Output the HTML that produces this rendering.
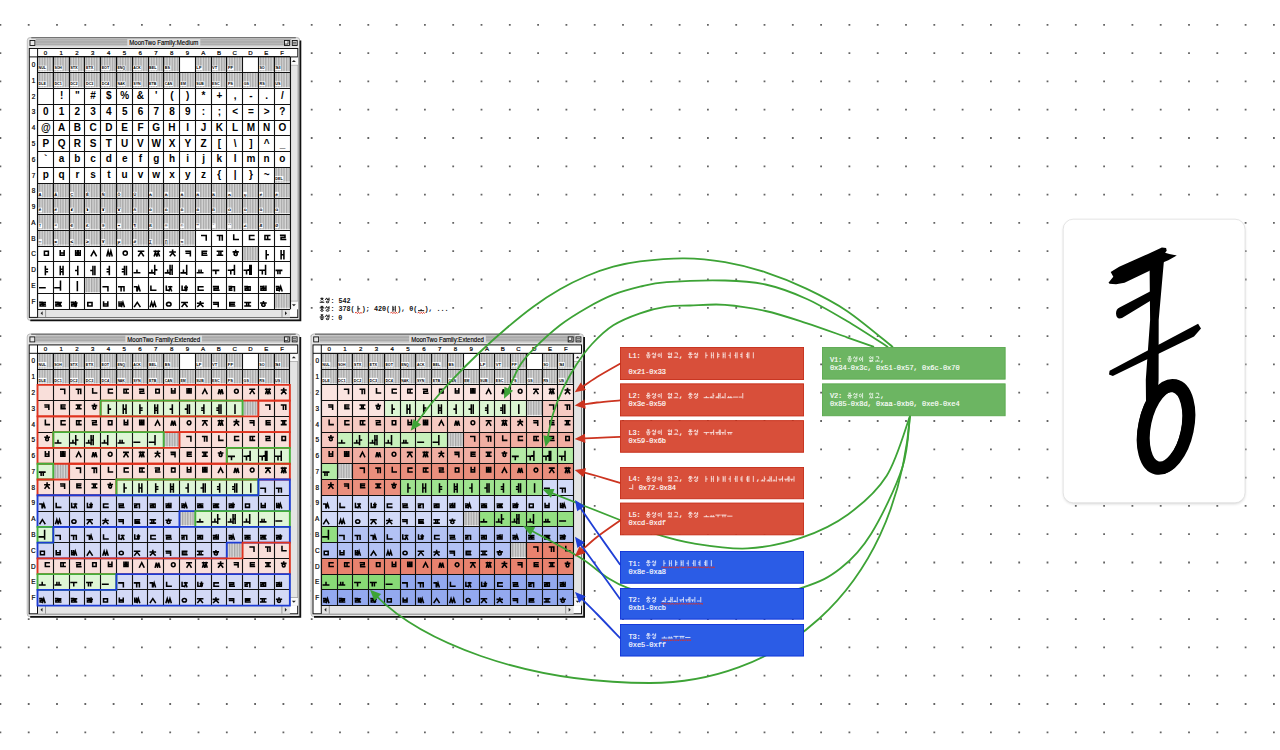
<!DOCTYPE html><html><head><meta charset="utf-8"><style>html,body{margin:0;padding:0;background:#fff;width:1280px;height:750px;overflow:hidden}svg{display:block}</style></head><body><svg width="1280" height="750" viewBox="0 0 1280 750"><defs><pattern id="hatch" patternUnits="userSpaceOnUse" width="2.6" height="4"><rect width="2.6" height="4" fill="#d8d8d8"/><rect width="1.3" height="4" fill="#a6a6a6"/></pattern><filter id="sh" x="-10%" y="-10%" width="120%" height="120%"><feGaussianBlur stdDeviation="1.6"/></filter></defs><path fill="#646464" d="M-0.5 23.9h1.8v1.8h-1.8zM27.8 23.9h1.8v1.8h-1.8zM56.1 23.9h1.8v1.8h-1.8zM84.4 23.9h1.8v1.8h-1.8zM112.7 23.9h1.8v1.8h-1.8zM141 23.9h1.8v1.8h-1.8zM169.3 23.9h1.8v1.8h-1.8zM197.6 23.9h1.8v1.8h-1.8zM225.9 23.9h1.8v1.8h-1.8zM254.2 23.9h1.8v1.8h-1.8zM282.5 23.9h1.8v1.8h-1.8zM310.8 23.9h1.8v1.8h-1.8zM339.1 23.9h1.8v1.8h-1.8zM367.4 23.9h1.8v1.8h-1.8zM395.7 23.9h1.8v1.8h-1.8zM424 23.9h1.8v1.8h-1.8zM452.3 23.9h1.8v1.8h-1.8zM480.6 23.9h1.8v1.8h-1.8zM508.9 23.9h1.8v1.8h-1.8zM537.2 23.9h1.8v1.8h-1.8zM565.5 23.9h1.8v1.8h-1.8zM593.8 23.9h1.8v1.8h-1.8zM622.1 23.9h1.8v1.8h-1.8zM650.4 23.9h1.8v1.8h-1.8zM678.7 23.9h1.8v1.8h-1.8zM707 23.9h1.8v1.8h-1.8zM735.3 23.9h1.8v1.8h-1.8zM763.6 23.9h1.8v1.8h-1.8zM791.9 23.9h1.8v1.8h-1.8zM820.2 23.9h1.8v1.8h-1.8zM848.5 23.9h1.8v1.8h-1.8zM876.8 23.9h1.8v1.8h-1.8zM905.1 23.9h1.8v1.8h-1.8zM933.4 23.9h1.8v1.8h-1.8zM961.7 23.9h1.8v1.8h-1.8zM990 23.9h1.8v1.8h-1.8zM1018.3 23.9h1.8v1.8h-1.8zM1046.6 23.9h1.8v1.8h-1.8zM1074.9 23.9h1.8v1.8h-1.8zM1103.2 23.9h1.8v1.8h-1.8zM1131.5 23.9h1.8v1.8h-1.8zM1159.8 23.9h1.8v1.8h-1.8zM1188.1 23.9h1.8v1.8h-1.8zM1216.4 23.9h1.8v1.8h-1.8zM1244.7 23.9h1.8v1.8h-1.8zM1273 23.9h1.8v1.8h-1.8zM-0.5 52.2h1.8v1.8h-1.8zM27.8 52.2h1.8v1.8h-1.8zM56.1 52.2h1.8v1.8h-1.8zM84.4 52.2h1.8v1.8h-1.8zM112.7 52.2h1.8v1.8h-1.8zM141 52.2h1.8v1.8h-1.8zM169.3 52.2h1.8v1.8h-1.8zM197.6 52.2h1.8v1.8h-1.8zM225.9 52.2h1.8v1.8h-1.8zM254.2 52.2h1.8v1.8h-1.8zM282.5 52.2h1.8v1.8h-1.8zM310.8 52.2h1.8v1.8h-1.8zM339.1 52.2h1.8v1.8h-1.8zM367.4 52.2h1.8v1.8h-1.8zM395.7 52.2h1.8v1.8h-1.8zM424 52.2h1.8v1.8h-1.8zM452.3 52.2h1.8v1.8h-1.8zM480.6 52.2h1.8v1.8h-1.8zM508.9 52.2h1.8v1.8h-1.8zM537.2 52.2h1.8v1.8h-1.8zM565.5 52.2h1.8v1.8h-1.8zM593.8 52.2h1.8v1.8h-1.8zM622.1 52.2h1.8v1.8h-1.8zM650.4 52.2h1.8v1.8h-1.8zM678.7 52.2h1.8v1.8h-1.8zM707 52.2h1.8v1.8h-1.8zM735.3 52.2h1.8v1.8h-1.8zM763.6 52.2h1.8v1.8h-1.8zM791.9 52.2h1.8v1.8h-1.8zM820.2 52.2h1.8v1.8h-1.8zM848.5 52.2h1.8v1.8h-1.8zM876.8 52.2h1.8v1.8h-1.8zM905.1 52.2h1.8v1.8h-1.8zM933.4 52.2h1.8v1.8h-1.8zM961.7 52.2h1.8v1.8h-1.8zM990 52.2h1.8v1.8h-1.8zM1018.3 52.2h1.8v1.8h-1.8zM1046.6 52.2h1.8v1.8h-1.8zM1074.9 52.2h1.8v1.8h-1.8zM1103.2 52.2h1.8v1.8h-1.8zM1131.5 52.2h1.8v1.8h-1.8zM1159.8 52.2h1.8v1.8h-1.8zM1188.1 52.2h1.8v1.8h-1.8zM1216.4 52.2h1.8v1.8h-1.8zM1244.7 52.2h1.8v1.8h-1.8zM1273 52.2h1.8v1.8h-1.8zM-0.5 80.5h1.8v1.8h-1.8zM27.8 80.5h1.8v1.8h-1.8zM56.1 80.5h1.8v1.8h-1.8zM84.4 80.5h1.8v1.8h-1.8zM112.7 80.5h1.8v1.8h-1.8zM141 80.5h1.8v1.8h-1.8zM169.3 80.5h1.8v1.8h-1.8zM197.6 80.5h1.8v1.8h-1.8zM225.9 80.5h1.8v1.8h-1.8zM254.2 80.5h1.8v1.8h-1.8zM282.5 80.5h1.8v1.8h-1.8zM310.8 80.5h1.8v1.8h-1.8zM339.1 80.5h1.8v1.8h-1.8zM367.4 80.5h1.8v1.8h-1.8zM395.7 80.5h1.8v1.8h-1.8zM424 80.5h1.8v1.8h-1.8zM452.3 80.5h1.8v1.8h-1.8zM480.6 80.5h1.8v1.8h-1.8zM508.9 80.5h1.8v1.8h-1.8zM537.2 80.5h1.8v1.8h-1.8zM565.5 80.5h1.8v1.8h-1.8zM593.8 80.5h1.8v1.8h-1.8zM622.1 80.5h1.8v1.8h-1.8zM650.4 80.5h1.8v1.8h-1.8zM678.7 80.5h1.8v1.8h-1.8zM707 80.5h1.8v1.8h-1.8zM735.3 80.5h1.8v1.8h-1.8zM763.6 80.5h1.8v1.8h-1.8zM791.9 80.5h1.8v1.8h-1.8zM820.2 80.5h1.8v1.8h-1.8zM848.5 80.5h1.8v1.8h-1.8zM876.8 80.5h1.8v1.8h-1.8zM905.1 80.5h1.8v1.8h-1.8zM933.4 80.5h1.8v1.8h-1.8zM961.7 80.5h1.8v1.8h-1.8zM990 80.5h1.8v1.8h-1.8zM1018.3 80.5h1.8v1.8h-1.8zM1046.6 80.5h1.8v1.8h-1.8zM1074.9 80.5h1.8v1.8h-1.8zM1103.2 80.5h1.8v1.8h-1.8zM1131.5 80.5h1.8v1.8h-1.8zM1159.8 80.5h1.8v1.8h-1.8zM1188.1 80.5h1.8v1.8h-1.8zM1216.4 80.5h1.8v1.8h-1.8zM1244.7 80.5h1.8v1.8h-1.8zM1273 80.5h1.8v1.8h-1.8zM-0.5 108.8h1.8v1.8h-1.8zM27.8 108.8h1.8v1.8h-1.8zM56.1 108.8h1.8v1.8h-1.8zM84.4 108.8h1.8v1.8h-1.8zM112.7 108.8h1.8v1.8h-1.8zM141 108.8h1.8v1.8h-1.8zM169.3 108.8h1.8v1.8h-1.8zM197.6 108.8h1.8v1.8h-1.8zM225.9 108.8h1.8v1.8h-1.8zM254.2 108.8h1.8v1.8h-1.8zM282.5 108.8h1.8v1.8h-1.8zM310.8 108.8h1.8v1.8h-1.8zM339.1 108.8h1.8v1.8h-1.8zM367.4 108.8h1.8v1.8h-1.8zM395.7 108.8h1.8v1.8h-1.8zM424 108.8h1.8v1.8h-1.8zM452.3 108.8h1.8v1.8h-1.8zM480.6 108.8h1.8v1.8h-1.8zM508.9 108.8h1.8v1.8h-1.8zM537.2 108.8h1.8v1.8h-1.8zM565.5 108.8h1.8v1.8h-1.8zM593.8 108.8h1.8v1.8h-1.8zM622.1 108.8h1.8v1.8h-1.8zM650.4 108.8h1.8v1.8h-1.8zM678.7 108.8h1.8v1.8h-1.8zM707 108.8h1.8v1.8h-1.8zM735.3 108.8h1.8v1.8h-1.8zM763.6 108.8h1.8v1.8h-1.8zM791.9 108.8h1.8v1.8h-1.8zM820.2 108.8h1.8v1.8h-1.8zM848.5 108.8h1.8v1.8h-1.8zM876.8 108.8h1.8v1.8h-1.8zM905.1 108.8h1.8v1.8h-1.8zM933.4 108.8h1.8v1.8h-1.8zM961.7 108.8h1.8v1.8h-1.8zM990 108.8h1.8v1.8h-1.8zM1018.3 108.8h1.8v1.8h-1.8zM1046.6 108.8h1.8v1.8h-1.8zM1074.9 108.8h1.8v1.8h-1.8zM1103.2 108.8h1.8v1.8h-1.8zM1131.5 108.8h1.8v1.8h-1.8zM1159.8 108.8h1.8v1.8h-1.8zM1188.1 108.8h1.8v1.8h-1.8zM1216.4 108.8h1.8v1.8h-1.8zM1244.7 108.8h1.8v1.8h-1.8zM1273 108.8h1.8v1.8h-1.8zM-0.5 137.1h1.8v1.8h-1.8zM27.8 137.1h1.8v1.8h-1.8zM56.1 137.1h1.8v1.8h-1.8zM84.4 137.1h1.8v1.8h-1.8zM112.7 137.1h1.8v1.8h-1.8zM141 137.1h1.8v1.8h-1.8zM169.3 137.1h1.8v1.8h-1.8zM197.6 137.1h1.8v1.8h-1.8zM225.9 137.1h1.8v1.8h-1.8zM254.2 137.1h1.8v1.8h-1.8zM282.5 137.1h1.8v1.8h-1.8zM310.8 137.1h1.8v1.8h-1.8zM339.1 137.1h1.8v1.8h-1.8zM367.4 137.1h1.8v1.8h-1.8zM395.7 137.1h1.8v1.8h-1.8zM424 137.1h1.8v1.8h-1.8zM452.3 137.1h1.8v1.8h-1.8zM480.6 137.1h1.8v1.8h-1.8zM508.9 137.1h1.8v1.8h-1.8zM537.2 137.1h1.8v1.8h-1.8zM565.5 137.1h1.8v1.8h-1.8zM593.8 137.1h1.8v1.8h-1.8zM622.1 137.1h1.8v1.8h-1.8zM650.4 137.1h1.8v1.8h-1.8zM678.7 137.1h1.8v1.8h-1.8zM707 137.1h1.8v1.8h-1.8zM735.3 137.1h1.8v1.8h-1.8zM763.6 137.1h1.8v1.8h-1.8zM791.9 137.1h1.8v1.8h-1.8zM820.2 137.1h1.8v1.8h-1.8zM848.5 137.1h1.8v1.8h-1.8zM876.8 137.1h1.8v1.8h-1.8zM905.1 137.1h1.8v1.8h-1.8zM933.4 137.1h1.8v1.8h-1.8zM961.7 137.1h1.8v1.8h-1.8zM990 137.1h1.8v1.8h-1.8zM1018.3 137.1h1.8v1.8h-1.8zM1046.6 137.1h1.8v1.8h-1.8zM1074.9 137.1h1.8v1.8h-1.8zM1103.2 137.1h1.8v1.8h-1.8zM1131.5 137.1h1.8v1.8h-1.8zM1159.8 137.1h1.8v1.8h-1.8zM1188.1 137.1h1.8v1.8h-1.8zM1216.4 137.1h1.8v1.8h-1.8zM1244.7 137.1h1.8v1.8h-1.8zM1273 137.1h1.8v1.8h-1.8zM-0.5 165.4h1.8v1.8h-1.8zM27.8 165.4h1.8v1.8h-1.8zM56.1 165.4h1.8v1.8h-1.8zM84.4 165.4h1.8v1.8h-1.8zM112.7 165.4h1.8v1.8h-1.8zM141 165.4h1.8v1.8h-1.8zM169.3 165.4h1.8v1.8h-1.8zM197.6 165.4h1.8v1.8h-1.8zM225.9 165.4h1.8v1.8h-1.8zM254.2 165.4h1.8v1.8h-1.8zM282.5 165.4h1.8v1.8h-1.8zM310.8 165.4h1.8v1.8h-1.8zM339.1 165.4h1.8v1.8h-1.8zM367.4 165.4h1.8v1.8h-1.8zM395.7 165.4h1.8v1.8h-1.8zM424 165.4h1.8v1.8h-1.8zM452.3 165.4h1.8v1.8h-1.8zM480.6 165.4h1.8v1.8h-1.8zM508.9 165.4h1.8v1.8h-1.8zM537.2 165.4h1.8v1.8h-1.8zM565.5 165.4h1.8v1.8h-1.8zM593.8 165.4h1.8v1.8h-1.8zM622.1 165.4h1.8v1.8h-1.8zM650.4 165.4h1.8v1.8h-1.8zM678.7 165.4h1.8v1.8h-1.8zM707 165.4h1.8v1.8h-1.8zM735.3 165.4h1.8v1.8h-1.8zM763.6 165.4h1.8v1.8h-1.8zM791.9 165.4h1.8v1.8h-1.8zM820.2 165.4h1.8v1.8h-1.8zM848.5 165.4h1.8v1.8h-1.8zM876.8 165.4h1.8v1.8h-1.8zM905.1 165.4h1.8v1.8h-1.8zM933.4 165.4h1.8v1.8h-1.8zM961.7 165.4h1.8v1.8h-1.8zM990 165.4h1.8v1.8h-1.8zM1018.3 165.4h1.8v1.8h-1.8zM1046.6 165.4h1.8v1.8h-1.8zM1074.9 165.4h1.8v1.8h-1.8zM1103.2 165.4h1.8v1.8h-1.8zM1131.5 165.4h1.8v1.8h-1.8zM1159.8 165.4h1.8v1.8h-1.8zM1188.1 165.4h1.8v1.8h-1.8zM1216.4 165.4h1.8v1.8h-1.8zM1244.7 165.4h1.8v1.8h-1.8zM1273 165.4h1.8v1.8h-1.8zM-0.5 193.7h1.8v1.8h-1.8zM27.8 193.7h1.8v1.8h-1.8zM56.1 193.7h1.8v1.8h-1.8zM84.4 193.7h1.8v1.8h-1.8zM112.7 193.7h1.8v1.8h-1.8zM141 193.7h1.8v1.8h-1.8zM169.3 193.7h1.8v1.8h-1.8zM197.6 193.7h1.8v1.8h-1.8zM225.9 193.7h1.8v1.8h-1.8zM254.2 193.7h1.8v1.8h-1.8zM282.5 193.7h1.8v1.8h-1.8zM310.8 193.7h1.8v1.8h-1.8zM339.1 193.7h1.8v1.8h-1.8zM367.4 193.7h1.8v1.8h-1.8zM395.7 193.7h1.8v1.8h-1.8zM424 193.7h1.8v1.8h-1.8zM452.3 193.7h1.8v1.8h-1.8zM480.6 193.7h1.8v1.8h-1.8zM508.9 193.7h1.8v1.8h-1.8zM537.2 193.7h1.8v1.8h-1.8zM565.5 193.7h1.8v1.8h-1.8zM593.8 193.7h1.8v1.8h-1.8zM622.1 193.7h1.8v1.8h-1.8zM650.4 193.7h1.8v1.8h-1.8zM678.7 193.7h1.8v1.8h-1.8zM707 193.7h1.8v1.8h-1.8zM735.3 193.7h1.8v1.8h-1.8zM763.6 193.7h1.8v1.8h-1.8zM791.9 193.7h1.8v1.8h-1.8zM820.2 193.7h1.8v1.8h-1.8zM848.5 193.7h1.8v1.8h-1.8zM876.8 193.7h1.8v1.8h-1.8zM905.1 193.7h1.8v1.8h-1.8zM933.4 193.7h1.8v1.8h-1.8zM961.7 193.7h1.8v1.8h-1.8zM990 193.7h1.8v1.8h-1.8zM1018.3 193.7h1.8v1.8h-1.8zM1046.6 193.7h1.8v1.8h-1.8zM1074.9 193.7h1.8v1.8h-1.8zM1103.2 193.7h1.8v1.8h-1.8zM1131.5 193.7h1.8v1.8h-1.8zM1159.8 193.7h1.8v1.8h-1.8zM1188.1 193.7h1.8v1.8h-1.8zM1216.4 193.7h1.8v1.8h-1.8zM1244.7 193.7h1.8v1.8h-1.8zM1273 193.7h1.8v1.8h-1.8zM-0.5 222h1.8v1.8h-1.8zM27.8 222h1.8v1.8h-1.8zM56.1 222h1.8v1.8h-1.8zM84.4 222h1.8v1.8h-1.8zM112.7 222h1.8v1.8h-1.8zM141 222h1.8v1.8h-1.8zM169.3 222h1.8v1.8h-1.8zM197.6 222h1.8v1.8h-1.8zM225.9 222h1.8v1.8h-1.8zM254.2 222h1.8v1.8h-1.8zM282.5 222h1.8v1.8h-1.8zM310.8 222h1.8v1.8h-1.8zM339.1 222h1.8v1.8h-1.8zM367.4 222h1.8v1.8h-1.8zM395.7 222h1.8v1.8h-1.8zM424 222h1.8v1.8h-1.8zM452.3 222h1.8v1.8h-1.8zM480.6 222h1.8v1.8h-1.8zM508.9 222h1.8v1.8h-1.8zM537.2 222h1.8v1.8h-1.8zM565.5 222h1.8v1.8h-1.8zM593.8 222h1.8v1.8h-1.8zM622.1 222h1.8v1.8h-1.8zM650.4 222h1.8v1.8h-1.8zM678.7 222h1.8v1.8h-1.8zM707 222h1.8v1.8h-1.8zM735.3 222h1.8v1.8h-1.8zM763.6 222h1.8v1.8h-1.8zM791.9 222h1.8v1.8h-1.8zM820.2 222h1.8v1.8h-1.8zM848.5 222h1.8v1.8h-1.8zM876.8 222h1.8v1.8h-1.8zM905.1 222h1.8v1.8h-1.8zM933.4 222h1.8v1.8h-1.8zM961.7 222h1.8v1.8h-1.8zM990 222h1.8v1.8h-1.8zM1018.3 222h1.8v1.8h-1.8zM1046.6 222h1.8v1.8h-1.8zM1074.9 222h1.8v1.8h-1.8zM1103.2 222h1.8v1.8h-1.8zM1131.5 222h1.8v1.8h-1.8zM1159.8 222h1.8v1.8h-1.8zM1188.1 222h1.8v1.8h-1.8zM1216.4 222h1.8v1.8h-1.8zM1244.7 222h1.8v1.8h-1.8zM1273 222h1.8v1.8h-1.8zM-0.5 250.3h1.8v1.8h-1.8zM27.8 250.3h1.8v1.8h-1.8zM56.1 250.3h1.8v1.8h-1.8zM84.4 250.3h1.8v1.8h-1.8zM112.7 250.3h1.8v1.8h-1.8zM141 250.3h1.8v1.8h-1.8zM169.3 250.3h1.8v1.8h-1.8zM197.6 250.3h1.8v1.8h-1.8zM225.9 250.3h1.8v1.8h-1.8zM254.2 250.3h1.8v1.8h-1.8zM282.5 250.3h1.8v1.8h-1.8zM310.8 250.3h1.8v1.8h-1.8zM339.1 250.3h1.8v1.8h-1.8zM367.4 250.3h1.8v1.8h-1.8zM395.7 250.3h1.8v1.8h-1.8zM424 250.3h1.8v1.8h-1.8zM452.3 250.3h1.8v1.8h-1.8zM480.6 250.3h1.8v1.8h-1.8zM508.9 250.3h1.8v1.8h-1.8zM537.2 250.3h1.8v1.8h-1.8zM565.5 250.3h1.8v1.8h-1.8zM593.8 250.3h1.8v1.8h-1.8zM622.1 250.3h1.8v1.8h-1.8zM650.4 250.3h1.8v1.8h-1.8zM678.7 250.3h1.8v1.8h-1.8zM707 250.3h1.8v1.8h-1.8zM735.3 250.3h1.8v1.8h-1.8zM763.6 250.3h1.8v1.8h-1.8zM791.9 250.3h1.8v1.8h-1.8zM820.2 250.3h1.8v1.8h-1.8zM848.5 250.3h1.8v1.8h-1.8zM876.8 250.3h1.8v1.8h-1.8zM905.1 250.3h1.8v1.8h-1.8zM933.4 250.3h1.8v1.8h-1.8zM961.7 250.3h1.8v1.8h-1.8zM990 250.3h1.8v1.8h-1.8zM1018.3 250.3h1.8v1.8h-1.8zM1046.6 250.3h1.8v1.8h-1.8zM1074.9 250.3h1.8v1.8h-1.8zM1103.2 250.3h1.8v1.8h-1.8zM1131.5 250.3h1.8v1.8h-1.8zM1159.8 250.3h1.8v1.8h-1.8zM1188.1 250.3h1.8v1.8h-1.8zM1216.4 250.3h1.8v1.8h-1.8zM1244.7 250.3h1.8v1.8h-1.8zM1273 250.3h1.8v1.8h-1.8zM-0.5 278.6h1.8v1.8h-1.8zM27.8 278.6h1.8v1.8h-1.8zM56.1 278.6h1.8v1.8h-1.8zM84.4 278.6h1.8v1.8h-1.8zM112.7 278.6h1.8v1.8h-1.8zM141 278.6h1.8v1.8h-1.8zM169.3 278.6h1.8v1.8h-1.8zM197.6 278.6h1.8v1.8h-1.8zM225.9 278.6h1.8v1.8h-1.8zM254.2 278.6h1.8v1.8h-1.8zM282.5 278.6h1.8v1.8h-1.8zM310.8 278.6h1.8v1.8h-1.8zM339.1 278.6h1.8v1.8h-1.8zM367.4 278.6h1.8v1.8h-1.8zM395.7 278.6h1.8v1.8h-1.8zM424 278.6h1.8v1.8h-1.8zM452.3 278.6h1.8v1.8h-1.8zM480.6 278.6h1.8v1.8h-1.8zM508.9 278.6h1.8v1.8h-1.8zM537.2 278.6h1.8v1.8h-1.8zM565.5 278.6h1.8v1.8h-1.8zM593.8 278.6h1.8v1.8h-1.8zM622.1 278.6h1.8v1.8h-1.8zM650.4 278.6h1.8v1.8h-1.8zM678.7 278.6h1.8v1.8h-1.8zM707 278.6h1.8v1.8h-1.8zM735.3 278.6h1.8v1.8h-1.8zM763.6 278.6h1.8v1.8h-1.8zM791.9 278.6h1.8v1.8h-1.8zM820.2 278.6h1.8v1.8h-1.8zM848.5 278.6h1.8v1.8h-1.8zM876.8 278.6h1.8v1.8h-1.8zM905.1 278.6h1.8v1.8h-1.8zM933.4 278.6h1.8v1.8h-1.8zM961.7 278.6h1.8v1.8h-1.8zM990 278.6h1.8v1.8h-1.8zM1018.3 278.6h1.8v1.8h-1.8zM1046.6 278.6h1.8v1.8h-1.8zM1074.9 278.6h1.8v1.8h-1.8zM1103.2 278.6h1.8v1.8h-1.8zM1131.5 278.6h1.8v1.8h-1.8zM1159.8 278.6h1.8v1.8h-1.8zM1188.1 278.6h1.8v1.8h-1.8zM1216.4 278.6h1.8v1.8h-1.8zM1244.7 278.6h1.8v1.8h-1.8zM1273 278.6h1.8v1.8h-1.8zM-0.5 306.9h1.8v1.8h-1.8zM27.8 306.9h1.8v1.8h-1.8zM56.1 306.9h1.8v1.8h-1.8zM84.4 306.9h1.8v1.8h-1.8zM112.7 306.9h1.8v1.8h-1.8zM141 306.9h1.8v1.8h-1.8zM169.3 306.9h1.8v1.8h-1.8zM197.6 306.9h1.8v1.8h-1.8zM225.9 306.9h1.8v1.8h-1.8zM254.2 306.9h1.8v1.8h-1.8zM282.5 306.9h1.8v1.8h-1.8zM310.8 306.9h1.8v1.8h-1.8zM339.1 306.9h1.8v1.8h-1.8zM367.4 306.9h1.8v1.8h-1.8zM395.7 306.9h1.8v1.8h-1.8zM424 306.9h1.8v1.8h-1.8zM452.3 306.9h1.8v1.8h-1.8zM480.6 306.9h1.8v1.8h-1.8zM508.9 306.9h1.8v1.8h-1.8zM537.2 306.9h1.8v1.8h-1.8zM565.5 306.9h1.8v1.8h-1.8zM593.8 306.9h1.8v1.8h-1.8zM622.1 306.9h1.8v1.8h-1.8zM650.4 306.9h1.8v1.8h-1.8zM678.7 306.9h1.8v1.8h-1.8zM707 306.9h1.8v1.8h-1.8zM735.3 306.9h1.8v1.8h-1.8zM763.6 306.9h1.8v1.8h-1.8zM791.9 306.9h1.8v1.8h-1.8zM820.2 306.9h1.8v1.8h-1.8zM848.5 306.9h1.8v1.8h-1.8zM876.8 306.9h1.8v1.8h-1.8zM905.1 306.9h1.8v1.8h-1.8zM933.4 306.9h1.8v1.8h-1.8zM961.7 306.9h1.8v1.8h-1.8zM990 306.9h1.8v1.8h-1.8zM1018.3 306.9h1.8v1.8h-1.8zM1046.6 306.9h1.8v1.8h-1.8zM1074.9 306.9h1.8v1.8h-1.8zM1103.2 306.9h1.8v1.8h-1.8zM1131.5 306.9h1.8v1.8h-1.8zM1159.8 306.9h1.8v1.8h-1.8zM1188.1 306.9h1.8v1.8h-1.8zM1216.4 306.9h1.8v1.8h-1.8zM1244.7 306.9h1.8v1.8h-1.8zM1273 306.9h1.8v1.8h-1.8zM-0.5 335.2h1.8v1.8h-1.8zM27.8 335.2h1.8v1.8h-1.8zM56.1 335.2h1.8v1.8h-1.8zM84.4 335.2h1.8v1.8h-1.8zM112.7 335.2h1.8v1.8h-1.8zM141 335.2h1.8v1.8h-1.8zM169.3 335.2h1.8v1.8h-1.8zM197.6 335.2h1.8v1.8h-1.8zM225.9 335.2h1.8v1.8h-1.8zM254.2 335.2h1.8v1.8h-1.8zM282.5 335.2h1.8v1.8h-1.8zM310.8 335.2h1.8v1.8h-1.8zM339.1 335.2h1.8v1.8h-1.8zM367.4 335.2h1.8v1.8h-1.8zM395.7 335.2h1.8v1.8h-1.8zM424 335.2h1.8v1.8h-1.8zM452.3 335.2h1.8v1.8h-1.8zM480.6 335.2h1.8v1.8h-1.8zM508.9 335.2h1.8v1.8h-1.8zM537.2 335.2h1.8v1.8h-1.8zM565.5 335.2h1.8v1.8h-1.8zM593.8 335.2h1.8v1.8h-1.8zM622.1 335.2h1.8v1.8h-1.8zM650.4 335.2h1.8v1.8h-1.8zM678.7 335.2h1.8v1.8h-1.8zM707 335.2h1.8v1.8h-1.8zM735.3 335.2h1.8v1.8h-1.8zM763.6 335.2h1.8v1.8h-1.8zM791.9 335.2h1.8v1.8h-1.8zM820.2 335.2h1.8v1.8h-1.8zM848.5 335.2h1.8v1.8h-1.8zM876.8 335.2h1.8v1.8h-1.8zM905.1 335.2h1.8v1.8h-1.8zM933.4 335.2h1.8v1.8h-1.8zM961.7 335.2h1.8v1.8h-1.8zM990 335.2h1.8v1.8h-1.8zM1018.3 335.2h1.8v1.8h-1.8zM1046.6 335.2h1.8v1.8h-1.8zM1074.9 335.2h1.8v1.8h-1.8zM1103.2 335.2h1.8v1.8h-1.8zM1131.5 335.2h1.8v1.8h-1.8zM1159.8 335.2h1.8v1.8h-1.8zM1188.1 335.2h1.8v1.8h-1.8zM1216.4 335.2h1.8v1.8h-1.8zM1244.7 335.2h1.8v1.8h-1.8zM1273 335.2h1.8v1.8h-1.8zM-0.5 363.5h1.8v1.8h-1.8zM27.8 363.5h1.8v1.8h-1.8zM56.1 363.5h1.8v1.8h-1.8zM84.4 363.5h1.8v1.8h-1.8zM112.7 363.5h1.8v1.8h-1.8zM141 363.5h1.8v1.8h-1.8zM169.3 363.5h1.8v1.8h-1.8zM197.6 363.5h1.8v1.8h-1.8zM225.9 363.5h1.8v1.8h-1.8zM254.2 363.5h1.8v1.8h-1.8zM282.5 363.5h1.8v1.8h-1.8zM310.8 363.5h1.8v1.8h-1.8zM339.1 363.5h1.8v1.8h-1.8zM367.4 363.5h1.8v1.8h-1.8zM395.7 363.5h1.8v1.8h-1.8zM424 363.5h1.8v1.8h-1.8zM452.3 363.5h1.8v1.8h-1.8zM480.6 363.5h1.8v1.8h-1.8zM508.9 363.5h1.8v1.8h-1.8zM537.2 363.5h1.8v1.8h-1.8zM565.5 363.5h1.8v1.8h-1.8zM593.8 363.5h1.8v1.8h-1.8zM622.1 363.5h1.8v1.8h-1.8zM650.4 363.5h1.8v1.8h-1.8zM678.7 363.5h1.8v1.8h-1.8zM707 363.5h1.8v1.8h-1.8zM735.3 363.5h1.8v1.8h-1.8zM763.6 363.5h1.8v1.8h-1.8zM791.9 363.5h1.8v1.8h-1.8zM820.2 363.5h1.8v1.8h-1.8zM848.5 363.5h1.8v1.8h-1.8zM876.8 363.5h1.8v1.8h-1.8zM905.1 363.5h1.8v1.8h-1.8zM933.4 363.5h1.8v1.8h-1.8zM961.7 363.5h1.8v1.8h-1.8zM990 363.5h1.8v1.8h-1.8zM1018.3 363.5h1.8v1.8h-1.8zM1046.6 363.5h1.8v1.8h-1.8zM1074.9 363.5h1.8v1.8h-1.8zM1103.2 363.5h1.8v1.8h-1.8zM1131.5 363.5h1.8v1.8h-1.8zM1159.8 363.5h1.8v1.8h-1.8zM1188.1 363.5h1.8v1.8h-1.8zM1216.4 363.5h1.8v1.8h-1.8zM1244.7 363.5h1.8v1.8h-1.8zM1273 363.5h1.8v1.8h-1.8zM-0.5 391.8h1.8v1.8h-1.8zM27.8 391.8h1.8v1.8h-1.8zM56.1 391.8h1.8v1.8h-1.8zM84.4 391.8h1.8v1.8h-1.8zM112.7 391.8h1.8v1.8h-1.8zM141 391.8h1.8v1.8h-1.8zM169.3 391.8h1.8v1.8h-1.8zM197.6 391.8h1.8v1.8h-1.8zM225.9 391.8h1.8v1.8h-1.8zM254.2 391.8h1.8v1.8h-1.8zM282.5 391.8h1.8v1.8h-1.8zM310.8 391.8h1.8v1.8h-1.8zM339.1 391.8h1.8v1.8h-1.8zM367.4 391.8h1.8v1.8h-1.8zM395.7 391.8h1.8v1.8h-1.8zM424 391.8h1.8v1.8h-1.8zM452.3 391.8h1.8v1.8h-1.8zM480.6 391.8h1.8v1.8h-1.8zM508.9 391.8h1.8v1.8h-1.8zM537.2 391.8h1.8v1.8h-1.8zM565.5 391.8h1.8v1.8h-1.8zM593.8 391.8h1.8v1.8h-1.8zM622.1 391.8h1.8v1.8h-1.8zM650.4 391.8h1.8v1.8h-1.8zM678.7 391.8h1.8v1.8h-1.8zM707 391.8h1.8v1.8h-1.8zM735.3 391.8h1.8v1.8h-1.8zM763.6 391.8h1.8v1.8h-1.8zM791.9 391.8h1.8v1.8h-1.8zM820.2 391.8h1.8v1.8h-1.8zM848.5 391.8h1.8v1.8h-1.8zM876.8 391.8h1.8v1.8h-1.8zM905.1 391.8h1.8v1.8h-1.8zM933.4 391.8h1.8v1.8h-1.8zM961.7 391.8h1.8v1.8h-1.8zM990 391.8h1.8v1.8h-1.8zM1018.3 391.8h1.8v1.8h-1.8zM1046.6 391.8h1.8v1.8h-1.8zM1074.9 391.8h1.8v1.8h-1.8zM1103.2 391.8h1.8v1.8h-1.8zM1131.5 391.8h1.8v1.8h-1.8zM1159.8 391.8h1.8v1.8h-1.8zM1188.1 391.8h1.8v1.8h-1.8zM1216.4 391.8h1.8v1.8h-1.8zM1244.7 391.8h1.8v1.8h-1.8zM1273 391.8h1.8v1.8h-1.8zM-0.5 420.1h1.8v1.8h-1.8zM27.8 420.1h1.8v1.8h-1.8zM56.1 420.1h1.8v1.8h-1.8zM84.4 420.1h1.8v1.8h-1.8zM112.7 420.1h1.8v1.8h-1.8zM141 420.1h1.8v1.8h-1.8zM169.3 420.1h1.8v1.8h-1.8zM197.6 420.1h1.8v1.8h-1.8zM225.9 420.1h1.8v1.8h-1.8zM254.2 420.1h1.8v1.8h-1.8zM282.5 420.1h1.8v1.8h-1.8zM310.8 420.1h1.8v1.8h-1.8zM339.1 420.1h1.8v1.8h-1.8zM367.4 420.1h1.8v1.8h-1.8zM395.7 420.1h1.8v1.8h-1.8zM424 420.1h1.8v1.8h-1.8zM452.3 420.1h1.8v1.8h-1.8zM480.6 420.1h1.8v1.8h-1.8zM508.9 420.1h1.8v1.8h-1.8zM537.2 420.1h1.8v1.8h-1.8zM565.5 420.1h1.8v1.8h-1.8zM593.8 420.1h1.8v1.8h-1.8zM622.1 420.1h1.8v1.8h-1.8zM650.4 420.1h1.8v1.8h-1.8zM678.7 420.1h1.8v1.8h-1.8zM707 420.1h1.8v1.8h-1.8zM735.3 420.1h1.8v1.8h-1.8zM763.6 420.1h1.8v1.8h-1.8zM791.9 420.1h1.8v1.8h-1.8zM820.2 420.1h1.8v1.8h-1.8zM848.5 420.1h1.8v1.8h-1.8zM876.8 420.1h1.8v1.8h-1.8zM905.1 420.1h1.8v1.8h-1.8zM933.4 420.1h1.8v1.8h-1.8zM961.7 420.1h1.8v1.8h-1.8zM990 420.1h1.8v1.8h-1.8zM1018.3 420.1h1.8v1.8h-1.8zM1046.6 420.1h1.8v1.8h-1.8zM1074.9 420.1h1.8v1.8h-1.8zM1103.2 420.1h1.8v1.8h-1.8zM1131.5 420.1h1.8v1.8h-1.8zM1159.8 420.1h1.8v1.8h-1.8zM1188.1 420.1h1.8v1.8h-1.8zM1216.4 420.1h1.8v1.8h-1.8zM1244.7 420.1h1.8v1.8h-1.8zM1273 420.1h1.8v1.8h-1.8zM-0.5 448.4h1.8v1.8h-1.8zM27.8 448.4h1.8v1.8h-1.8zM56.1 448.4h1.8v1.8h-1.8zM84.4 448.4h1.8v1.8h-1.8zM112.7 448.4h1.8v1.8h-1.8zM141 448.4h1.8v1.8h-1.8zM169.3 448.4h1.8v1.8h-1.8zM197.6 448.4h1.8v1.8h-1.8zM225.9 448.4h1.8v1.8h-1.8zM254.2 448.4h1.8v1.8h-1.8zM282.5 448.4h1.8v1.8h-1.8zM310.8 448.4h1.8v1.8h-1.8zM339.1 448.4h1.8v1.8h-1.8zM367.4 448.4h1.8v1.8h-1.8zM395.7 448.4h1.8v1.8h-1.8zM424 448.4h1.8v1.8h-1.8zM452.3 448.4h1.8v1.8h-1.8zM480.6 448.4h1.8v1.8h-1.8zM508.9 448.4h1.8v1.8h-1.8zM537.2 448.4h1.8v1.8h-1.8zM565.5 448.4h1.8v1.8h-1.8zM593.8 448.4h1.8v1.8h-1.8zM622.1 448.4h1.8v1.8h-1.8zM650.4 448.4h1.8v1.8h-1.8zM678.7 448.4h1.8v1.8h-1.8zM707 448.4h1.8v1.8h-1.8zM735.3 448.4h1.8v1.8h-1.8zM763.6 448.4h1.8v1.8h-1.8zM791.9 448.4h1.8v1.8h-1.8zM820.2 448.4h1.8v1.8h-1.8zM848.5 448.4h1.8v1.8h-1.8zM876.8 448.4h1.8v1.8h-1.8zM905.1 448.4h1.8v1.8h-1.8zM933.4 448.4h1.8v1.8h-1.8zM961.7 448.4h1.8v1.8h-1.8zM990 448.4h1.8v1.8h-1.8zM1018.3 448.4h1.8v1.8h-1.8zM1046.6 448.4h1.8v1.8h-1.8zM1074.9 448.4h1.8v1.8h-1.8zM1103.2 448.4h1.8v1.8h-1.8zM1131.5 448.4h1.8v1.8h-1.8zM1159.8 448.4h1.8v1.8h-1.8zM1188.1 448.4h1.8v1.8h-1.8zM1216.4 448.4h1.8v1.8h-1.8zM1244.7 448.4h1.8v1.8h-1.8zM1273 448.4h1.8v1.8h-1.8zM-0.5 476.7h1.8v1.8h-1.8zM27.8 476.7h1.8v1.8h-1.8zM56.1 476.7h1.8v1.8h-1.8zM84.4 476.7h1.8v1.8h-1.8zM112.7 476.7h1.8v1.8h-1.8zM141 476.7h1.8v1.8h-1.8zM169.3 476.7h1.8v1.8h-1.8zM197.6 476.7h1.8v1.8h-1.8zM225.9 476.7h1.8v1.8h-1.8zM254.2 476.7h1.8v1.8h-1.8zM282.5 476.7h1.8v1.8h-1.8zM310.8 476.7h1.8v1.8h-1.8zM339.1 476.7h1.8v1.8h-1.8zM367.4 476.7h1.8v1.8h-1.8zM395.7 476.7h1.8v1.8h-1.8zM424 476.7h1.8v1.8h-1.8zM452.3 476.7h1.8v1.8h-1.8zM480.6 476.7h1.8v1.8h-1.8zM508.9 476.7h1.8v1.8h-1.8zM537.2 476.7h1.8v1.8h-1.8zM565.5 476.7h1.8v1.8h-1.8zM593.8 476.7h1.8v1.8h-1.8zM622.1 476.7h1.8v1.8h-1.8zM650.4 476.7h1.8v1.8h-1.8zM678.7 476.7h1.8v1.8h-1.8zM707 476.7h1.8v1.8h-1.8zM735.3 476.7h1.8v1.8h-1.8zM763.6 476.7h1.8v1.8h-1.8zM791.9 476.7h1.8v1.8h-1.8zM820.2 476.7h1.8v1.8h-1.8zM848.5 476.7h1.8v1.8h-1.8zM876.8 476.7h1.8v1.8h-1.8zM905.1 476.7h1.8v1.8h-1.8zM933.4 476.7h1.8v1.8h-1.8zM961.7 476.7h1.8v1.8h-1.8zM990 476.7h1.8v1.8h-1.8zM1018.3 476.7h1.8v1.8h-1.8zM1046.6 476.7h1.8v1.8h-1.8zM1074.9 476.7h1.8v1.8h-1.8zM1103.2 476.7h1.8v1.8h-1.8zM1131.5 476.7h1.8v1.8h-1.8zM1159.8 476.7h1.8v1.8h-1.8zM1188.1 476.7h1.8v1.8h-1.8zM1216.4 476.7h1.8v1.8h-1.8zM1244.7 476.7h1.8v1.8h-1.8zM1273 476.7h1.8v1.8h-1.8zM-0.5 505h1.8v1.8h-1.8zM27.8 505h1.8v1.8h-1.8zM56.1 505h1.8v1.8h-1.8zM84.4 505h1.8v1.8h-1.8zM112.7 505h1.8v1.8h-1.8zM141 505h1.8v1.8h-1.8zM169.3 505h1.8v1.8h-1.8zM197.6 505h1.8v1.8h-1.8zM225.9 505h1.8v1.8h-1.8zM254.2 505h1.8v1.8h-1.8zM282.5 505h1.8v1.8h-1.8zM310.8 505h1.8v1.8h-1.8zM339.1 505h1.8v1.8h-1.8zM367.4 505h1.8v1.8h-1.8zM395.7 505h1.8v1.8h-1.8zM424 505h1.8v1.8h-1.8zM452.3 505h1.8v1.8h-1.8zM480.6 505h1.8v1.8h-1.8zM508.9 505h1.8v1.8h-1.8zM537.2 505h1.8v1.8h-1.8zM565.5 505h1.8v1.8h-1.8zM593.8 505h1.8v1.8h-1.8zM622.1 505h1.8v1.8h-1.8zM650.4 505h1.8v1.8h-1.8zM678.7 505h1.8v1.8h-1.8zM707 505h1.8v1.8h-1.8zM735.3 505h1.8v1.8h-1.8zM763.6 505h1.8v1.8h-1.8zM791.9 505h1.8v1.8h-1.8zM820.2 505h1.8v1.8h-1.8zM848.5 505h1.8v1.8h-1.8zM876.8 505h1.8v1.8h-1.8zM905.1 505h1.8v1.8h-1.8zM933.4 505h1.8v1.8h-1.8zM961.7 505h1.8v1.8h-1.8zM990 505h1.8v1.8h-1.8zM1018.3 505h1.8v1.8h-1.8zM1046.6 505h1.8v1.8h-1.8zM1074.9 505h1.8v1.8h-1.8zM1103.2 505h1.8v1.8h-1.8zM1131.5 505h1.8v1.8h-1.8zM1159.8 505h1.8v1.8h-1.8zM1188.1 505h1.8v1.8h-1.8zM1216.4 505h1.8v1.8h-1.8zM1244.7 505h1.8v1.8h-1.8zM1273 505h1.8v1.8h-1.8zM-0.5 533.3h1.8v1.8h-1.8zM27.8 533.3h1.8v1.8h-1.8zM56.1 533.3h1.8v1.8h-1.8zM84.4 533.3h1.8v1.8h-1.8zM112.7 533.3h1.8v1.8h-1.8zM141 533.3h1.8v1.8h-1.8zM169.3 533.3h1.8v1.8h-1.8zM197.6 533.3h1.8v1.8h-1.8zM225.9 533.3h1.8v1.8h-1.8zM254.2 533.3h1.8v1.8h-1.8zM282.5 533.3h1.8v1.8h-1.8zM310.8 533.3h1.8v1.8h-1.8zM339.1 533.3h1.8v1.8h-1.8zM367.4 533.3h1.8v1.8h-1.8zM395.7 533.3h1.8v1.8h-1.8zM424 533.3h1.8v1.8h-1.8zM452.3 533.3h1.8v1.8h-1.8zM480.6 533.3h1.8v1.8h-1.8zM508.9 533.3h1.8v1.8h-1.8zM537.2 533.3h1.8v1.8h-1.8zM565.5 533.3h1.8v1.8h-1.8zM593.8 533.3h1.8v1.8h-1.8zM622.1 533.3h1.8v1.8h-1.8zM650.4 533.3h1.8v1.8h-1.8zM678.7 533.3h1.8v1.8h-1.8zM707 533.3h1.8v1.8h-1.8zM735.3 533.3h1.8v1.8h-1.8zM763.6 533.3h1.8v1.8h-1.8zM791.9 533.3h1.8v1.8h-1.8zM820.2 533.3h1.8v1.8h-1.8zM848.5 533.3h1.8v1.8h-1.8zM876.8 533.3h1.8v1.8h-1.8zM905.1 533.3h1.8v1.8h-1.8zM933.4 533.3h1.8v1.8h-1.8zM961.7 533.3h1.8v1.8h-1.8zM990 533.3h1.8v1.8h-1.8zM1018.3 533.3h1.8v1.8h-1.8zM1046.6 533.3h1.8v1.8h-1.8zM1074.9 533.3h1.8v1.8h-1.8zM1103.2 533.3h1.8v1.8h-1.8zM1131.5 533.3h1.8v1.8h-1.8zM1159.8 533.3h1.8v1.8h-1.8zM1188.1 533.3h1.8v1.8h-1.8zM1216.4 533.3h1.8v1.8h-1.8zM1244.7 533.3h1.8v1.8h-1.8zM1273 533.3h1.8v1.8h-1.8zM-0.5 561.6h1.8v1.8h-1.8zM27.8 561.6h1.8v1.8h-1.8zM56.1 561.6h1.8v1.8h-1.8zM84.4 561.6h1.8v1.8h-1.8zM112.7 561.6h1.8v1.8h-1.8zM141 561.6h1.8v1.8h-1.8zM169.3 561.6h1.8v1.8h-1.8zM197.6 561.6h1.8v1.8h-1.8zM225.9 561.6h1.8v1.8h-1.8zM254.2 561.6h1.8v1.8h-1.8zM282.5 561.6h1.8v1.8h-1.8zM310.8 561.6h1.8v1.8h-1.8zM339.1 561.6h1.8v1.8h-1.8zM367.4 561.6h1.8v1.8h-1.8zM395.7 561.6h1.8v1.8h-1.8zM424 561.6h1.8v1.8h-1.8zM452.3 561.6h1.8v1.8h-1.8zM480.6 561.6h1.8v1.8h-1.8zM508.9 561.6h1.8v1.8h-1.8zM537.2 561.6h1.8v1.8h-1.8zM565.5 561.6h1.8v1.8h-1.8zM593.8 561.6h1.8v1.8h-1.8zM622.1 561.6h1.8v1.8h-1.8zM650.4 561.6h1.8v1.8h-1.8zM678.7 561.6h1.8v1.8h-1.8zM707 561.6h1.8v1.8h-1.8zM735.3 561.6h1.8v1.8h-1.8zM763.6 561.6h1.8v1.8h-1.8zM791.9 561.6h1.8v1.8h-1.8zM820.2 561.6h1.8v1.8h-1.8zM848.5 561.6h1.8v1.8h-1.8zM876.8 561.6h1.8v1.8h-1.8zM905.1 561.6h1.8v1.8h-1.8zM933.4 561.6h1.8v1.8h-1.8zM961.7 561.6h1.8v1.8h-1.8zM990 561.6h1.8v1.8h-1.8zM1018.3 561.6h1.8v1.8h-1.8zM1046.6 561.6h1.8v1.8h-1.8zM1074.9 561.6h1.8v1.8h-1.8zM1103.2 561.6h1.8v1.8h-1.8zM1131.5 561.6h1.8v1.8h-1.8zM1159.8 561.6h1.8v1.8h-1.8zM1188.1 561.6h1.8v1.8h-1.8zM1216.4 561.6h1.8v1.8h-1.8zM1244.7 561.6h1.8v1.8h-1.8zM1273 561.6h1.8v1.8h-1.8zM-0.5 589.9h1.8v1.8h-1.8zM27.8 589.9h1.8v1.8h-1.8zM56.1 589.9h1.8v1.8h-1.8zM84.4 589.9h1.8v1.8h-1.8zM112.7 589.9h1.8v1.8h-1.8zM141 589.9h1.8v1.8h-1.8zM169.3 589.9h1.8v1.8h-1.8zM197.6 589.9h1.8v1.8h-1.8zM225.9 589.9h1.8v1.8h-1.8zM254.2 589.9h1.8v1.8h-1.8zM282.5 589.9h1.8v1.8h-1.8zM310.8 589.9h1.8v1.8h-1.8zM339.1 589.9h1.8v1.8h-1.8zM367.4 589.9h1.8v1.8h-1.8zM395.7 589.9h1.8v1.8h-1.8zM424 589.9h1.8v1.8h-1.8zM452.3 589.9h1.8v1.8h-1.8zM480.6 589.9h1.8v1.8h-1.8zM508.9 589.9h1.8v1.8h-1.8zM537.2 589.9h1.8v1.8h-1.8zM565.5 589.9h1.8v1.8h-1.8zM593.8 589.9h1.8v1.8h-1.8zM622.1 589.9h1.8v1.8h-1.8zM650.4 589.9h1.8v1.8h-1.8zM678.7 589.9h1.8v1.8h-1.8zM707 589.9h1.8v1.8h-1.8zM735.3 589.9h1.8v1.8h-1.8zM763.6 589.9h1.8v1.8h-1.8zM791.9 589.9h1.8v1.8h-1.8zM820.2 589.9h1.8v1.8h-1.8zM848.5 589.9h1.8v1.8h-1.8zM876.8 589.9h1.8v1.8h-1.8zM905.1 589.9h1.8v1.8h-1.8zM933.4 589.9h1.8v1.8h-1.8zM961.7 589.9h1.8v1.8h-1.8zM990 589.9h1.8v1.8h-1.8zM1018.3 589.9h1.8v1.8h-1.8zM1046.6 589.9h1.8v1.8h-1.8zM1074.9 589.9h1.8v1.8h-1.8zM1103.2 589.9h1.8v1.8h-1.8zM1131.5 589.9h1.8v1.8h-1.8zM1159.8 589.9h1.8v1.8h-1.8zM1188.1 589.9h1.8v1.8h-1.8zM1216.4 589.9h1.8v1.8h-1.8zM1244.7 589.9h1.8v1.8h-1.8zM1273 589.9h1.8v1.8h-1.8zM-0.5 618.2h1.8v1.8h-1.8zM27.8 618.2h1.8v1.8h-1.8zM56.1 618.2h1.8v1.8h-1.8zM84.4 618.2h1.8v1.8h-1.8zM112.7 618.2h1.8v1.8h-1.8zM141 618.2h1.8v1.8h-1.8zM169.3 618.2h1.8v1.8h-1.8zM197.6 618.2h1.8v1.8h-1.8zM225.9 618.2h1.8v1.8h-1.8zM254.2 618.2h1.8v1.8h-1.8zM282.5 618.2h1.8v1.8h-1.8zM310.8 618.2h1.8v1.8h-1.8zM339.1 618.2h1.8v1.8h-1.8zM367.4 618.2h1.8v1.8h-1.8zM395.7 618.2h1.8v1.8h-1.8zM424 618.2h1.8v1.8h-1.8zM452.3 618.2h1.8v1.8h-1.8zM480.6 618.2h1.8v1.8h-1.8zM508.9 618.2h1.8v1.8h-1.8zM537.2 618.2h1.8v1.8h-1.8zM565.5 618.2h1.8v1.8h-1.8zM593.8 618.2h1.8v1.8h-1.8zM622.1 618.2h1.8v1.8h-1.8zM650.4 618.2h1.8v1.8h-1.8zM678.7 618.2h1.8v1.8h-1.8zM707 618.2h1.8v1.8h-1.8zM735.3 618.2h1.8v1.8h-1.8zM763.6 618.2h1.8v1.8h-1.8zM791.9 618.2h1.8v1.8h-1.8zM820.2 618.2h1.8v1.8h-1.8zM848.5 618.2h1.8v1.8h-1.8zM876.8 618.2h1.8v1.8h-1.8zM905.1 618.2h1.8v1.8h-1.8zM933.4 618.2h1.8v1.8h-1.8zM961.7 618.2h1.8v1.8h-1.8zM990 618.2h1.8v1.8h-1.8zM1018.3 618.2h1.8v1.8h-1.8zM1046.6 618.2h1.8v1.8h-1.8zM1074.9 618.2h1.8v1.8h-1.8zM1103.2 618.2h1.8v1.8h-1.8zM1131.5 618.2h1.8v1.8h-1.8zM1159.8 618.2h1.8v1.8h-1.8zM1188.1 618.2h1.8v1.8h-1.8zM1216.4 618.2h1.8v1.8h-1.8zM1244.7 618.2h1.8v1.8h-1.8zM1273 618.2h1.8v1.8h-1.8zM-0.5 646.5h1.8v1.8h-1.8zM27.8 646.5h1.8v1.8h-1.8zM56.1 646.5h1.8v1.8h-1.8zM84.4 646.5h1.8v1.8h-1.8zM112.7 646.5h1.8v1.8h-1.8zM141 646.5h1.8v1.8h-1.8zM169.3 646.5h1.8v1.8h-1.8zM197.6 646.5h1.8v1.8h-1.8zM225.9 646.5h1.8v1.8h-1.8zM254.2 646.5h1.8v1.8h-1.8zM282.5 646.5h1.8v1.8h-1.8zM310.8 646.5h1.8v1.8h-1.8zM339.1 646.5h1.8v1.8h-1.8zM367.4 646.5h1.8v1.8h-1.8zM395.7 646.5h1.8v1.8h-1.8zM424 646.5h1.8v1.8h-1.8zM452.3 646.5h1.8v1.8h-1.8zM480.6 646.5h1.8v1.8h-1.8zM508.9 646.5h1.8v1.8h-1.8zM537.2 646.5h1.8v1.8h-1.8zM565.5 646.5h1.8v1.8h-1.8zM593.8 646.5h1.8v1.8h-1.8zM622.1 646.5h1.8v1.8h-1.8zM650.4 646.5h1.8v1.8h-1.8zM678.7 646.5h1.8v1.8h-1.8zM707 646.5h1.8v1.8h-1.8zM735.3 646.5h1.8v1.8h-1.8zM763.6 646.5h1.8v1.8h-1.8zM791.9 646.5h1.8v1.8h-1.8zM820.2 646.5h1.8v1.8h-1.8zM848.5 646.5h1.8v1.8h-1.8zM876.8 646.5h1.8v1.8h-1.8zM905.1 646.5h1.8v1.8h-1.8zM933.4 646.5h1.8v1.8h-1.8zM961.7 646.5h1.8v1.8h-1.8zM990 646.5h1.8v1.8h-1.8zM1018.3 646.5h1.8v1.8h-1.8zM1046.6 646.5h1.8v1.8h-1.8zM1074.9 646.5h1.8v1.8h-1.8zM1103.2 646.5h1.8v1.8h-1.8zM1131.5 646.5h1.8v1.8h-1.8zM1159.8 646.5h1.8v1.8h-1.8zM1188.1 646.5h1.8v1.8h-1.8zM1216.4 646.5h1.8v1.8h-1.8zM1244.7 646.5h1.8v1.8h-1.8zM1273 646.5h1.8v1.8h-1.8zM-0.5 674.8h1.8v1.8h-1.8zM27.8 674.8h1.8v1.8h-1.8zM56.1 674.8h1.8v1.8h-1.8zM84.4 674.8h1.8v1.8h-1.8zM112.7 674.8h1.8v1.8h-1.8zM141 674.8h1.8v1.8h-1.8zM169.3 674.8h1.8v1.8h-1.8zM197.6 674.8h1.8v1.8h-1.8zM225.9 674.8h1.8v1.8h-1.8zM254.2 674.8h1.8v1.8h-1.8zM282.5 674.8h1.8v1.8h-1.8zM310.8 674.8h1.8v1.8h-1.8zM339.1 674.8h1.8v1.8h-1.8zM367.4 674.8h1.8v1.8h-1.8zM395.7 674.8h1.8v1.8h-1.8zM424 674.8h1.8v1.8h-1.8zM452.3 674.8h1.8v1.8h-1.8zM480.6 674.8h1.8v1.8h-1.8zM508.9 674.8h1.8v1.8h-1.8zM537.2 674.8h1.8v1.8h-1.8zM565.5 674.8h1.8v1.8h-1.8zM593.8 674.8h1.8v1.8h-1.8zM622.1 674.8h1.8v1.8h-1.8zM650.4 674.8h1.8v1.8h-1.8zM678.7 674.8h1.8v1.8h-1.8zM707 674.8h1.8v1.8h-1.8zM735.3 674.8h1.8v1.8h-1.8zM763.6 674.8h1.8v1.8h-1.8zM791.9 674.8h1.8v1.8h-1.8zM820.2 674.8h1.8v1.8h-1.8zM848.5 674.8h1.8v1.8h-1.8zM876.8 674.8h1.8v1.8h-1.8zM905.1 674.8h1.8v1.8h-1.8zM933.4 674.8h1.8v1.8h-1.8zM961.7 674.8h1.8v1.8h-1.8zM990 674.8h1.8v1.8h-1.8zM1018.3 674.8h1.8v1.8h-1.8zM1046.6 674.8h1.8v1.8h-1.8zM1074.9 674.8h1.8v1.8h-1.8zM1103.2 674.8h1.8v1.8h-1.8zM1131.5 674.8h1.8v1.8h-1.8zM1159.8 674.8h1.8v1.8h-1.8zM1188.1 674.8h1.8v1.8h-1.8zM1216.4 674.8h1.8v1.8h-1.8zM1244.7 674.8h1.8v1.8h-1.8zM1273 674.8h1.8v1.8h-1.8zM-0.5 703.1h1.8v1.8h-1.8zM27.8 703.1h1.8v1.8h-1.8zM56.1 703.1h1.8v1.8h-1.8zM84.4 703.1h1.8v1.8h-1.8zM112.7 703.1h1.8v1.8h-1.8zM141 703.1h1.8v1.8h-1.8zM169.3 703.1h1.8v1.8h-1.8zM197.6 703.1h1.8v1.8h-1.8zM225.9 703.1h1.8v1.8h-1.8zM254.2 703.1h1.8v1.8h-1.8zM282.5 703.1h1.8v1.8h-1.8zM310.8 703.1h1.8v1.8h-1.8zM339.1 703.1h1.8v1.8h-1.8zM367.4 703.1h1.8v1.8h-1.8zM395.7 703.1h1.8v1.8h-1.8zM424 703.1h1.8v1.8h-1.8zM452.3 703.1h1.8v1.8h-1.8zM480.6 703.1h1.8v1.8h-1.8zM508.9 703.1h1.8v1.8h-1.8zM537.2 703.1h1.8v1.8h-1.8zM565.5 703.1h1.8v1.8h-1.8zM593.8 703.1h1.8v1.8h-1.8zM622.1 703.1h1.8v1.8h-1.8zM650.4 703.1h1.8v1.8h-1.8zM678.7 703.1h1.8v1.8h-1.8zM707 703.1h1.8v1.8h-1.8zM735.3 703.1h1.8v1.8h-1.8zM763.6 703.1h1.8v1.8h-1.8zM791.9 703.1h1.8v1.8h-1.8zM820.2 703.1h1.8v1.8h-1.8zM848.5 703.1h1.8v1.8h-1.8zM876.8 703.1h1.8v1.8h-1.8zM905.1 703.1h1.8v1.8h-1.8zM933.4 703.1h1.8v1.8h-1.8zM961.7 703.1h1.8v1.8h-1.8zM990 703.1h1.8v1.8h-1.8zM1018.3 703.1h1.8v1.8h-1.8zM1046.6 703.1h1.8v1.8h-1.8zM1074.9 703.1h1.8v1.8h-1.8zM1103.2 703.1h1.8v1.8h-1.8zM1131.5 703.1h1.8v1.8h-1.8zM1159.8 703.1h1.8v1.8h-1.8zM1188.1 703.1h1.8v1.8h-1.8zM1216.4 703.1h1.8v1.8h-1.8zM1244.7 703.1h1.8v1.8h-1.8zM1273 703.1h1.8v1.8h-1.8zM-0.5 731.4h1.8v1.8h-1.8zM27.8 731.4h1.8v1.8h-1.8zM56.1 731.4h1.8v1.8h-1.8zM84.4 731.4h1.8v1.8h-1.8zM112.7 731.4h1.8v1.8h-1.8zM141 731.4h1.8v1.8h-1.8zM169.3 731.4h1.8v1.8h-1.8zM197.6 731.4h1.8v1.8h-1.8zM225.9 731.4h1.8v1.8h-1.8zM254.2 731.4h1.8v1.8h-1.8zM282.5 731.4h1.8v1.8h-1.8zM310.8 731.4h1.8v1.8h-1.8zM339.1 731.4h1.8v1.8h-1.8zM367.4 731.4h1.8v1.8h-1.8zM395.7 731.4h1.8v1.8h-1.8zM424 731.4h1.8v1.8h-1.8zM452.3 731.4h1.8v1.8h-1.8zM480.6 731.4h1.8v1.8h-1.8zM508.9 731.4h1.8v1.8h-1.8zM537.2 731.4h1.8v1.8h-1.8zM565.5 731.4h1.8v1.8h-1.8zM593.8 731.4h1.8v1.8h-1.8zM622.1 731.4h1.8v1.8h-1.8zM650.4 731.4h1.8v1.8h-1.8zM678.7 731.4h1.8v1.8h-1.8zM707 731.4h1.8v1.8h-1.8zM735.3 731.4h1.8v1.8h-1.8zM763.6 731.4h1.8v1.8h-1.8zM791.9 731.4h1.8v1.8h-1.8zM820.2 731.4h1.8v1.8h-1.8zM848.5 731.4h1.8v1.8h-1.8zM876.8 731.4h1.8v1.8h-1.8zM905.1 731.4h1.8v1.8h-1.8zM933.4 731.4h1.8v1.8h-1.8zM961.7 731.4h1.8v1.8h-1.8zM990 731.4h1.8v1.8h-1.8zM1018.3 731.4h1.8v1.8h-1.8zM1046.6 731.4h1.8v1.8h-1.8zM1074.9 731.4h1.8v1.8h-1.8zM1103.2 731.4h1.8v1.8h-1.8zM1131.5 731.4h1.8v1.8h-1.8zM1159.8 731.4h1.8v1.8h-1.8zM1188.1 731.4h1.8v1.8h-1.8zM1216.4 731.4h1.8v1.8h-1.8zM1244.7 731.4h1.8v1.8h-1.8zM1273 731.4h1.8v1.8h-1.8z"/><rect x="27.3" y="37.5" width="272.5" height="282.9" rx="3" fill="#e6e6e6" stroke="#b0b0b0" stroke-width="0.8"/><path d="M300.4 40.5V320.4H30.3" fill="none" stroke="#111" stroke-width="1.8"/><rect x="35.8" y="39" width="255.4" height="7.3" fill="#c8c8c8"/><line x1="35.8" y1="39.75" x2="291.2" y2="39.75" stroke="#9c9c9c" stroke-width="0.8"/><line x1="35.8" y1="41.25" x2="291.2" y2="41.25" stroke="#9c9c9c" stroke-width="0.8"/><line x1="35.8" y1="42.75" x2="291.2" y2="42.75" stroke="#9c9c9c" stroke-width="0.8"/><line x1="35.8" y1="44.25" x2="291.2" y2="44.25" stroke="#9c9c9c" stroke-width="0.8"/><line x1="31.3" y1="37.8" x2="295.8" y2="37.8" stroke="#555" stroke-width="1"/><rect x="127.3" y="39" width="73" height="7.3" fill="#dedede"/><text x="163.8" y="45.3" font-family="Liberation Sans" font-size="7.2" text-anchor="middle" fill="#000" stroke="#000" stroke-width="0.15" textLength="69" lengthAdjust="spacingAndGlyphs">MoonTwo Family:Medium</text><rect x="30" y="40.5" width="4.9" height="5" fill="#e8e8e8" stroke="#111" stroke-width="0.9"/><rect x="284.5" y="40.5" width="4.9" height="5" fill="#e8e8e8" stroke="#111" stroke-width="0.9"/><rect x="292.3" y="40.5" width="4.9" height="5" fill="#e8e8e8" stroke="#111" stroke-width="0.9"/><path d="M285 44.1h3v-3M292.9 42.3h3.4M292.9 43.9h3.4" fill="none" stroke="#111" stroke-width="0.7"/><rect x="29.3" y="48.5" width="268.5" height="268.9" fill="#fff" stroke="#111" stroke-width="1"/><rect x="290" y="56.9" width="7.8" height="252.4" fill="#e4e4e4"/><rect x="37.6" y="309.3" width="252.4" height="8.1" fill="#e4e4e4"/><path d="M290 64.9h7.8M290 301.3h7.8M45.6 309.3v8M282 309.3v8" stroke="#777" stroke-width="0.7" fill="none"/><rect x="290.2" y="57.2" width="7.8" height="7.6" fill="#fafafa"/><path d="M291.9 61.9l2 -2l2 2z" fill="#222"/><rect x="290.2" y="301.5" width="7.8" height="7.6" fill="#fafafa"/><path d="M291.9 304.3l2 2l2 -2z" fill="#222"/><path d="M42.6 311.3l-2 2l2 2z" fill="#222"/><path d="M285 311.3l2 2l-2 2z" fill="#222"/><text x="45.49" y="55" font-family="Liberation Sans" font-size="6.1" text-anchor="middle" fill="#000" stroke="#000" stroke-width="0.2">0</text><text x="33.5" y="67.09" font-family="Liberation Sans" font-size="6.4" text-anchor="middle" fill="#000" stroke="#000" stroke-width="0.2">0</text><text x="61.26" y="55" font-family="Liberation Sans" font-size="6.1" text-anchor="middle" fill="#000" stroke="#000" stroke-width="0.2">1</text><text x="33.5" y="82.86" font-family="Liberation Sans" font-size="6.4" text-anchor="middle" fill="#000" stroke="#000" stroke-width="0.2">1</text><text x="77.04" y="55" font-family="Liberation Sans" font-size="6.1" text-anchor="middle" fill="#000" stroke="#000" stroke-width="0.2">2</text><text x="33.5" y="98.64" font-family="Liberation Sans" font-size="6.4" text-anchor="middle" fill="#000" stroke="#000" stroke-width="0.2">2</text><text x="92.81" y="55" font-family="Liberation Sans" font-size="6.1" text-anchor="middle" fill="#000" stroke="#000" stroke-width="0.2">3</text><text x="33.5" y="114.41" font-family="Liberation Sans" font-size="6.4" text-anchor="middle" fill="#000" stroke="#000" stroke-width="0.2">3</text><text x="108.59" y="55" font-family="Liberation Sans" font-size="6.1" text-anchor="middle" fill="#000" stroke="#000" stroke-width="0.2">4</text><text x="33.5" y="130.19" font-family="Liberation Sans" font-size="6.4" text-anchor="middle" fill="#000" stroke="#000" stroke-width="0.2">4</text><text x="124.36" y="55" font-family="Liberation Sans" font-size="6.1" text-anchor="middle" fill="#000" stroke="#000" stroke-width="0.2">5</text><text x="33.5" y="145.96" font-family="Liberation Sans" font-size="6.4" text-anchor="middle" fill="#000" stroke="#000" stroke-width="0.2">5</text><text x="140.14" y="55" font-family="Liberation Sans" font-size="6.1" text-anchor="middle" fill="#000" stroke="#000" stroke-width="0.2">6</text><text x="33.5" y="161.74" font-family="Liberation Sans" font-size="6.4" text-anchor="middle" fill="#000" stroke="#000" stroke-width="0.2">6</text><text x="155.91" y="55" font-family="Liberation Sans" font-size="6.1" text-anchor="middle" fill="#000" stroke="#000" stroke-width="0.2">7</text><text x="33.5" y="177.51" font-family="Liberation Sans" font-size="6.4" text-anchor="middle" fill="#000" stroke="#000" stroke-width="0.2">7</text><text x="171.69" y="55" font-family="Liberation Sans" font-size="6.1" text-anchor="middle" fill="#000" stroke="#000" stroke-width="0.2">8</text><text x="33.5" y="193.29" font-family="Liberation Sans" font-size="6.4" text-anchor="middle" fill="#000" stroke="#000" stroke-width="0.2">8</text><text x="187.46" y="55" font-family="Liberation Sans" font-size="6.1" text-anchor="middle" fill="#000" stroke="#000" stroke-width="0.2">9</text><text x="33.5" y="209.06" font-family="Liberation Sans" font-size="6.4" text-anchor="middle" fill="#000" stroke="#000" stroke-width="0.2">9</text><text x="203.24" y="55" font-family="Liberation Sans" font-size="6.1" text-anchor="middle" fill="#000" stroke="#000" stroke-width="0.2">A</text><text x="33.5" y="224.84" font-family="Liberation Sans" font-size="6.4" text-anchor="middle" fill="#000" stroke="#000" stroke-width="0.2">A</text><text x="219.01" y="55" font-family="Liberation Sans" font-size="6.1" text-anchor="middle" fill="#000" stroke="#000" stroke-width="0.2">B</text><text x="33.5" y="240.61" font-family="Liberation Sans" font-size="6.4" text-anchor="middle" fill="#000" stroke="#000" stroke-width="0.2">B</text><text x="234.79" y="55" font-family="Liberation Sans" font-size="6.1" text-anchor="middle" fill="#000" stroke="#000" stroke-width="0.2">C</text><text x="33.5" y="256.39" font-family="Liberation Sans" font-size="6.4" text-anchor="middle" fill="#000" stroke="#000" stroke-width="0.2">C</text><text x="250.56" y="55" font-family="Liberation Sans" font-size="6.1" text-anchor="middle" fill="#000" stroke="#000" stroke-width="0.2">D</text><text x="33.5" y="272.16" font-family="Liberation Sans" font-size="6.4" text-anchor="middle" fill="#000" stroke="#000" stroke-width="0.2">D</text><text x="266.34" y="55" font-family="Liberation Sans" font-size="6.1" text-anchor="middle" fill="#000" stroke="#000" stroke-width="0.2">E</text><text x="33.5" y="287.94" font-family="Liberation Sans" font-size="6.4" text-anchor="middle" fill="#000" stroke="#000" stroke-width="0.2">E</text><text x="282.11" y="55" font-family="Liberation Sans" font-size="6.1" text-anchor="middle" fill="#000" stroke="#000" stroke-width="0.2">F</text><text x="33.5" y="303.71" font-family="Liberation Sans" font-size="6.4" text-anchor="middle" fill="#000" stroke="#000" stroke-width="0.2">F</text><rect x="37.6" y="56.9" width="15.78" height="15.78" fill="url(#hatch)"/><rect x="37.6" y="71.17" width="15.78" height="0.9" fill="#fff" opacity="0.8"/><rect x="53.38" y="56.9" width="15.78" height="15.78" fill="url(#hatch)"/><rect x="53.38" y="71.17" width="15.78" height="0.9" fill="#fff" opacity="0.8"/><rect x="69.15" y="56.9" width="15.78" height="15.78" fill="url(#hatch)"/><rect x="69.15" y="71.17" width="15.78" height="0.9" fill="#fff" opacity="0.8"/><rect x="84.93" y="56.9" width="15.78" height="15.78" fill="url(#hatch)"/><rect x="84.93" y="71.17" width="15.78" height="0.9" fill="#fff" opacity="0.8"/><rect x="100.7" y="56.9" width="15.78" height="15.78" fill="url(#hatch)"/><rect x="100.7" y="71.17" width="15.78" height="0.9" fill="#fff" opacity="0.8"/><rect x="116.47" y="56.9" width="15.78" height="15.78" fill="url(#hatch)"/><rect x="116.47" y="71.17" width="15.78" height="0.9" fill="#fff" opacity="0.8"/><rect x="132.25" y="56.9" width="15.78" height="15.78" fill="url(#hatch)"/><rect x="132.25" y="71.17" width="15.78" height="0.9" fill="#fff" opacity="0.8"/><rect x="148.03" y="56.9" width="15.78" height="15.78" fill="url(#hatch)"/><rect x="148.03" y="71.17" width="15.78" height="0.9" fill="#fff" opacity="0.8"/><rect x="163.8" y="56.9" width="15.78" height="15.78" fill="url(#hatch)"/><rect x="163.8" y="71.17" width="15.78" height="0.9" fill="#fff" opacity="0.8"/><rect x="195.35" y="56.9" width="15.78" height="15.78" fill="url(#hatch)"/><rect x="195.35" y="71.17" width="15.78" height="0.9" fill="#fff" opacity="0.8"/><rect x="211.12" y="56.9" width="15.78" height="15.78" fill="url(#hatch)"/><rect x="211.12" y="71.17" width="15.78" height="0.9" fill="#fff" opacity="0.8"/><rect x="226.9" y="56.9" width="15.78" height="15.78" fill="url(#hatch)"/><rect x="226.9" y="71.17" width="15.78" height="0.9" fill="#fff" opacity="0.8"/><rect x="258.45" y="56.9" width="15.78" height="15.78" fill="url(#hatch)"/><rect x="258.45" y="71.17" width="15.78" height="0.9" fill="#fff" opacity="0.8"/><rect x="274.23" y="56.9" width="15.78" height="15.78" fill="url(#hatch)"/><rect x="274.23" y="71.17" width="15.78" height="0.9" fill="#fff" opacity="0.8"/><rect x="37.6" y="72.67" width="15.78" height="15.78" fill="url(#hatch)"/><rect x="37.6" y="86.95" width="15.78" height="0.9" fill="#fff" opacity="0.8"/><rect x="53.38" y="72.67" width="15.78" height="15.78" fill="url(#hatch)"/><rect x="53.38" y="86.95" width="15.78" height="0.9" fill="#fff" opacity="0.8"/><rect x="69.15" y="72.67" width="15.78" height="15.78" fill="url(#hatch)"/><rect x="69.15" y="86.95" width="15.78" height="0.9" fill="#fff" opacity="0.8"/><rect x="84.93" y="72.67" width="15.78" height="15.78" fill="url(#hatch)"/><rect x="84.93" y="86.95" width="15.78" height="0.9" fill="#fff" opacity="0.8"/><rect x="100.7" y="72.67" width="15.78" height="15.78" fill="url(#hatch)"/><rect x="100.7" y="86.95" width="15.78" height="0.9" fill="#fff" opacity="0.8"/><rect x="116.47" y="72.67" width="15.78" height="15.78" fill="url(#hatch)"/><rect x="116.47" y="86.95" width="15.78" height="0.9" fill="#fff" opacity="0.8"/><rect x="132.25" y="72.67" width="15.78" height="15.78" fill="url(#hatch)"/><rect x="132.25" y="86.95" width="15.78" height="0.9" fill="#fff" opacity="0.8"/><rect x="148.03" y="72.67" width="15.78" height="15.78" fill="url(#hatch)"/><rect x="148.03" y="86.95" width="15.78" height="0.9" fill="#fff" opacity="0.8"/><rect x="163.8" y="72.67" width="15.78" height="15.78" fill="url(#hatch)"/><rect x="163.8" y="86.95" width="15.78" height="0.9" fill="#fff" opacity="0.8"/><rect x="179.57" y="72.67" width="15.78" height="15.78" fill="url(#hatch)"/><rect x="179.57" y="86.95" width="15.78" height="0.9" fill="#fff" opacity="0.8"/><rect x="195.35" y="72.67" width="15.78" height="15.78" fill="url(#hatch)"/><rect x="195.35" y="86.95" width="15.78" height="0.9" fill="#fff" opacity="0.8"/><rect x="211.12" y="72.67" width="15.78" height="15.78" fill="url(#hatch)"/><rect x="211.12" y="86.95" width="15.78" height="0.9" fill="#fff" opacity="0.8"/><rect x="226.9" y="72.67" width="15.78" height="15.78" fill="url(#hatch)"/><rect x="226.9" y="86.95" width="15.78" height="0.9" fill="#fff" opacity="0.8"/><rect x="242.68" y="72.67" width="15.78" height="15.78" fill="url(#hatch)"/><rect x="242.68" y="86.95" width="15.78" height="0.9" fill="#fff" opacity="0.8"/><rect x="258.45" y="72.67" width="15.78" height="15.78" fill="url(#hatch)"/><rect x="258.45" y="86.95" width="15.78" height="0.9" fill="#fff" opacity="0.8"/><rect x="274.23" y="72.67" width="15.78" height="15.78" fill="url(#hatch)"/><rect x="274.23" y="86.95" width="15.78" height="0.9" fill="#fff" opacity="0.8"/><rect x="274.23" y="167.32" width="15.78" height="15.78" fill="url(#hatch)"/><rect x="274.23" y="181.6" width="15.78" height="0.9" fill="#fff" opacity="0.8"/><rect x="37.6" y="183.1" width="15.78" height="15.78" fill="url(#hatch)"/><rect x="37.6" y="197.38" width="15.78" height="0.9" fill="#fff" opacity="0.8"/><rect x="53.38" y="183.1" width="15.78" height="15.78" fill="url(#hatch)"/><rect x="53.38" y="197.38" width="15.78" height="0.9" fill="#fff" opacity="0.8"/><rect x="69.15" y="183.1" width="15.78" height="15.78" fill="url(#hatch)"/><rect x="69.15" y="197.38" width="15.78" height="0.9" fill="#fff" opacity="0.8"/><rect x="84.93" y="183.1" width="15.78" height="15.78" fill="url(#hatch)"/><rect x="84.93" y="197.38" width="15.78" height="0.9" fill="#fff" opacity="0.8"/><rect x="100.7" y="183.1" width="15.78" height="15.78" fill="url(#hatch)"/><rect x="100.7" y="197.38" width="15.78" height="0.9" fill="#fff" opacity="0.8"/><rect x="116.47" y="183.1" width="15.78" height="15.78" fill="url(#hatch)"/><rect x="116.47" y="197.38" width="15.78" height="0.9" fill="#fff" opacity="0.8"/><rect x="132.25" y="183.1" width="15.78" height="15.78" fill="url(#hatch)"/><rect x="132.25" y="197.38" width="15.78" height="0.9" fill="#fff" opacity="0.8"/><rect x="148.03" y="183.1" width="15.78" height="15.78" fill="url(#hatch)"/><rect x="148.03" y="197.38" width="15.78" height="0.9" fill="#fff" opacity="0.8"/><rect x="163.8" y="183.1" width="15.78" height="15.78" fill="url(#hatch)"/><rect x="163.8" y="197.38" width="15.78" height="0.9" fill="#fff" opacity="0.8"/><rect x="179.57" y="183.1" width="15.78" height="15.78" fill="url(#hatch)"/><rect x="179.57" y="197.38" width="15.78" height="0.9" fill="#fff" opacity="0.8"/><rect x="195.35" y="183.1" width="15.78" height="15.78" fill="url(#hatch)"/><rect x="195.35" y="197.38" width="15.78" height="0.9" fill="#fff" opacity="0.8"/><rect x="211.12" y="183.1" width="15.78" height="15.78" fill="url(#hatch)"/><rect x="211.12" y="197.38" width="15.78" height="0.9" fill="#fff" opacity="0.8"/><rect x="226.9" y="183.1" width="15.78" height="15.78" fill="url(#hatch)"/><rect x="226.9" y="197.38" width="15.78" height="0.9" fill="#fff" opacity="0.8"/><rect x="242.68" y="183.1" width="15.78" height="15.78" fill="url(#hatch)"/><rect x="242.68" y="197.38" width="15.78" height="0.9" fill="#fff" opacity="0.8"/><rect x="258.45" y="183.1" width="15.78" height="15.78" fill="url(#hatch)"/><rect x="258.45" y="197.38" width="15.78" height="0.9" fill="#fff" opacity="0.8"/><rect x="274.23" y="183.1" width="15.78" height="15.78" fill="url(#hatch)"/><rect x="274.23" y="197.38" width="15.78" height="0.9" fill="#fff" opacity="0.8"/><rect x="37.6" y="198.88" width="15.78" height="15.78" fill="url(#hatch)"/><rect x="37.6" y="213.15" width="15.78" height="0.9" fill="#fff" opacity="0.8"/><rect x="53.38" y="198.88" width="15.78" height="15.78" fill="url(#hatch)"/><rect x="53.38" y="213.15" width="15.78" height="0.9" fill="#fff" opacity="0.8"/><rect x="69.15" y="198.88" width="15.78" height="15.78" fill="url(#hatch)"/><rect x="69.15" y="213.15" width="15.78" height="0.9" fill="#fff" opacity="0.8"/><rect x="84.93" y="198.88" width="15.78" height="15.78" fill="url(#hatch)"/><rect x="84.93" y="213.15" width="15.78" height="0.9" fill="#fff" opacity="0.8"/><rect x="100.7" y="198.88" width="15.78" height="15.78" fill="url(#hatch)"/><rect x="100.7" y="213.15" width="15.78" height="0.9" fill="#fff" opacity="0.8"/><rect x="116.47" y="198.88" width="15.78" height="15.78" fill="url(#hatch)"/><rect x="116.47" y="213.15" width="15.78" height="0.9" fill="#fff" opacity="0.8"/><rect x="132.25" y="198.88" width="15.78" height="15.78" fill="url(#hatch)"/><rect x="132.25" y="213.15" width="15.78" height="0.9" fill="#fff" opacity="0.8"/><rect x="148.03" y="198.88" width="15.78" height="15.78" fill="url(#hatch)"/><rect x="148.03" y="213.15" width="15.78" height="0.9" fill="#fff" opacity="0.8"/><rect x="163.8" y="198.88" width="15.78" height="15.78" fill="url(#hatch)"/><rect x="163.8" y="213.15" width="15.78" height="0.9" fill="#fff" opacity="0.8"/><rect x="179.57" y="198.88" width="15.78" height="15.78" fill="url(#hatch)"/><rect x="179.57" y="213.15" width="15.78" height="0.9" fill="#fff" opacity="0.8"/><rect x="195.35" y="198.88" width="15.78" height="15.78" fill="url(#hatch)"/><rect x="195.35" y="213.15" width="15.78" height="0.9" fill="#fff" opacity="0.8"/><rect x="211.12" y="198.88" width="15.78" height="15.78" fill="url(#hatch)"/><rect x="211.12" y="213.15" width="15.78" height="0.9" fill="#fff" opacity="0.8"/><rect x="226.9" y="198.88" width="15.78" height="15.78" fill="url(#hatch)"/><rect x="226.9" y="213.15" width="15.78" height="0.9" fill="#fff" opacity="0.8"/><rect x="242.68" y="198.88" width="15.78" height="15.78" fill="url(#hatch)"/><rect x="242.68" y="213.15" width="15.78" height="0.9" fill="#fff" opacity="0.8"/><rect x="258.45" y="198.88" width="15.78" height="15.78" fill="url(#hatch)"/><rect x="258.45" y="213.15" width="15.78" height="0.9" fill="#fff" opacity="0.8"/><rect x="274.23" y="198.88" width="15.78" height="15.78" fill="url(#hatch)"/><rect x="274.23" y="213.15" width="15.78" height="0.9" fill="#fff" opacity="0.8"/><rect x="37.6" y="214.65" width="15.78" height="15.78" fill="url(#hatch)"/><rect x="37.6" y="228.93" width="15.78" height="0.9" fill="#fff" opacity="0.8"/><rect x="53.38" y="214.65" width="15.78" height="15.78" fill="url(#hatch)"/><rect x="53.38" y="228.93" width="15.78" height="0.9" fill="#fff" opacity="0.8"/><rect x="69.15" y="214.65" width="15.78" height="15.78" fill="url(#hatch)"/><rect x="69.15" y="228.93" width="15.78" height="0.9" fill="#fff" opacity="0.8"/><rect x="84.93" y="214.65" width="15.78" height="15.78" fill="url(#hatch)"/><rect x="84.93" y="228.93" width="15.78" height="0.9" fill="#fff" opacity="0.8"/><rect x="100.7" y="214.65" width="15.78" height="15.78" fill="url(#hatch)"/><rect x="100.7" y="228.93" width="15.78" height="0.9" fill="#fff" opacity="0.8"/><rect x="116.47" y="214.65" width="15.78" height="15.78" fill="url(#hatch)"/><rect x="116.47" y="228.93" width="15.78" height="0.9" fill="#fff" opacity="0.8"/><rect x="132.25" y="214.65" width="15.78" height="15.78" fill="url(#hatch)"/><rect x="132.25" y="228.93" width="15.78" height="0.9" fill="#fff" opacity="0.8"/><rect x="148.03" y="214.65" width="15.78" height="15.78" fill="url(#hatch)"/><rect x="148.03" y="228.93" width="15.78" height="0.9" fill="#fff" opacity="0.8"/><rect x="163.8" y="214.65" width="15.78" height="15.78" fill="url(#hatch)"/><rect x="163.8" y="228.93" width="15.78" height="0.9" fill="#fff" opacity="0.8"/><rect x="179.57" y="214.65" width="15.78" height="15.78" fill="url(#hatch)"/><rect x="179.57" y="228.93" width="15.78" height="0.9" fill="#fff" opacity="0.8"/><rect x="195.35" y="214.65" width="15.78" height="15.78" fill="url(#hatch)"/><rect x="195.35" y="228.93" width="15.78" height="0.9" fill="#fff" opacity="0.8"/><rect x="211.12" y="214.65" width="15.78" height="15.78" fill="url(#hatch)"/><rect x="211.12" y="228.93" width="15.78" height="0.9" fill="#fff" opacity="0.8"/><rect x="226.9" y="214.65" width="15.78" height="15.78" fill="url(#hatch)"/><rect x="226.9" y="228.93" width="15.78" height="0.9" fill="#fff" opacity="0.8"/><rect x="242.68" y="214.65" width="15.78" height="15.78" fill="url(#hatch)"/><rect x="242.68" y="228.93" width="15.78" height="0.9" fill="#fff" opacity="0.8"/><rect x="258.45" y="214.65" width="15.78" height="15.78" fill="url(#hatch)"/><rect x="258.45" y="228.93" width="15.78" height="0.9" fill="#fff" opacity="0.8"/><rect x="274.23" y="214.65" width="15.78" height="15.78" fill="url(#hatch)"/><rect x="274.23" y="228.93" width="15.78" height="0.9" fill="#fff" opacity="0.8"/><rect x="37.6" y="230.43" width="15.78" height="15.78" fill="url(#hatch)"/><rect x="37.6" y="244.7" width="15.78" height="0.9" fill="#fff" opacity="0.8"/><rect x="53.38" y="230.43" width="15.78" height="15.78" fill="url(#hatch)"/><rect x="53.38" y="244.7" width="15.78" height="0.9" fill="#fff" opacity="0.8"/><rect x="69.15" y="230.43" width="15.78" height="15.78" fill="url(#hatch)"/><rect x="69.15" y="244.7" width="15.78" height="0.9" fill="#fff" opacity="0.8"/><rect x="84.93" y="230.43" width="15.78" height="15.78" fill="url(#hatch)"/><rect x="84.93" y="244.7" width="15.78" height="0.9" fill="#fff" opacity="0.8"/><rect x="100.7" y="230.43" width="15.78" height="15.78" fill="url(#hatch)"/><rect x="100.7" y="244.7" width="15.78" height="0.9" fill="#fff" opacity="0.8"/><rect x="116.47" y="230.43" width="15.78" height="15.78" fill="url(#hatch)"/><rect x="116.47" y="244.7" width="15.78" height="0.9" fill="#fff" opacity="0.8"/><rect x="132.25" y="230.43" width="15.78" height="15.78" fill="url(#hatch)"/><rect x="132.25" y="244.7" width="15.78" height="0.9" fill="#fff" opacity="0.8"/><rect x="148.03" y="230.43" width="15.78" height="15.78" fill="url(#hatch)"/><rect x="148.03" y="244.7" width="15.78" height="0.9" fill="#fff" opacity="0.8"/><rect x="163.8" y="230.43" width="15.78" height="15.78" fill="url(#hatch)"/><rect x="163.8" y="244.7" width="15.78" height="0.9" fill="#fff" opacity="0.8"/><rect x="179.57" y="230.43" width="15.78" height="15.78" fill="url(#hatch)"/><rect x="179.57" y="244.7" width="15.78" height="0.9" fill="#fff" opacity="0.8"/><rect x="242.68" y="246.2" width="15.78" height="15.78" fill="url(#hatch)"/><rect x="242.68" y="260.48" width="15.78" height="0.9" fill="#fff" opacity="0.8"/><rect x="84.93" y="277.75" width="15.78" height="15.78" fill="url(#hatch)"/><rect x="84.93" y="292.02" width="15.78" height="0.9" fill="#fff" opacity="0.8"/><rect x="274.23" y="293.52" width="15.78" height="15.78" fill="url(#hatch)"/><rect x="274.23" y="307.8" width="15.78" height="0.9" fill="#fff" opacity="0.8"/><rect x="38.2" y="65.67" width="8.5" height="4.6" fill="#fff"/><text x="38.6" y="69.38" font-family="Liberation Sans" font-weight="bold" font-size="4" fill="#000" textLength="7.5" lengthAdjust="spacingAndGlyphs">NUL</text><rect x="53.98" y="65.67" width="8.5" height="4.6" fill="#fff"/><text x="54.38" y="69.38" font-family="Liberation Sans" font-weight="bold" font-size="4" fill="#000" textLength="7.5" lengthAdjust="spacingAndGlyphs">SOH</text><rect x="69.75" y="65.67" width="8.5" height="4.6" fill="#fff"/><text x="70.15" y="69.38" font-family="Liberation Sans" font-weight="bold" font-size="4" fill="#000" textLength="7.5" lengthAdjust="spacingAndGlyphs">STX</text><rect x="85.53" y="65.67" width="8.5" height="4.6" fill="#fff"/><text x="85.93" y="69.38" font-family="Liberation Sans" font-weight="bold" font-size="4" fill="#000" textLength="7.5" lengthAdjust="spacingAndGlyphs">ETX</text><rect x="101.3" y="65.67" width="8.5" height="4.6" fill="#fff"/><text x="101.7" y="69.38" font-family="Liberation Sans" font-weight="bold" font-size="4" fill="#000" textLength="7.5" lengthAdjust="spacingAndGlyphs">EOT</text><rect x="117.07" y="65.67" width="8.5" height="4.6" fill="#fff"/><text x="117.47" y="69.38" font-family="Liberation Sans" font-weight="bold" font-size="4" fill="#000" textLength="7.5" lengthAdjust="spacingAndGlyphs">ENQ</text><rect x="132.85" y="65.67" width="8.5" height="4.6" fill="#fff"/><text x="133.25" y="69.38" font-family="Liberation Sans" font-weight="bold" font-size="4" fill="#000" textLength="7.5" lengthAdjust="spacingAndGlyphs">ACK</text><rect x="148.62" y="65.67" width="8.5" height="4.6" fill="#fff"/><text x="149.03" y="69.38" font-family="Liberation Sans" font-weight="bold" font-size="4" fill="#000" textLength="7.5" lengthAdjust="spacingAndGlyphs">BEL</text><rect x="164.4" y="65.67" width="6.2" height="4.6" fill="#fff"/><text x="164.8" y="69.38" font-family="Liberation Sans" font-weight="bold" font-size="4" fill="#000" textLength="5.2" lengthAdjust="spacingAndGlyphs">BS</text><rect x="195.95" y="65.67" width="6.2" height="4.6" fill="#fff"/><text x="196.35" y="69.38" font-family="Liberation Sans" font-weight="bold" font-size="4" fill="#000" textLength="5.2" lengthAdjust="spacingAndGlyphs">LF</text><rect x="211.72" y="65.67" width="6.2" height="4.6" fill="#fff"/><text x="212.12" y="69.38" font-family="Liberation Sans" font-weight="bold" font-size="4" fill="#000" textLength="5.2" lengthAdjust="spacingAndGlyphs">VT</text><rect x="227.5" y="65.67" width="6.2" height="4.6" fill="#fff"/><text x="227.9" y="69.38" font-family="Liberation Sans" font-weight="bold" font-size="4" fill="#000" textLength="5.2" lengthAdjust="spacingAndGlyphs">FF</text><rect x="259.05" y="65.67" width="6.2" height="4.6" fill="#fff"/><text x="259.45" y="69.38" font-family="Liberation Sans" font-weight="bold" font-size="4" fill="#000" textLength="5.2" lengthAdjust="spacingAndGlyphs">SO</text><rect x="274.83" y="65.67" width="6.2" height="4.6" fill="#fff"/><text x="275.23" y="69.38" font-family="Liberation Sans" font-weight="bold" font-size="4" fill="#000" textLength="5.2" lengthAdjust="spacingAndGlyphs">SI</text><rect x="38.2" y="81.45" width="8.5" height="4.6" fill="#fff"/><text x="38.6" y="85.15" font-family="Liberation Sans" font-weight="bold" font-size="4" fill="#000" textLength="7.5" lengthAdjust="spacingAndGlyphs">DLE</text><rect x="53.98" y="81.45" width="8.5" height="4.6" fill="#fff"/><text x="54.38" y="85.15" font-family="Liberation Sans" font-weight="bold" font-size="4" fill="#000" textLength="7.5" lengthAdjust="spacingAndGlyphs">DC1</text><rect x="69.75" y="81.45" width="8.5" height="4.6" fill="#fff"/><text x="70.15" y="85.15" font-family="Liberation Sans" font-weight="bold" font-size="4" fill="#000" textLength="7.5" lengthAdjust="spacingAndGlyphs">DC2</text><rect x="85.53" y="81.45" width="8.5" height="4.6" fill="#fff"/><text x="85.93" y="85.15" font-family="Liberation Sans" font-weight="bold" font-size="4" fill="#000" textLength="7.5" lengthAdjust="spacingAndGlyphs">DC3</text><rect x="101.3" y="81.45" width="8.5" height="4.6" fill="#fff"/><text x="101.7" y="85.15" font-family="Liberation Sans" font-weight="bold" font-size="4" fill="#000" textLength="7.5" lengthAdjust="spacingAndGlyphs">DC4</text><rect x="117.07" y="81.45" width="8.5" height="4.6" fill="#fff"/><text x="117.47" y="85.15" font-family="Liberation Sans" font-weight="bold" font-size="4" fill="#000" textLength="7.5" lengthAdjust="spacingAndGlyphs">NAK</text><rect x="132.85" y="81.45" width="8.5" height="4.6" fill="#fff"/><text x="133.25" y="85.15" font-family="Liberation Sans" font-weight="bold" font-size="4" fill="#000" textLength="7.5" lengthAdjust="spacingAndGlyphs">SYN</text><rect x="148.62" y="81.45" width="8.5" height="4.6" fill="#fff"/><text x="149.03" y="85.15" font-family="Liberation Sans" font-weight="bold" font-size="4" fill="#000" textLength="7.5" lengthAdjust="spacingAndGlyphs">ETB</text><rect x="164.4" y="81.45" width="8.5" height="4.6" fill="#fff"/><text x="164.8" y="85.15" font-family="Liberation Sans" font-weight="bold" font-size="4" fill="#000" textLength="7.5" lengthAdjust="spacingAndGlyphs">CAN</text><rect x="180.17" y="81.45" width="6.2" height="4.6" fill="#fff"/><text x="180.57" y="85.15" font-family="Liberation Sans" font-weight="bold" font-size="4" fill="#000" textLength="5.2" lengthAdjust="spacingAndGlyphs">EM</text><rect x="195.95" y="81.45" width="8.5" height="4.6" fill="#fff"/><text x="196.35" y="85.15" font-family="Liberation Sans" font-weight="bold" font-size="4" fill="#000" textLength="7.5" lengthAdjust="spacingAndGlyphs">SUB</text><rect x="211.72" y="81.45" width="8.5" height="4.6" fill="#fff"/><text x="212.12" y="85.15" font-family="Liberation Sans" font-weight="bold" font-size="4" fill="#000" textLength="7.5" lengthAdjust="spacingAndGlyphs">ESC</text><rect x="227.5" y="81.45" width="6.2" height="4.6" fill="#fff"/><text x="227.9" y="85.15" font-family="Liberation Sans" font-weight="bold" font-size="4" fill="#000" textLength="5.2" lengthAdjust="spacingAndGlyphs">FS</text><rect x="243.28" y="81.45" width="6.2" height="4.6" fill="#fff"/><text x="243.68" y="85.15" font-family="Liberation Sans" font-weight="bold" font-size="4" fill="#000" textLength="5.2" lengthAdjust="spacingAndGlyphs">GS</text><rect x="259.05" y="81.45" width="6.2" height="4.6" fill="#fff"/><text x="259.45" y="85.15" font-family="Liberation Sans" font-weight="bold" font-size="4" fill="#000" textLength="5.2" lengthAdjust="spacingAndGlyphs">RS</text><rect x="274.83" y="81.45" width="6.2" height="4.6" fill="#fff"/><text x="275.23" y="85.15" font-family="Liberation Sans" font-weight="bold" font-size="4" fill="#000" textLength="5.2" lengthAdjust="spacingAndGlyphs">US</text><rect x="274.83" y="176.1" width="8.5" height="4.6" fill="#fff"/><text x="275.23" y="179.8" font-family="Liberation Sans" font-weight="bold" font-size="4" fill="#000" textLength="7.5" lengthAdjust="spacingAndGlyphs">DEL</text><rect x="38.2" y="191.88" width="3.9" height="4.6" fill="#fff"/><text x="38.6" y="195.57" font-family="Liberation Sans" font-weight="bold" font-size="4" fill="#000" textLength="2.9" lengthAdjust="spacingAndGlyphs">Ä</text><rect x="53.98" y="191.88" width="3.9" height="4.6" fill="#fff"/><text x="54.38" y="195.57" font-family="Liberation Sans" font-weight="bold" font-size="4" fill="#000" textLength="2.9" lengthAdjust="spacingAndGlyphs">Å</text><rect x="69.75" y="191.88" width="3.9" height="4.6" fill="#fff"/><text x="70.15" y="195.57" font-family="Liberation Sans" font-weight="bold" font-size="4" fill="#000" textLength="2.9" lengthAdjust="spacingAndGlyphs">Ç</text><rect x="85.53" y="191.88" width="3.9" height="4.6" fill="#fff"/><text x="85.93" y="195.57" font-family="Liberation Sans" font-weight="bold" font-size="4" fill="#000" textLength="2.9" lengthAdjust="spacingAndGlyphs">É</text><rect x="101.3" y="191.88" width="3.9" height="4.6" fill="#fff"/><text x="101.7" y="195.57" font-family="Liberation Sans" font-weight="bold" font-size="4" fill="#000" textLength="2.9" lengthAdjust="spacingAndGlyphs">Ñ</text><rect x="117.07" y="191.88" width="3.9" height="4.6" fill="#fff"/><text x="117.47" y="195.57" font-family="Liberation Sans" font-weight="bold" font-size="4" fill="#000" textLength="2.9" lengthAdjust="spacingAndGlyphs">Ö</text><rect x="132.85" y="191.88" width="3.9" height="4.6" fill="#fff"/><text x="133.25" y="195.57" font-family="Liberation Sans" font-weight="bold" font-size="4" fill="#000" textLength="2.9" lengthAdjust="spacingAndGlyphs">Ü</text><rect x="148.62" y="191.88" width="3.9" height="4.6" fill="#fff"/><text x="149.03" y="195.57" font-family="Liberation Sans" font-weight="bold" font-size="4" fill="#000" textLength="2.9" lengthAdjust="spacingAndGlyphs">á</text><rect x="164.4" y="191.88" width="3.9" height="4.6" fill="#fff"/><text x="164.8" y="195.57" font-family="Liberation Sans" font-weight="bold" font-size="4" fill="#000" textLength="2.9" lengthAdjust="spacingAndGlyphs">à</text><rect x="180.17" y="191.88" width="3.9" height="4.6" fill="#fff"/><text x="180.57" y="195.57" font-family="Liberation Sans" font-weight="bold" font-size="4" fill="#000" textLength="2.9" lengthAdjust="spacingAndGlyphs">â</text><rect x="195.95" y="191.88" width="3.9" height="4.6" fill="#fff"/><text x="196.35" y="195.57" font-family="Liberation Sans" font-weight="bold" font-size="4" fill="#000" textLength="2.9" lengthAdjust="spacingAndGlyphs">ä</text><rect x="211.72" y="191.88" width="3.9" height="4.6" fill="#fff"/><text x="212.12" y="195.57" font-family="Liberation Sans" font-weight="bold" font-size="4" fill="#000" textLength="2.9" lengthAdjust="spacingAndGlyphs">ã</text><rect x="227.5" y="191.88" width="3.9" height="4.6" fill="#fff"/><text x="227.9" y="195.57" font-family="Liberation Sans" font-weight="bold" font-size="4" fill="#000" textLength="2.9" lengthAdjust="spacingAndGlyphs">å</text><rect x="243.28" y="191.88" width="3.9" height="4.6" fill="#fff"/><text x="243.68" y="195.57" font-family="Liberation Sans" font-weight="bold" font-size="4" fill="#000" textLength="2.9" lengthAdjust="spacingAndGlyphs">ç</text><rect x="259.05" y="191.88" width="3.9" height="4.6" fill="#fff"/><text x="259.45" y="195.57" font-family="Liberation Sans" font-weight="bold" font-size="4" fill="#000" textLength="2.9" lengthAdjust="spacingAndGlyphs">é</text><rect x="274.83" y="191.88" width="3.9" height="4.6" fill="#fff"/><text x="275.23" y="195.57" font-family="Liberation Sans" font-weight="bold" font-size="4" fill="#000" textLength="2.9" lengthAdjust="spacingAndGlyphs">è</text><rect x="38.2" y="207.65" width="3.9" height="4.6" fill="#fff"/><text x="38.6" y="211.35" font-family="Liberation Sans" font-weight="bold" font-size="4" fill="#000" textLength="2.9" lengthAdjust="spacingAndGlyphs">ê</text><rect x="53.98" y="207.65" width="3.9" height="4.6" fill="#fff"/><text x="54.38" y="211.35" font-family="Liberation Sans" font-weight="bold" font-size="4" fill="#000" textLength="2.9" lengthAdjust="spacingAndGlyphs">ë</text><rect x="69.75" y="207.65" width="3.9" height="4.6" fill="#fff"/><text x="70.15" y="211.35" font-family="Liberation Sans" font-weight="bold" font-size="4" fill="#000" textLength="2.9" lengthAdjust="spacingAndGlyphs">í</text><rect x="85.53" y="207.65" width="3.9" height="4.6" fill="#fff"/><text x="85.93" y="211.35" font-family="Liberation Sans" font-weight="bold" font-size="4" fill="#000" textLength="2.9" lengthAdjust="spacingAndGlyphs">ì</text><rect x="101.3" y="207.65" width="3.9" height="4.6" fill="#fff"/><text x="101.7" y="211.35" font-family="Liberation Sans" font-weight="bold" font-size="4" fill="#000" textLength="2.9" lengthAdjust="spacingAndGlyphs">î</text><rect x="117.07" y="207.65" width="3.9" height="4.6" fill="#fff"/><text x="117.47" y="211.35" font-family="Liberation Sans" font-weight="bold" font-size="4" fill="#000" textLength="2.9" lengthAdjust="spacingAndGlyphs">ï</text><rect x="132.85" y="207.65" width="3.9" height="4.6" fill="#fff"/><text x="133.25" y="211.35" font-family="Liberation Sans" font-weight="bold" font-size="4" fill="#000" textLength="2.9" lengthAdjust="spacingAndGlyphs">ñ</text><rect x="148.62" y="207.65" width="3.9" height="4.6" fill="#fff"/><text x="149.03" y="211.35" font-family="Liberation Sans" font-weight="bold" font-size="4" fill="#000" textLength="2.9" lengthAdjust="spacingAndGlyphs">ó</text><rect x="164.4" y="207.65" width="3.9" height="4.6" fill="#fff"/><text x="164.8" y="211.35" font-family="Liberation Sans" font-weight="bold" font-size="4" fill="#000" textLength="2.9" lengthAdjust="spacingAndGlyphs">ò</text><rect x="180.17" y="207.65" width="3.9" height="4.6" fill="#fff"/><text x="180.57" y="211.35" font-family="Liberation Sans" font-weight="bold" font-size="4" fill="#000" textLength="2.9" lengthAdjust="spacingAndGlyphs">ô</text><rect x="195.95" y="207.65" width="3.9" height="4.6" fill="#fff"/><text x="196.35" y="211.35" font-family="Liberation Sans" font-weight="bold" font-size="4" fill="#000" textLength="2.9" lengthAdjust="spacingAndGlyphs">ö</text><rect x="211.72" y="207.65" width="3.9" height="4.6" fill="#fff"/><text x="212.12" y="211.35" font-family="Liberation Sans" font-weight="bold" font-size="4" fill="#000" textLength="2.9" lengthAdjust="spacingAndGlyphs">õ</text><rect x="227.5" y="207.65" width="3.9" height="4.6" fill="#fff"/><text x="227.9" y="211.35" font-family="Liberation Sans" font-weight="bold" font-size="4" fill="#000" textLength="2.9" lengthAdjust="spacingAndGlyphs">ú</text><rect x="243.28" y="207.65" width="3.9" height="4.6" fill="#fff"/><text x="243.68" y="211.35" font-family="Liberation Sans" font-weight="bold" font-size="4" fill="#000" textLength="2.9" lengthAdjust="spacingAndGlyphs">ù</text><rect x="259.05" y="207.65" width="3.9" height="4.6" fill="#fff"/><text x="259.45" y="211.35" font-family="Liberation Sans" font-weight="bold" font-size="4" fill="#000" textLength="2.9" lengthAdjust="spacingAndGlyphs">û</text><rect x="274.83" y="207.65" width="3.9" height="4.6" fill="#fff"/><text x="275.23" y="211.35" font-family="Liberation Sans" font-weight="bold" font-size="4" fill="#000" textLength="2.9" lengthAdjust="spacingAndGlyphs">ü</text><rect x="38.2" y="223.43" width="3.9" height="4.6" fill="#fff"/><text x="38.6" y="227.12" font-family="Liberation Sans" font-weight="bold" font-size="4" fill="#000" textLength="2.9" lengthAdjust="spacingAndGlyphs">†</text><rect x="53.98" y="223.43" width="3.9" height="4.6" fill="#fff"/><text x="54.38" y="227.12" font-family="Liberation Sans" font-weight="bold" font-size="4" fill="#000" textLength="2.9" lengthAdjust="spacingAndGlyphs">°</text><rect x="69.75" y="223.43" width="3.9" height="4.6" fill="#fff"/><text x="70.15" y="227.12" font-family="Liberation Sans" font-weight="bold" font-size="4" fill="#000" textLength="2.9" lengthAdjust="spacingAndGlyphs">¢</text><rect x="85.53" y="223.43" width="3.9" height="4.6" fill="#fff"/><text x="85.93" y="227.12" font-family="Liberation Sans" font-weight="bold" font-size="4" fill="#000" textLength="2.9" lengthAdjust="spacingAndGlyphs">£</text><rect x="101.3" y="223.43" width="3.9" height="4.6" fill="#fff"/><text x="101.7" y="227.12" font-family="Liberation Sans" font-weight="bold" font-size="4" fill="#000" textLength="2.9" lengthAdjust="spacingAndGlyphs">§</text><rect x="117.07" y="223.43" width="3.9" height="4.6" fill="#fff"/><text x="117.47" y="227.12" font-family="Liberation Sans" font-weight="bold" font-size="4" fill="#000" textLength="2.9" lengthAdjust="spacingAndGlyphs">•</text><rect x="132.85" y="223.43" width="3.9" height="4.6" fill="#fff"/><text x="133.25" y="227.12" font-family="Liberation Sans" font-weight="bold" font-size="4" fill="#000" textLength="2.9" lengthAdjust="spacingAndGlyphs">¶</text><rect x="148.62" y="223.43" width="3.9" height="4.6" fill="#fff"/><text x="149.03" y="227.12" font-family="Liberation Sans" font-weight="bold" font-size="4" fill="#000" textLength="2.9" lengthAdjust="spacingAndGlyphs">ß</text><rect x="164.4" y="223.43" width="3.9" height="4.6" fill="#fff"/><text x="164.8" y="227.12" font-family="Liberation Sans" font-weight="bold" font-size="4" fill="#000" textLength="2.9" lengthAdjust="spacingAndGlyphs">®</text><rect x="180.17" y="223.43" width="3.9" height="4.6" fill="#fff"/><text x="180.57" y="227.12" font-family="Liberation Sans" font-weight="bold" font-size="4" fill="#000" textLength="2.9" lengthAdjust="spacingAndGlyphs">©</text><rect x="195.95" y="223.43" width="3.9" height="4.6" fill="#fff"/><text x="196.35" y="227.12" font-family="Liberation Sans" font-weight="bold" font-size="4" fill="#000" textLength="2.9" lengthAdjust="spacingAndGlyphs">™</text><rect x="211.72" y="223.43" width="3.9" height="4.6" fill="#fff"/><text x="212.12" y="227.12" font-family="Liberation Sans" font-weight="bold" font-size="4" fill="#000" textLength="2.9" lengthAdjust="spacingAndGlyphs">´</text><rect x="227.5" y="223.43" width="3.9" height="4.6" fill="#fff"/><text x="227.9" y="227.12" font-family="Liberation Sans" font-weight="bold" font-size="4" fill="#000" textLength="2.9" lengthAdjust="spacingAndGlyphs">¨</text><rect x="243.28" y="223.43" width="3.9" height="4.6" fill="#fff"/><text x="243.68" y="227.12" font-family="Liberation Sans" font-weight="bold" font-size="4" fill="#000" textLength="2.9" lengthAdjust="spacingAndGlyphs">≠</text><rect x="259.05" y="223.43" width="3.9" height="4.6" fill="#fff"/><text x="259.45" y="227.12" font-family="Liberation Sans" font-weight="bold" font-size="4" fill="#000" textLength="2.9" lengthAdjust="spacingAndGlyphs">Æ</text><rect x="274.83" y="223.43" width="3.9" height="4.6" fill="#fff"/><text x="275.23" y="227.12" font-family="Liberation Sans" font-weight="bold" font-size="4" fill="#000" textLength="2.9" lengthAdjust="spacingAndGlyphs">Ø</text><rect x="38.2" y="239.2" width="3.9" height="4.6" fill="#fff"/><text x="38.6" y="242.9" font-family="Liberation Sans" font-weight="bold" font-size="4" fill="#000" textLength="2.9" lengthAdjust="spacingAndGlyphs">∞</text><rect x="53.98" y="239.2" width="3.9" height="4.6" fill="#fff"/><text x="54.38" y="242.9" font-family="Liberation Sans" font-weight="bold" font-size="4" fill="#000" textLength="2.9" lengthAdjust="spacingAndGlyphs">±</text><rect x="69.75" y="239.2" width="3.9" height="4.6" fill="#fff"/><text x="70.15" y="242.9" font-family="Liberation Sans" font-weight="bold" font-size="4" fill="#000" textLength="2.9" lengthAdjust="spacingAndGlyphs">≤</text><rect x="85.53" y="239.2" width="3.9" height="4.6" fill="#fff"/><text x="85.93" y="242.9" font-family="Liberation Sans" font-weight="bold" font-size="4" fill="#000" textLength="2.9" lengthAdjust="spacingAndGlyphs">≥</text><rect x="101.3" y="239.2" width="3.9" height="4.6" fill="#fff"/><text x="101.7" y="242.9" font-family="Liberation Sans" font-weight="bold" font-size="4" fill="#000" textLength="2.9" lengthAdjust="spacingAndGlyphs">¥</text><rect x="117.07" y="239.2" width="3.9" height="4.6" fill="#fff"/><text x="117.47" y="242.9" font-family="Liberation Sans" font-weight="bold" font-size="4" fill="#000" textLength="2.9" lengthAdjust="spacingAndGlyphs">µ</text><rect x="132.85" y="239.2" width="3.9" height="4.6" fill="#fff"/><text x="133.25" y="242.9" font-family="Liberation Sans" font-weight="bold" font-size="4" fill="#000" textLength="2.9" lengthAdjust="spacingAndGlyphs">∂</text><rect x="148.62" y="239.2" width="3.9" height="4.6" fill="#fff"/><text x="149.03" y="242.9" font-family="Liberation Sans" font-weight="bold" font-size="4" fill="#000" textLength="2.9" lengthAdjust="spacingAndGlyphs">∑</text><rect x="164.4" y="239.2" width="3.9" height="4.6" fill="#fff"/><text x="164.8" y="242.9" font-family="Liberation Sans" font-weight="bold" font-size="4" fill="#000" textLength="2.9" lengthAdjust="spacingAndGlyphs">∏</text><rect x="180.17" y="239.2" width="3.9" height="4.6" fill="#fff"/><text x="180.57" y="242.9" font-family="Liberation Sans" font-weight="bold" font-size="4" fill="#000" textLength="2.9" lengthAdjust="spacingAndGlyphs">π</text><text x="61.56" y="99.34" font-family="Liberation Sans" font-weight="bold" font-size="10" text-anchor="middle" fill="#000">!</text><text x="77.34" y="99.34" font-family="Liberation Sans" font-weight="bold" font-size="10" text-anchor="middle" fill="#000">"</text><text x="93.11" y="99.34" font-family="Liberation Sans" font-weight="bold" font-size="10" text-anchor="middle" fill="#000">#</text><text x="108.89" y="99.34" font-family="Liberation Sans" font-weight="bold" font-size="10" text-anchor="middle" fill="#000">$</text><text x="124.66" y="99.34" font-family="Liberation Sans" font-weight="bold" font-size="10" text-anchor="middle" fill="#000">%</text><text x="140.44" y="99.34" font-family="Liberation Sans" font-weight="bold" font-size="10" text-anchor="middle" fill="#000">&amp;</text><text x="156.21" y="99.34" font-family="Liberation Sans" font-weight="bold" font-size="10" text-anchor="middle" fill="#000">'</text><text x="171.99" y="99.34" font-family="Liberation Sans" font-weight="bold" font-size="10" text-anchor="middle" fill="#000">(</text><text x="187.76" y="99.34" font-family="Liberation Sans" font-weight="bold" font-size="10" text-anchor="middle" fill="#000">)</text><text x="203.54" y="99.34" font-family="Liberation Sans" font-weight="bold" font-size="10" text-anchor="middle" fill="#000">*</text><text x="219.31" y="99.34" font-family="Liberation Sans" font-weight="bold" font-size="10" text-anchor="middle" fill="#000">+</text><text x="235.09" y="99.34" font-family="Liberation Sans" font-weight="bold" font-size="10" text-anchor="middle" fill="#000">,</text><text x="250.86" y="99.34" font-family="Liberation Sans" font-weight="bold" font-size="10" text-anchor="middle" fill="#000">-</text><text x="266.64" y="99.34" font-family="Liberation Sans" font-weight="bold" font-size="10" text-anchor="middle" fill="#000">.</text><text x="282.41" y="99.34" font-family="Liberation Sans" font-weight="bold" font-size="10" text-anchor="middle" fill="#000">/</text><text x="45.79" y="115.11" font-family="Liberation Sans" font-weight="bold" font-size="10" text-anchor="middle" fill="#000">0</text><text x="61.56" y="115.11" font-family="Liberation Sans" font-weight="bold" font-size="10" text-anchor="middle" fill="#000">1</text><text x="77.34" y="115.11" font-family="Liberation Sans" font-weight="bold" font-size="10" text-anchor="middle" fill="#000">2</text><text x="93.11" y="115.11" font-family="Liberation Sans" font-weight="bold" font-size="10" text-anchor="middle" fill="#000">3</text><text x="108.89" y="115.11" font-family="Liberation Sans" font-weight="bold" font-size="10" text-anchor="middle" fill="#000">4</text><text x="124.66" y="115.11" font-family="Liberation Sans" font-weight="bold" font-size="10" text-anchor="middle" fill="#000">5</text><text x="140.44" y="115.11" font-family="Liberation Sans" font-weight="bold" font-size="10" text-anchor="middle" fill="#000">6</text><text x="156.21" y="115.11" font-family="Liberation Sans" font-weight="bold" font-size="10" text-anchor="middle" fill="#000">7</text><text x="171.99" y="115.11" font-family="Liberation Sans" font-weight="bold" font-size="10" text-anchor="middle" fill="#000">8</text><text x="187.76" y="115.11" font-family="Liberation Sans" font-weight="bold" font-size="10" text-anchor="middle" fill="#000">9</text><text x="203.54" y="115.11" font-family="Liberation Sans" font-weight="bold" font-size="10" text-anchor="middle" fill="#000">:</text><text x="219.31" y="115.11" font-family="Liberation Sans" font-weight="bold" font-size="10" text-anchor="middle" fill="#000">;</text><text x="235.09" y="115.11" font-family="Liberation Sans" font-weight="bold" font-size="10" text-anchor="middle" fill="#000">&lt;</text><text x="250.86" y="115.11" font-family="Liberation Sans" font-weight="bold" font-size="10" text-anchor="middle" fill="#000">=</text><text x="266.64" y="115.11" font-family="Liberation Sans" font-weight="bold" font-size="10" text-anchor="middle" fill="#000">&gt;</text><text x="282.41" y="115.11" font-family="Liberation Sans" font-weight="bold" font-size="10" text-anchor="middle" fill="#000">?</text><text x="45.79" y="130.89" font-family="Liberation Sans" font-weight="bold" font-size="10" text-anchor="middle" fill="#000">@</text><text x="61.56" y="130.89" font-family="Liberation Sans" font-weight="bold" font-size="10" text-anchor="middle" fill="#000">A</text><text x="77.34" y="130.89" font-family="Liberation Sans" font-weight="bold" font-size="10" text-anchor="middle" fill="#000">B</text><text x="93.11" y="130.89" font-family="Liberation Sans" font-weight="bold" font-size="10" text-anchor="middle" fill="#000">C</text><text x="108.89" y="130.89" font-family="Liberation Sans" font-weight="bold" font-size="10" text-anchor="middle" fill="#000">D</text><text x="124.66" y="130.89" font-family="Liberation Sans" font-weight="bold" font-size="10" text-anchor="middle" fill="#000">E</text><text x="140.44" y="130.89" font-family="Liberation Sans" font-weight="bold" font-size="10" text-anchor="middle" fill="#000">F</text><text x="156.21" y="130.89" font-family="Liberation Sans" font-weight="bold" font-size="10" text-anchor="middle" fill="#000">G</text><text x="171.99" y="130.89" font-family="Liberation Sans" font-weight="bold" font-size="10" text-anchor="middle" fill="#000">H</text><text x="187.76" y="130.89" font-family="Liberation Sans" font-weight="bold" font-size="10" text-anchor="middle" fill="#000">I</text><text x="203.54" y="130.89" font-family="Liberation Sans" font-weight="bold" font-size="10" text-anchor="middle" fill="#000">J</text><text x="219.31" y="130.89" font-family="Liberation Sans" font-weight="bold" font-size="10" text-anchor="middle" fill="#000">K</text><text x="235.09" y="130.89" font-family="Liberation Sans" font-weight="bold" font-size="10" text-anchor="middle" fill="#000">L</text><text x="250.86" y="130.89" font-family="Liberation Sans" font-weight="bold" font-size="10" text-anchor="middle" fill="#000">M</text><text x="266.64" y="130.89" font-family="Liberation Sans" font-weight="bold" font-size="10" text-anchor="middle" fill="#000">N</text><text x="282.41" y="130.89" font-family="Liberation Sans" font-weight="bold" font-size="10" text-anchor="middle" fill="#000">O</text><text x="45.79" y="146.66" font-family="Liberation Sans" font-weight="bold" font-size="10" text-anchor="middle" fill="#000">P</text><text x="61.56" y="146.66" font-family="Liberation Sans" font-weight="bold" font-size="10" text-anchor="middle" fill="#000">Q</text><text x="77.34" y="146.66" font-family="Liberation Sans" font-weight="bold" font-size="10" text-anchor="middle" fill="#000">R</text><text x="93.11" y="146.66" font-family="Liberation Sans" font-weight="bold" font-size="10" text-anchor="middle" fill="#000">S</text><text x="108.89" y="146.66" font-family="Liberation Sans" font-weight="bold" font-size="10" text-anchor="middle" fill="#000">T</text><text x="124.66" y="146.66" font-family="Liberation Sans" font-weight="bold" font-size="10" text-anchor="middle" fill="#000">U</text><text x="140.44" y="146.66" font-family="Liberation Sans" font-weight="bold" font-size="10" text-anchor="middle" fill="#000">V</text><text x="156.21" y="146.66" font-family="Liberation Sans" font-weight="bold" font-size="10" text-anchor="middle" fill="#000">W</text><text x="171.99" y="146.66" font-family="Liberation Sans" font-weight="bold" font-size="10" text-anchor="middle" fill="#000">X</text><text x="187.76" y="146.66" font-family="Liberation Sans" font-weight="bold" font-size="10" text-anchor="middle" fill="#000">Y</text><text x="203.54" y="146.66" font-family="Liberation Sans" font-weight="bold" font-size="10" text-anchor="middle" fill="#000">Z</text><text x="219.31" y="146.66" font-family="Liberation Sans" font-weight="bold" font-size="10" text-anchor="middle" fill="#000">[</text><text x="235.09" y="146.66" font-family="Liberation Sans" font-weight="bold" font-size="10" text-anchor="middle" fill="#000">\</text><text x="250.86" y="146.66" font-family="Liberation Sans" font-weight="bold" font-size="10" text-anchor="middle" fill="#000">]</text><text x="266.64" y="146.66" font-family="Liberation Sans" font-weight="bold" font-size="10" text-anchor="middle" fill="#000">^</text><text x="282.41" y="146.66" font-family="Liberation Sans" font-weight="bold" font-size="10" text-anchor="middle" fill="#000">_</text><text x="45.79" y="162.44" font-family="Liberation Sans" font-weight="bold" font-size="10" text-anchor="middle" fill="#000">`</text><text x="61.56" y="162.44" font-family="Liberation Sans" font-weight="bold" font-size="10" text-anchor="middle" fill="#000">a</text><text x="77.34" y="162.44" font-family="Liberation Sans" font-weight="bold" font-size="10" text-anchor="middle" fill="#000">b</text><text x="93.11" y="162.44" font-family="Liberation Sans" font-weight="bold" font-size="10" text-anchor="middle" fill="#000">c</text><text x="108.89" y="162.44" font-family="Liberation Sans" font-weight="bold" font-size="10" text-anchor="middle" fill="#000">d</text><text x="124.66" y="162.44" font-family="Liberation Sans" font-weight="bold" font-size="10" text-anchor="middle" fill="#000">e</text><text x="140.44" y="162.44" font-family="Liberation Sans" font-weight="bold" font-size="10" text-anchor="middle" fill="#000">f</text><text x="156.21" y="162.44" font-family="Liberation Sans" font-weight="bold" font-size="10" text-anchor="middle" fill="#000">g</text><text x="171.99" y="162.44" font-family="Liberation Sans" font-weight="bold" font-size="10" text-anchor="middle" fill="#000">h</text><text x="187.76" y="162.44" font-family="Liberation Sans" font-weight="bold" font-size="10" text-anchor="middle" fill="#000">i</text><text x="203.54" y="162.44" font-family="Liberation Sans" font-weight="bold" font-size="10" text-anchor="middle" fill="#000">j</text><text x="219.31" y="162.44" font-family="Liberation Sans" font-weight="bold" font-size="10" text-anchor="middle" fill="#000">k</text><text x="235.09" y="162.44" font-family="Liberation Sans" font-weight="bold" font-size="10" text-anchor="middle" fill="#000">l</text><text x="250.86" y="162.44" font-family="Liberation Sans" font-weight="bold" font-size="10" text-anchor="middle" fill="#000">m</text><text x="266.64" y="162.44" font-family="Liberation Sans" font-weight="bold" font-size="10" text-anchor="middle" fill="#000">n</text><text x="282.41" y="162.44" font-family="Liberation Sans" font-weight="bold" font-size="10" text-anchor="middle" fill="#000">o</text><text x="45.79" y="178.21" font-family="Liberation Sans" font-weight="bold" font-size="10" text-anchor="middle" fill="#000">p</text><text x="61.56" y="178.21" font-family="Liberation Sans" font-weight="bold" font-size="10" text-anchor="middle" fill="#000">q</text><text x="77.34" y="178.21" font-family="Liberation Sans" font-weight="bold" font-size="10" text-anchor="middle" fill="#000">r</text><text x="93.11" y="178.21" font-family="Liberation Sans" font-weight="bold" font-size="10" text-anchor="middle" fill="#000">s</text><text x="108.89" y="178.21" font-family="Liberation Sans" font-weight="bold" font-size="10" text-anchor="middle" fill="#000">t</text><text x="124.66" y="178.21" font-family="Liberation Sans" font-weight="bold" font-size="10" text-anchor="middle" fill="#000">u</text><text x="140.44" y="178.21" font-family="Liberation Sans" font-weight="bold" font-size="10" text-anchor="middle" fill="#000">v</text><text x="156.21" y="178.21" font-family="Liberation Sans" font-weight="bold" font-size="10" text-anchor="middle" fill="#000">w</text><text x="171.99" y="178.21" font-family="Liberation Sans" font-weight="bold" font-size="10" text-anchor="middle" fill="#000">x</text><text x="187.76" y="178.21" font-family="Liberation Sans" font-weight="bold" font-size="10" text-anchor="middle" fill="#000">y</text><text x="203.54" y="178.21" font-family="Liberation Sans" font-weight="bold" font-size="10" text-anchor="middle" fill="#000">z</text><text x="219.31" y="178.21" font-family="Liberation Sans" font-weight="bold" font-size="10" text-anchor="middle" fill="#000">{</text><text x="235.09" y="178.21" font-family="Liberation Sans" font-weight="bold" font-size="10" text-anchor="middle" fill="#000">|</text><text x="250.86" y="178.21" font-family="Liberation Sans" font-weight="bold" font-size="10" text-anchor="middle" fill="#000">}</text><text x="266.64" y="178.21" font-family="Liberation Sans" font-weight="bold" font-size="10" text-anchor="middle" fill="#000">~</text><path d="M201.81 235.45 206.23 235.45 206.23 239.92M217.45 235.45 219.57 235.45 219.57 239.92M220.15 235.45 222.28 235.45 222.28 239.92M233.72 234.93 233.72 239.4 238.2 239.4M253.81 235.45 249.5 235.45 249.5 239.4 253.97 239.4M267.02 235.45 264.95 235.45 264.95 239.4 267.1 239.4M269.73 235.45 267.65 235.45 267.65 239.4 269.8 239.4M280.69 235.35 285 235.35 285 237.43 281.05 237.43 281.05 239.51 285.52 239.51M44.42 251.22H48.38V255.18H44.42ZM60.2 250.7 60.2 255.18 64.15 255.18 64.15 250.7M60.2 252.94 64.15 252.94M75.65 250.7 75.65 255.18 77.55 255.18 77.55 250.7M75.65 252.94 77.55 252.94M78.35 250.7 78.35 255.18 80.25 255.18 80.25 250.7M78.35 252.94 80.25 252.94M91.23 255.7 93.73 251.12 96.22 255.7M106.95 255.7 108.15 251.12 109.35 255.7M109.65 255.7 110.85 251.12 112.05 255.7M123.19 253.2a2.08 2.08 0 1 0 4.16 0a2.08 2.08 0 1 0 -4.16 0M138.55 251.22 143.55 251.22M138.71 255.7 141.05 252.16 143.39 255.7M154.27 251.22 156.67 251.22M154.35 255.7 155.47 252.16 156.6 255.7M156.98 251.22 159.38 251.22M157.05 255.7 158.18 252.16 159.3 255.7M172.6 250.34 172.6 251.22M170.1 252.06 175.1 252.06M170.26 255.7 172.6 252.94 174.94 255.7M186.03 251.22 190.35 251.22 190.35 255.7M186.29 253.3 190.35 253.3M206.49 251.22 202.17 251.22 202.17 255.18 206.65 255.18M202.17 253.2 206.23 253.2M217.43 251.22 222.42 251.22M218.99 251.22 218.99 255.18M220.86 251.22 220.86 255.18M217.43 255.18 222.42 255.18M235.7 250.5 235.7 251.22M233.36 251.85 238.04 251.85M234.14 254.03a1.56 1.56 0 1 0 3.12 0a1.56 1.56 0 1 0 -3.12 0M266.21 250.7 266.21 258.7M266.21 254.7 268.19 254.7M281.11 250.7 281.11 258.7M281.11 254.7 282.79 254.7M283.91 250.7 283.91 258.7M45.36 266.48 45.36 274.48M45.36 269.28 47.34 269.28M45.36 271.68 47.34 271.68M60.26 266.48 60.26 274.48M60.26 269.28 61.94 269.28M60.26 271.68 61.94 271.68M63.05 266.48 63.05 274.48M77.79 266.48 77.79 274.48M75.81 270.48 77.79 270.48M92.93 266.48 92.93 274.48M90.97 270.48 92.93 270.48M94.89 266.48 94.89 274.48M109.34 266.48 109.34 274.48M107.36 269.28 109.34 269.28M107.36 271.68 109.34 271.68M124.47 266.48 124.47 274.48M122.52 269.28 124.47 269.28M122.52 271.68 124.47 271.68M126.44 266.48 126.44 274.48M136.95 270.38 136.95 272.78M134.25 272.78 139.65 272.78M151.91 270.31 151.91 272.89M149.62 272.89 154.19 272.89M154.72 265.58 154.72 274.18M154.72 269.88 156.6 269.88M167.68 270.31 167.68 272.89M165.4 272.89 169.96 272.89M170.07 265.58 170.07 274.18M170.07 269.88 171.33 269.88M172.16 265.58 172.16 274.18M183.45 270.31 183.45 272.89M181.17 272.89 185.73 272.89M186.68 265.58 186.68 274.18M198.97 270.38 198.97 272.78M201.13 270.38 201.13 272.78M197.35 272.78 202.75 272.78M213.12 270.38 218.53 270.38M215.82 270.38 215.82 273.58M228.5 270.31 233.06 270.31M230.78 270.31 230.78 273.75M234.43 265.58 234.43 274.18M232.55 269.88 234.43 269.88M244.28 270.31 248.84 270.31M246.56 270.31 246.56 273.75M249.78 265.58 249.78 274.18M248.32 269.88 249.78 269.88M251.25 265.58 251.25 274.18M260.05 270.31 264.61 270.31M262.33 270.31 262.33 273.75M265.56 265.58 265.56 274.18M276.23 270.38 281.62 270.38M277.85 270.38 277.85 273.58M280 270.38 280 273.58M39.8 287.75 45 287.75M54.98 287.8 59.54 287.8M60.48 281.35 60.48 289.95M77.35 281.75 77.35 290.35M103.18 286.7 107.94 286.7 107.94 290.66M118.81 286.7 121.09 286.7 121.09 290.66M121.72 286.7 124.01 286.7 124.01 290.66M134.58 286.7 136.87 286.7 136.87 290.66M137.42 290.66 138.71 286.61 140 290.66M150.9 286.24 150.9 290.2 155.71 290.2M166.32 286.24 166.32 290.2 168.63 290.2M168.97 286.7 171.55 286.7M169.05 290.66 170.26 287.53 171.47 290.66M182.1 286.24 182.1 290.2 184.41 290.2M186.03 286.06 186.03 286.7M184.82 287.25 187.24 287.25M185.22 289.19a0.81 1.38 0 1 0 1.61 0a0.81 1.38 0 1 0 -1.61 0M202.87 286.7 198.22 286.7 198.22 290.2 203.04 290.2M213.6 286.61 218.25 286.61 218.25 288.45 214 288.45 214 290.29 218.81 290.29M229.23 286.61 231.47 286.61 231.47 288.45 229.42 288.45 229.42 290.29 231.73 290.29M232.15 286.7 234.43 286.7 234.43 290.66M245.01 286.61 247.24 286.61 247.24 288.45 245.2 288.45 245.2 290.29 247.51 290.29M248.11 286.7H250.15V290.2H248.11ZM260.78 286.61 263.02 286.61 263.02 288.45 260.97 288.45 260.97 290.29 263.28 290.29M263.88 286.24 263.88 290.2 265.93 290.2 265.93 286.24M263.88 288.22 265.93 288.22M276.56 286.61 278.79 286.61 278.79 288.45 276.75 288.45 276.75 290.29 279.06 290.29M279.39 290.66 280.68 286.61 281.97 290.66M39.93 302.38 42.17 302.38 42.17 304.22 40.12 304.22 40.12 306.06 42.43 306.06M45.27 302.48 43.03 302.48 43.03 305.97 45.35 305.97M43.03 304.22 45.13 304.22M55.71 302.38 57.94 302.38 57.94 304.22 55.9 304.22 55.9 306.06 58.21 306.06M58.54 302.48 61.12 302.48M59.35 302.48 59.35 305.97M60.31 302.48 60.31 305.97M58.54 305.97 61.12 305.97M71.48 302.38 73.72 302.38 73.72 304.22 71.67 304.22 71.67 306.06 73.98 306.06M75.61 301.83 75.61 302.48M74.4 303.03 76.82 303.03M74.8 304.96a0.81 1.38 0 1 0 1.61 0a0.81 1.38 0 1 0 -1.61 0M87.8 302.48H92.05V305.97H87.8ZM103.57 302.02 103.57 305.97 107.83 305.97 107.83 302.02M103.57 303.99 107.83 303.99M119 302.02 119 305.97 121.04 305.97 121.04 302.02M119 303.99 121.04 303.99M121.64 306.43 122.93 302.38 124.22 306.43M134.56 306.43 137.25 302.38 139.94 306.43M150.28 306.43 151.57 302.38 152.86 306.43M153.19 306.43 154.48 302.38 155.77 306.43M166.56 304.22a2.24 1.84 0 1 0 4.48 0a2.24 1.84 0 1 0 -4.48 0M181.89 302.48 187.26 302.48M182.05 306.43 184.57 303.3 187.09 306.43M200.35 301.69 200.35 302.48M197.66 303.21 203.04 303.21M197.83 306.43 200.35 303.99 202.87 306.43M213.6 302.48 218.25 302.48 218.25 306.43M213.88 304.32 218.25 304.32M234.42 302.48 229.77 302.48 229.77 305.97 234.59 305.97M229.77 304.22 234.14 304.22M244.99 302.48 250.36 302.48M246.67 302.48 246.67 305.97M248.68 302.48 248.68 305.97M244.99 305.97 250.36 305.97M263.45 301.83 263.45 302.48M260.93 303.03 265.97 303.03M261.77 304.96a1.68 1.38 0 1 0 3.36 0a1.68 1.38 0 1 0 -3.36 0" fill="none" stroke="#000" stroke-width="1.55" stroke-linecap="square"/><path d="M37.5 56.9V309.3M37.6 56.5H290M53.5 56.9V309.3M37.6 72.5H290M69.5 56.9V309.3M37.6 88.5H290M84.5 56.9V309.3M37.6 104.5H290M100.5 56.9V309.3M37.6 120.5H290M116.5 56.9V309.3M37.6 135.5H290M132.5 56.9V309.3M37.6 151.5H290M148.5 56.9V309.3M37.6 167.5H290M163.5 56.9V309.3M37.6 183.5H290M179.5 56.9V309.3M37.6 198.5H290M195.5 56.9V309.3M37.6 214.5H290M211.5 56.9V309.3M37.6 230.5H290M226.5 56.9V309.3M37.6 246.5H290M242.5 56.9V309.3M37.6 261.5H290M258.5 56.9V309.3M37.6 277.5H290M274.5 56.9V309.3M37.6 293.5H290M290.5 56.9V309.3M37.6 309.5H290" stroke="#111" stroke-width="1.1" fill="none"/><path d="M37.6 48.5V317.4M29.3 56.9H297.8" stroke="#111" stroke-width="1" fill="none"/><rect x="27.2" y="333.9" width="272.5" height="282.9" rx="3" fill="#e6e6e6" stroke="#b0b0b0" stroke-width="0.8"/><path d="M300.3 336.9V616.8H30.2" fill="none" stroke="#111" stroke-width="1.8"/><rect x="35.7" y="335.4" width="255.4" height="7.3" fill="#c8c8c8"/><line x1="35.7" y1="336.15" x2="291.1" y2="336.15" stroke="#9c9c9c" stroke-width="0.8"/><line x1="35.7" y1="337.65" x2="291.1" y2="337.65" stroke="#9c9c9c" stroke-width="0.8"/><line x1="35.7" y1="339.15" x2="291.1" y2="339.15" stroke="#9c9c9c" stroke-width="0.8"/><line x1="35.7" y1="340.65" x2="291.1" y2="340.65" stroke="#9c9c9c" stroke-width="0.8"/><line x1="31.2" y1="334.2" x2="295.7" y2="334.2" stroke="#555" stroke-width="1"/><rect x="125.35" y="335.4" width="76.7" height="7.3" fill="#dedede"/><text x="163.7" y="341.7" font-family="Liberation Sans" font-size="7.2" text-anchor="middle" fill="#000" stroke="#000" stroke-width="0.15" textLength="72.7" lengthAdjust="spacingAndGlyphs">MoonTwo Family:Extended</text><rect x="29.9" y="336.9" width="4.9" height="5" fill="#e8e8e8" stroke="#111" stroke-width="0.9"/><rect x="284.4" y="336.9" width="4.9" height="5" fill="#e8e8e8" stroke="#111" stroke-width="0.9"/><rect x="292.2" y="336.9" width="4.9" height="5" fill="#e8e8e8" stroke="#111" stroke-width="0.9"/><path d="M284.9 340.5h3v-3M292.8 338.7h3.4M292.8 340.3h3.4" fill="none" stroke="#111" stroke-width="0.7"/><rect x="29.2" y="344.9" width="268.5" height="268.9" fill="#fff" stroke="#111" stroke-width="1"/><rect x="289.9" y="353.3" width="7.8" height="252.4" fill="#e4e4e4"/><rect x="37.5" y="605.7" width="252.4" height="8.1" fill="#e4e4e4"/><path d="M289.9 361.3h7.8M289.9 597.7h7.8M45.5 605.7v8M281.9 605.7v8" stroke="#777" stroke-width="0.7" fill="none"/><rect x="290.1" y="353.6" width="7.8" height="7.6" fill="#fafafa"/><path d="M291.8 358.3l2 -2l2 2z" fill="#222"/><rect x="290.1" y="597.9" width="7.8" height="7.6" fill="#fafafa"/><path d="M291.8 600.7l2 2l2 -2z" fill="#222"/><path d="M42.5 607.7l-2 2l2 2z" fill="#222"/><path d="M284.9 607.7l2 2l-2 2z" fill="#222"/><text x="45.39" y="351.4" font-family="Liberation Sans" font-size="6.1" text-anchor="middle" fill="#000" stroke="#000" stroke-width="0.2">0</text><text x="33.4" y="363.49" font-family="Liberation Sans" font-size="6.4" text-anchor="middle" fill="#000" stroke="#000" stroke-width="0.2">0</text><text x="61.16" y="351.4" font-family="Liberation Sans" font-size="6.1" text-anchor="middle" fill="#000" stroke="#000" stroke-width="0.2">1</text><text x="33.4" y="379.26" font-family="Liberation Sans" font-size="6.4" text-anchor="middle" fill="#000" stroke="#000" stroke-width="0.2">1</text><text x="76.94" y="351.4" font-family="Liberation Sans" font-size="6.1" text-anchor="middle" fill="#000" stroke="#000" stroke-width="0.2">2</text><text x="33.4" y="395.04" font-family="Liberation Sans" font-size="6.4" text-anchor="middle" fill="#000" stroke="#000" stroke-width="0.2">2</text><text x="92.71" y="351.4" font-family="Liberation Sans" font-size="6.1" text-anchor="middle" fill="#000" stroke="#000" stroke-width="0.2">3</text><text x="33.4" y="410.81" font-family="Liberation Sans" font-size="6.4" text-anchor="middle" fill="#000" stroke="#000" stroke-width="0.2">3</text><text x="108.49" y="351.4" font-family="Liberation Sans" font-size="6.1" text-anchor="middle" fill="#000" stroke="#000" stroke-width="0.2">4</text><text x="33.4" y="426.59" font-family="Liberation Sans" font-size="6.4" text-anchor="middle" fill="#000" stroke="#000" stroke-width="0.2">4</text><text x="124.26" y="351.4" font-family="Liberation Sans" font-size="6.1" text-anchor="middle" fill="#000" stroke="#000" stroke-width="0.2">5</text><text x="33.4" y="442.36" font-family="Liberation Sans" font-size="6.4" text-anchor="middle" fill="#000" stroke="#000" stroke-width="0.2">5</text><text x="140.04" y="351.4" font-family="Liberation Sans" font-size="6.1" text-anchor="middle" fill="#000" stroke="#000" stroke-width="0.2">6</text><text x="33.4" y="458.14" font-family="Liberation Sans" font-size="6.4" text-anchor="middle" fill="#000" stroke="#000" stroke-width="0.2">6</text><text x="155.81" y="351.4" font-family="Liberation Sans" font-size="6.1" text-anchor="middle" fill="#000" stroke="#000" stroke-width="0.2">7</text><text x="33.4" y="473.91" font-family="Liberation Sans" font-size="6.4" text-anchor="middle" fill="#000" stroke="#000" stroke-width="0.2">7</text><text x="171.59" y="351.4" font-family="Liberation Sans" font-size="6.1" text-anchor="middle" fill="#000" stroke="#000" stroke-width="0.2">8</text><text x="33.4" y="489.69" font-family="Liberation Sans" font-size="6.4" text-anchor="middle" fill="#000" stroke="#000" stroke-width="0.2">8</text><text x="187.36" y="351.4" font-family="Liberation Sans" font-size="6.1" text-anchor="middle" fill="#000" stroke="#000" stroke-width="0.2">9</text><text x="33.4" y="505.46" font-family="Liberation Sans" font-size="6.4" text-anchor="middle" fill="#000" stroke="#000" stroke-width="0.2">9</text><text x="203.14" y="351.4" font-family="Liberation Sans" font-size="6.1" text-anchor="middle" fill="#000" stroke="#000" stroke-width="0.2">A</text><text x="33.4" y="521.24" font-family="Liberation Sans" font-size="6.4" text-anchor="middle" fill="#000" stroke="#000" stroke-width="0.2">A</text><text x="218.91" y="351.4" font-family="Liberation Sans" font-size="6.1" text-anchor="middle" fill="#000" stroke="#000" stroke-width="0.2">B</text><text x="33.4" y="537.01" font-family="Liberation Sans" font-size="6.4" text-anchor="middle" fill="#000" stroke="#000" stroke-width="0.2">B</text><text x="234.69" y="351.4" font-family="Liberation Sans" font-size="6.1" text-anchor="middle" fill="#000" stroke="#000" stroke-width="0.2">C</text><text x="33.4" y="552.79" font-family="Liberation Sans" font-size="6.4" text-anchor="middle" fill="#000" stroke="#000" stroke-width="0.2">C</text><text x="250.46" y="351.4" font-family="Liberation Sans" font-size="6.1" text-anchor="middle" fill="#000" stroke="#000" stroke-width="0.2">D</text><text x="33.4" y="568.56" font-family="Liberation Sans" font-size="6.4" text-anchor="middle" fill="#000" stroke="#000" stroke-width="0.2">D</text><text x="266.24" y="351.4" font-family="Liberation Sans" font-size="6.1" text-anchor="middle" fill="#000" stroke="#000" stroke-width="0.2">E</text><text x="33.4" y="584.34" font-family="Liberation Sans" font-size="6.4" text-anchor="middle" fill="#000" stroke="#000" stroke-width="0.2">E</text><text x="282.01" y="351.4" font-family="Liberation Sans" font-size="6.1" text-anchor="middle" fill="#000" stroke="#000" stroke-width="0.2">F</text><text x="33.4" y="600.11" font-family="Liberation Sans" font-size="6.4" text-anchor="middle" fill="#000" stroke="#000" stroke-width="0.2">F</text><rect x="37.5" y="384.85" width="15.83" height="15.83" fill="#f9dfda"/><rect x="53.27" y="384.85" width="15.83" height="15.83" fill="#f9dfda"/><rect x="69.05" y="384.85" width="15.83" height="15.83" fill="#f9dfda"/><rect x="84.83" y="384.85" width="15.83" height="15.83" fill="#f9dfda"/><rect x="100.6" y="384.85" width="15.83" height="15.83" fill="#f9dfda"/><rect x="116.38" y="384.85" width="15.83" height="15.83" fill="#f9dfda"/><rect x="132.15" y="384.85" width="15.83" height="15.83" fill="#f9dfda"/><rect x="147.93" y="384.85" width="15.83" height="15.83" fill="#f9dfda"/><rect x="163.7" y="384.85" width="15.83" height="15.83" fill="#f9dfda"/><rect x="179.47" y="384.85" width="15.83" height="15.83" fill="#f9dfda"/><rect x="195.25" y="384.85" width="15.83" height="15.83" fill="#f9dfda"/><rect x="211.03" y="384.85" width="15.83" height="15.83" fill="#f9dfda"/><rect x="226.8" y="384.85" width="15.83" height="15.83" fill="#f9dfda"/><rect x="242.58" y="384.85" width="15.83" height="15.83" fill="#f9dfda"/><rect x="258.35" y="384.85" width="15.83" height="15.83" fill="#f9dfda"/><rect x="274.12" y="384.85" width="15.83" height="15.83" fill="#f9dfda"/><rect x="37.5" y="400.62" width="15.83" height="15.83" fill="#f9dfda"/><rect x="53.27" y="400.62" width="15.83" height="15.83" fill="#f9dfda"/><rect x="69.05" y="400.62" width="15.83" height="15.83" fill="#f9dfda"/><rect x="84.83" y="400.62" width="15.83" height="15.83" fill="#f9dfda"/><rect x="100.6" y="400.62" width="15.83" height="15.83" fill="#dff6d6"/><rect x="116.38" y="400.62" width="15.83" height="15.83" fill="#dff6d6"/><rect x="132.15" y="400.62" width="15.83" height="15.83" fill="#dff6d6"/><rect x="147.93" y="400.62" width="15.83" height="15.83" fill="#dff6d6"/><rect x="163.7" y="400.62" width="15.83" height="15.83" fill="#dff6d6"/><rect x="179.47" y="400.62" width="15.83" height="15.83" fill="#dff6d6"/><rect x="195.25" y="400.62" width="15.83" height="15.83" fill="#dff6d6"/><rect x="211.03" y="400.62" width="15.83" height="15.83" fill="#dff6d6"/><rect x="226.8" y="400.62" width="15.83" height="15.83" fill="#dff6d6"/><rect x="258.35" y="400.62" width="15.83" height="15.83" fill="#f9dfda"/><rect x="274.12" y="400.62" width="15.83" height="15.83" fill="#f9dfda"/><rect x="37.5" y="416.4" width="15.83" height="15.83" fill="#f9dfda"/><rect x="53.27" y="416.4" width="15.83" height="15.83" fill="#f9dfda"/><rect x="69.05" y="416.4" width="15.83" height="15.83" fill="#f9dfda"/><rect x="84.83" y="416.4" width="15.83" height="15.83" fill="#f9dfda"/><rect x="100.6" y="416.4" width="15.83" height="15.83" fill="#f9dfda"/><rect x="116.38" y="416.4" width="15.83" height="15.83" fill="#f9dfda"/><rect x="132.15" y="416.4" width="15.83" height="15.83" fill="#f9dfda"/><rect x="147.93" y="416.4" width="15.83" height="15.83" fill="#f9dfda"/><rect x="163.7" y="416.4" width="15.83" height="15.83" fill="#f9dfda"/><rect x="179.47" y="416.4" width="15.83" height="15.83" fill="#f9dfda"/><rect x="195.25" y="416.4" width="15.83" height="15.83" fill="#f9dfda"/><rect x="211.03" y="416.4" width="15.83" height="15.83" fill="#f9dfda"/><rect x="226.8" y="416.4" width="15.83" height="15.83" fill="#f9dfda"/><rect x="242.58" y="416.4" width="15.83" height="15.83" fill="#f9dfda"/><rect x="258.35" y="416.4" width="15.83" height="15.83" fill="#f9dfda"/><rect x="274.12" y="416.4" width="15.83" height="15.83" fill="#f9dfda"/><rect x="37.5" y="432.18" width="15.83" height="15.83" fill="#f9dfda"/><rect x="53.27" y="432.18" width="15.83" height="15.83" fill="#dff6d6"/><rect x="69.05" y="432.18" width="15.83" height="15.83" fill="#dff6d6"/><rect x="84.83" y="432.18" width="15.83" height="15.83" fill="#dff6d6"/><rect x="100.6" y="432.18" width="15.83" height="15.83" fill="#dff6d6"/><rect x="116.38" y="432.18" width="15.83" height="15.83" fill="#dff6d6"/><rect x="132.15" y="432.18" width="15.83" height="15.83" fill="#dff6d6"/><rect x="147.93" y="432.18" width="15.83" height="15.83" fill="#dff6d6"/><rect x="179.47" y="432.18" width="15.83" height="15.83" fill="#f9dfda"/><rect x="195.25" y="432.18" width="15.83" height="15.83" fill="#f9dfda"/><rect x="211.03" y="432.18" width="15.83" height="15.83" fill="#f9dfda"/><rect x="226.8" y="432.18" width="15.83" height="15.83" fill="#f9dfda"/><rect x="242.58" y="432.18" width="15.83" height="15.83" fill="#f9dfda"/><rect x="258.35" y="432.18" width="15.83" height="15.83" fill="#f9dfda"/><rect x="274.12" y="432.18" width="15.83" height="15.83" fill="#f9dfda"/><rect x="37.5" y="447.95" width="15.83" height="15.83" fill="#f9dfda"/><rect x="53.27" y="447.95" width="15.83" height="15.83" fill="#f9dfda"/><rect x="69.05" y="447.95" width="15.83" height="15.83" fill="#f9dfda"/><rect x="84.83" y="447.95" width="15.83" height="15.83" fill="#f9dfda"/><rect x="100.6" y="447.95" width="15.83" height="15.83" fill="#f9dfda"/><rect x="116.38" y="447.95" width="15.83" height="15.83" fill="#f9dfda"/><rect x="132.15" y="447.95" width="15.83" height="15.83" fill="#f9dfda"/><rect x="147.93" y="447.95" width="15.83" height="15.83" fill="#f9dfda"/><rect x="163.7" y="447.95" width="15.83" height="15.83" fill="#f9dfda"/><rect x="179.47" y="447.95" width="15.83" height="15.83" fill="#f9dfda"/><rect x="195.25" y="447.95" width="15.83" height="15.83" fill="#f9dfda"/><rect x="211.03" y="447.95" width="15.83" height="15.83" fill="#f9dfda"/><rect x="226.8" y="447.95" width="15.83" height="15.83" fill="#dff6d6"/><rect x="242.58" y="447.95" width="15.83" height="15.83" fill="#dff6d6"/><rect x="258.35" y="447.95" width="15.83" height="15.83" fill="#dff6d6"/><rect x="274.12" y="447.95" width="15.83" height="15.83" fill="#dff6d6"/><rect x="37.5" y="463.73" width="15.83" height="15.83" fill="#dff6d6"/><rect x="69.05" y="463.73" width="15.83" height="15.83" fill="#f9dfda"/><rect x="84.83" y="463.73" width="15.83" height="15.83" fill="#f9dfda"/><rect x="100.6" y="463.73" width="15.83" height="15.83" fill="#f9dfda"/><rect x="116.38" y="463.73" width="15.83" height="15.83" fill="#f9dfda"/><rect x="132.15" y="463.73" width="15.83" height="15.83" fill="#f9dfda"/><rect x="147.93" y="463.73" width="15.83" height="15.83" fill="#f9dfda"/><rect x="163.7" y="463.73" width="15.83" height="15.83" fill="#f9dfda"/><rect x="179.47" y="463.73" width="15.83" height="15.83" fill="#f9dfda"/><rect x="195.25" y="463.73" width="15.83" height="15.83" fill="#f9dfda"/><rect x="211.03" y="463.73" width="15.83" height="15.83" fill="#f9dfda"/><rect x="226.8" y="463.73" width="15.83" height="15.83" fill="#f9dfda"/><rect x="242.58" y="463.73" width="15.83" height="15.83" fill="#f9dfda"/><rect x="258.35" y="463.73" width="15.83" height="15.83" fill="#f9dfda"/><rect x="274.12" y="463.73" width="15.83" height="15.83" fill="#f9dfda"/><rect x="37.5" y="479.5" width="15.83" height="15.83" fill="#f9dfda"/><rect x="53.27" y="479.5" width="15.83" height="15.83" fill="#f9dfda"/><rect x="69.05" y="479.5" width="15.83" height="15.83" fill="#f9dfda"/><rect x="84.83" y="479.5" width="15.83" height="15.83" fill="#f9dfda"/><rect x="100.6" y="479.5" width="15.83" height="15.83" fill="#f9dfda"/><rect x="116.38" y="479.5" width="15.83" height="15.83" fill="#dff6d6"/><rect x="132.15" y="479.5" width="15.83" height="15.83" fill="#dff6d6"/><rect x="147.93" y="479.5" width="15.83" height="15.83" fill="#dff6d6"/><rect x="163.7" y="479.5" width="15.83" height="15.83" fill="#dff6d6"/><rect x="179.47" y="479.5" width="15.83" height="15.83" fill="#dff6d6"/><rect x="195.25" y="479.5" width="15.83" height="15.83" fill="#dff6d6"/><rect x="211.03" y="479.5" width="15.83" height="15.83" fill="#dff6d6"/><rect x="226.8" y="479.5" width="15.83" height="15.83" fill="#dff6d6"/><rect x="242.58" y="479.5" width="15.83" height="15.83" fill="#dff6d6"/><rect x="258.35" y="479.5" width="15.83" height="15.83" fill="#d3d9f6"/><rect x="274.12" y="479.5" width="15.83" height="15.83" fill="#d3d9f6"/><rect x="37.5" y="495.27" width="15.83" height="15.83" fill="#d3d9f6"/><rect x="53.27" y="495.27" width="15.83" height="15.83" fill="#d3d9f6"/><rect x="69.05" y="495.27" width="15.83" height="15.83" fill="#d3d9f6"/><rect x="84.83" y="495.27" width="15.83" height="15.83" fill="#d3d9f6"/><rect x="100.6" y="495.27" width="15.83" height="15.83" fill="#d3d9f6"/><rect x="116.38" y="495.27" width="15.83" height="15.83" fill="#d3d9f6"/><rect x="132.15" y="495.27" width="15.83" height="15.83" fill="#d3d9f6"/><rect x="147.93" y="495.27" width="15.83" height="15.83" fill="#d3d9f6"/><rect x="163.7" y="495.27" width="15.83" height="15.83" fill="#d3d9f6"/><rect x="179.47" y="495.27" width="15.83" height="15.83" fill="#d3d9f6"/><rect x="195.25" y="495.27" width="15.83" height="15.83" fill="#d3d9f6"/><rect x="211.03" y="495.27" width="15.83" height="15.83" fill="#d3d9f6"/><rect x="226.8" y="495.27" width="15.83" height="15.83" fill="#d3d9f6"/><rect x="242.58" y="495.27" width="15.83" height="15.83" fill="#d3d9f6"/><rect x="258.35" y="495.27" width="15.83" height="15.83" fill="#d3d9f6"/><rect x="274.12" y="495.27" width="15.83" height="15.83" fill="#d3d9f6"/><rect x="37.5" y="511.05" width="15.83" height="15.83" fill="#d3d9f6"/><rect x="53.27" y="511.05" width="15.83" height="15.83" fill="#d3d9f6"/><rect x="69.05" y="511.05" width="15.83" height="15.83" fill="#d3d9f6"/><rect x="84.83" y="511.05" width="15.83" height="15.83" fill="#d3d9f6"/><rect x="100.6" y="511.05" width="15.83" height="15.83" fill="#d3d9f6"/><rect x="116.38" y="511.05" width="15.83" height="15.83" fill="#d3d9f6"/><rect x="132.15" y="511.05" width="15.83" height="15.83" fill="#d3d9f6"/><rect x="147.93" y="511.05" width="15.83" height="15.83" fill="#d3d9f6"/><rect x="163.7" y="511.05" width="15.83" height="15.83" fill="#d3d9f6"/><rect x="195.25" y="511.05" width="15.83" height="15.83" fill="#dff6d6"/><rect x="211.03" y="511.05" width="15.83" height="15.83" fill="#dff6d6"/><rect x="226.8" y="511.05" width="15.83" height="15.83" fill="#dff6d6"/><rect x="242.58" y="511.05" width="15.83" height="15.83" fill="#dff6d6"/><rect x="258.35" y="511.05" width="15.83" height="15.83" fill="#dff6d6"/><rect x="274.12" y="511.05" width="15.83" height="15.83" fill="#dff6d6"/><rect x="37.5" y="526.83" width="15.83" height="15.83" fill="#dff6d6"/><rect x="53.27" y="526.83" width="15.83" height="15.83" fill="#d3d9f6"/><rect x="69.05" y="526.83" width="15.83" height="15.83" fill="#d3d9f6"/><rect x="84.83" y="526.83" width="15.83" height="15.83" fill="#d3d9f6"/><rect x="100.6" y="526.83" width="15.83" height="15.83" fill="#d3d9f6"/><rect x="116.38" y="526.83" width="15.83" height="15.83" fill="#d3d9f6"/><rect x="132.15" y="526.83" width="15.83" height="15.83" fill="#d3d9f6"/><rect x="147.93" y="526.83" width="15.83" height="15.83" fill="#d3d9f6"/><rect x="163.7" y="526.83" width="15.83" height="15.83" fill="#d3d9f6"/><rect x="179.47" y="526.83" width="15.83" height="15.83" fill="#d3d9f6"/><rect x="195.25" y="526.83" width="15.83" height="15.83" fill="#d3d9f6"/><rect x="211.03" y="526.83" width="15.83" height="15.83" fill="#d3d9f6"/><rect x="226.8" y="526.83" width="15.83" height="15.83" fill="#d3d9f6"/><rect x="242.58" y="526.83" width="15.83" height="15.83" fill="#d3d9f6"/><rect x="258.35" y="526.83" width="15.83" height="15.83" fill="#d3d9f6"/><rect x="274.12" y="526.83" width="15.83" height="15.83" fill="#d3d9f6"/><rect x="37.5" y="542.6" width="15.83" height="15.83" fill="#d3d9f6"/><rect x="53.27" y="542.6" width="15.83" height="15.83" fill="#d3d9f6"/><rect x="69.05" y="542.6" width="15.83" height="15.83" fill="#d3d9f6"/><rect x="84.83" y="542.6" width="15.83" height="15.83" fill="#d3d9f6"/><rect x="100.6" y="542.6" width="15.83" height="15.83" fill="#d3d9f6"/><rect x="116.38" y="542.6" width="15.83" height="15.83" fill="#d3d9f6"/><rect x="132.15" y="542.6" width="15.83" height="15.83" fill="#d3d9f6"/><rect x="147.93" y="542.6" width="15.83" height="15.83" fill="#d3d9f6"/><rect x="163.7" y="542.6" width="15.83" height="15.83" fill="#d3d9f6"/><rect x="179.47" y="542.6" width="15.83" height="15.83" fill="#d3d9f6"/><rect x="195.25" y="542.6" width="15.83" height="15.83" fill="#d3d9f6"/><rect x="211.03" y="542.6" width="15.83" height="15.83" fill="#d3d9f6"/><rect x="242.58" y="542.6" width="15.83" height="15.83" fill="#f9dfda"/><rect x="258.35" y="542.6" width="15.83" height="15.83" fill="#f9dfda"/><rect x="274.12" y="542.6" width="15.83" height="15.83" fill="#f9dfda"/><rect x="37.5" y="558.38" width="15.83" height="15.83" fill="#f9dfda"/><rect x="53.27" y="558.38" width="15.83" height="15.83" fill="#f9dfda"/><rect x="69.05" y="558.38" width="15.83" height="15.83" fill="#f9dfda"/><rect x="84.83" y="558.38" width="15.83" height="15.83" fill="#f9dfda"/><rect x="100.6" y="558.38" width="15.83" height="15.83" fill="#f9dfda"/><rect x="116.38" y="558.38" width="15.83" height="15.83" fill="#f9dfda"/><rect x="132.15" y="558.38" width="15.83" height="15.83" fill="#f9dfda"/><rect x="147.93" y="558.38" width="15.83" height="15.83" fill="#f9dfda"/><rect x="163.7" y="558.38" width="15.83" height="15.83" fill="#f9dfda"/><rect x="179.47" y="558.38" width="15.83" height="15.83" fill="#f9dfda"/><rect x="195.25" y="558.38" width="15.83" height="15.83" fill="#f9dfda"/><rect x="211.03" y="558.38" width="15.83" height="15.83" fill="#f9dfda"/><rect x="226.8" y="558.38" width="15.83" height="15.83" fill="#f9dfda"/><rect x="242.58" y="558.38" width="15.83" height="15.83" fill="#f9dfda"/><rect x="258.35" y="558.38" width="15.83" height="15.83" fill="#f9dfda"/><rect x="274.12" y="558.38" width="15.83" height="15.83" fill="#f9dfda"/><rect x="37.5" y="574.15" width="15.83" height="15.83" fill="#dff6d6"/><rect x="53.27" y="574.15" width="15.83" height="15.83" fill="#dff6d6"/><rect x="69.05" y="574.15" width="15.83" height="15.83" fill="#dff6d6"/><rect x="84.83" y="574.15" width="15.83" height="15.83" fill="#dff6d6"/><rect x="100.6" y="574.15" width="15.83" height="15.83" fill="#dff6d6"/><rect x="116.38" y="574.15" width="15.83" height="15.83" fill="#d3d9f6"/><rect x="132.15" y="574.15" width="15.83" height="15.83" fill="#d3d9f6"/><rect x="147.93" y="574.15" width="15.83" height="15.83" fill="#d3d9f6"/><rect x="163.7" y="574.15" width="15.83" height="15.83" fill="#d3d9f6"/><rect x="179.47" y="574.15" width="15.83" height="15.83" fill="#d3d9f6"/><rect x="195.25" y="574.15" width="15.83" height="15.83" fill="#d3d9f6"/><rect x="211.03" y="574.15" width="15.83" height="15.83" fill="#d3d9f6"/><rect x="226.8" y="574.15" width="15.83" height="15.83" fill="#d3d9f6"/><rect x="242.58" y="574.15" width="15.83" height="15.83" fill="#d3d9f6"/><rect x="258.35" y="574.15" width="15.83" height="15.83" fill="#d3d9f6"/><rect x="274.12" y="574.15" width="15.83" height="15.83" fill="#d3d9f6"/><rect x="37.5" y="589.92" width="15.83" height="15.83" fill="#d3d9f6"/><rect x="53.27" y="589.92" width="15.83" height="15.83" fill="#d3d9f6"/><rect x="69.05" y="589.92" width="15.83" height="15.83" fill="#d3d9f6"/><rect x="84.83" y="589.92" width="15.83" height="15.83" fill="#d3d9f6"/><rect x="100.6" y="589.92" width="15.83" height="15.83" fill="#d3d9f6"/><rect x="116.38" y="589.92" width="15.83" height="15.83" fill="#d3d9f6"/><rect x="132.15" y="589.92" width="15.83" height="15.83" fill="#d3d9f6"/><rect x="147.93" y="589.92" width="15.83" height="15.83" fill="#d3d9f6"/><rect x="163.7" y="589.92" width="15.83" height="15.83" fill="#d3d9f6"/><rect x="179.47" y="589.92" width="15.83" height="15.83" fill="#d3d9f6"/><rect x="195.25" y="589.92" width="15.83" height="15.83" fill="#d3d9f6"/><rect x="211.03" y="589.92" width="15.83" height="15.83" fill="#d3d9f6"/><rect x="226.8" y="589.92" width="15.83" height="15.83" fill="#d3d9f6"/><rect x="242.58" y="589.92" width="15.83" height="15.83" fill="#d3d9f6"/><rect x="258.35" y="589.92" width="15.83" height="15.83" fill="#d3d9f6"/><rect x="274.12" y="589.92" width="15.83" height="15.83" fill="#d3d9f6"/><rect x="37.5" y="353.3" width="15.78" height="15.78" fill="url(#hatch)"/><rect x="37.5" y="367.57" width="15.78" height="0.9" fill="#fff" opacity="0.8"/><rect x="53.27" y="353.3" width="15.78" height="15.78" fill="url(#hatch)"/><rect x="53.27" y="367.57" width="15.78" height="0.9" fill="#fff" opacity="0.8"/><rect x="69.05" y="353.3" width="15.78" height="15.78" fill="url(#hatch)"/><rect x="69.05" y="367.57" width="15.78" height="0.9" fill="#fff" opacity="0.8"/><rect x="84.83" y="353.3" width="15.78" height="15.78" fill="url(#hatch)"/><rect x="84.83" y="367.57" width="15.78" height="0.9" fill="#fff" opacity="0.8"/><rect x="100.6" y="353.3" width="15.78" height="15.78" fill="url(#hatch)"/><rect x="100.6" y="367.57" width="15.78" height="0.9" fill="#fff" opacity="0.8"/><rect x="116.38" y="353.3" width="15.78" height="15.78" fill="url(#hatch)"/><rect x="116.38" y="367.57" width="15.78" height="0.9" fill="#fff" opacity="0.8"/><rect x="132.15" y="353.3" width="15.78" height="15.78" fill="url(#hatch)"/><rect x="132.15" y="367.57" width="15.78" height="0.9" fill="#fff" opacity="0.8"/><rect x="147.93" y="353.3" width="15.78" height="15.78" fill="url(#hatch)"/><rect x="147.93" y="367.57" width="15.78" height="0.9" fill="#fff" opacity="0.8"/><rect x="163.7" y="353.3" width="15.78" height="15.78" fill="url(#hatch)"/><rect x="163.7" y="367.57" width="15.78" height="0.9" fill="#fff" opacity="0.8"/><rect x="195.25" y="353.3" width="15.78" height="15.78" fill="url(#hatch)"/><rect x="195.25" y="367.57" width="15.78" height="0.9" fill="#fff" opacity="0.8"/><rect x="211.03" y="353.3" width="15.78" height="15.78" fill="url(#hatch)"/><rect x="211.03" y="367.57" width="15.78" height="0.9" fill="#fff" opacity="0.8"/><rect x="226.8" y="353.3" width="15.78" height="15.78" fill="url(#hatch)"/><rect x="226.8" y="367.57" width="15.78" height="0.9" fill="#fff" opacity="0.8"/><rect x="258.35" y="353.3" width="15.78" height="15.78" fill="url(#hatch)"/><rect x="258.35" y="367.57" width="15.78" height="0.9" fill="#fff" opacity="0.8"/><rect x="274.12" y="353.3" width="15.78" height="15.78" fill="url(#hatch)"/><rect x="274.12" y="367.57" width="15.78" height="0.9" fill="#fff" opacity="0.8"/><rect x="37.5" y="369.07" width="15.78" height="15.78" fill="url(#hatch)"/><rect x="37.5" y="383.35" width="15.78" height="0.9" fill="#fff" opacity="0.8"/><rect x="53.27" y="369.07" width="15.78" height="15.78" fill="url(#hatch)"/><rect x="53.27" y="383.35" width="15.78" height="0.9" fill="#fff" opacity="0.8"/><rect x="69.05" y="369.07" width="15.78" height="15.78" fill="url(#hatch)"/><rect x="69.05" y="383.35" width="15.78" height="0.9" fill="#fff" opacity="0.8"/><rect x="84.83" y="369.07" width="15.78" height="15.78" fill="url(#hatch)"/><rect x="84.83" y="383.35" width="15.78" height="0.9" fill="#fff" opacity="0.8"/><rect x="100.6" y="369.07" width="15.78" height="15.78" fill="url(#hatch)"/><rect x="100.6" y="383.35" width="15.78" height="0.9" fill="#fff" opacity="0.8"/><rect x="116.38" y="369.07" width="15.78" height="15.78" fill="url(#hatch)"/><rect x="116.38" y="383.35" width="15.78" height="0.9" fill="#fff" opacity="0.8"/><rect x="132.15" y="369.07" width="15.78" height="15.78" fill="url(#hatch)"/><rect x="132.15" y="383.35" width="15.78" height="0.9" fill="#fff" opacity="0.8"/><rect x="147.93" y="369.07" width="15.78" height="15.78" fill="url(#hatch)"/><rect x="147.93" y="383.35" width="15.78" height="0.9" fill="#fff" opacity="0.8"/><rect x="163.7" y="369.07" width="15.78" height="15.78" fill="url(#hatch)"/><rect x="163.7" y="383.35" width="15.78" height="0.9" fill="#fff" opacity="0.8"/><rect x="179.47" y="369.07" width="15.78" height="15.78" fill="url(#hatch)"/><rect x="179.47" y="383.35" width="15.78" height="0.9" fill="#fff" opacity="0.8"/><rect x="195.25" y="369.07" width="15.78" height="15.78" fill="url(#hatch)"/><rect x="195.25" y="383.35" width="15.78" height="0.9" fill="#fff" opacity="0.8"/><rect x="211.03" y="369.07" width="15.78" height="15.78" fill="url(#hatch)"/><rect x="211.03" y="383.35" width="15.78" height="0.9" fill="#fff" opacity="0.8"/><rect x="226.8" y="369.07" width="15.78" height="15.78" fill="url(#hatch)"/><rect x="226.8" y="383.35" width="15.78" height="0.9" fill="#fff" opacity="0.8"/><rect x="242.58" y="369.07" width="15.78" height="15.78" fill="url(#hatch)"/><rect x="242.58" y="383.35" width="15.78" height="0.9" fill="#fff" opacity="0.8"/><rect x="258.35" y="369.07" width="15.78" height="15.78" fill="url(#hatch)"/><rect x="258.35" y="383.35" width="15.78" height="0.9" fill="#fff" opacity="0.8"/><rect x="274.12" y="369.07" width="15.78" height="15.78" fill="url(#hatch)"/><rect x="274.12" y="383.35" width="15.78" height="0.9" fill="#fff" opacity="0.8"/><rect x="242.58" y="400.62" width="15.78" height="15.78" fill="url(#hatch)"/><rect x="242.58" y="414.9" width="15.78" height="0.9" fill="#fff" opacity="0.8"/><rect x="163.7" y="432.18" width="15.78" height="15.78" fill="url(#hatch)"/><rect x="163.7" y="446.45" width="15.78" height="0.9" fill="#fff" opacity="0.8"/><rect x="53.27" y="463.73" width="15.78" height="15.78" fill="url(#hatch)"/><rect x="53.27" y="478" width="15.78" height="0.9" fill="#fff" opacity="0.8"/><rect x="179.47" y="511.05" width="15.78" height="15.78" fill="url(#hatch)"/><rect x="179.47" y="525.33" width="15.78" height="0.9" fill="#fff" opacity="0.8"/><rect x="226.8" y="542.6" width="15.78" height="15.78" fill="url(#hatch)"/><rect x="226.8" y="556.88" width="15.78" height="0.9" fill="#fff" opacity="0.8"/><rect x="38.1" y="362.07" width="8.5" height="4.6" fill="#fff"/><text x="38.5" y="365.77" font-family="Liberation Sans" font-weight="bold" font-size="4" fill="#000" textLength="7.5" lengthAdjust="spacingAndGlyphs">NUL</text><rect x="53.88" y="362.07" width="8.5" height="4.6" fill="#fff"/><text x="54.27" y="365.77" font-family="Liberation Sans" font-weight="bold" font-size="4" fill="#000" textLength="7.5" lengthAdjust="spacingAndGlyphs">SOH</text><rect x="69.65" y="362.07" width="8.5" height="4.6" fill="#fff"/><text x="70.05" y="365.77" font-family="Liberation Sans" font-weight="bold" font-size="4" fill="#000" textLength="7.5" lengthAdjust="spacingAndGlyphs">STX</text><rect x="85.42" y="362.07" width="8.5" height="4.6" fill="#fff"/><text x="85.83" y="365.77" font-family="Liberation Sans" font-weight="bold" font-size="4" fill="#000" textLength="7.5" lengthAdjust="spacingAndGlyphs">ETX</text><rect x="101.2" y="362.07" width="8.5" height="4.6" fill="#fff"/><text x="101.6" y="365.77" font-family="Liberation Sans" font-weight="bold" font-size="4" fill="#000" textLength="7.5" lengthAdjust="spacingAndGlyphs">EOT</text><rect x="116.97" y="362.07" width="8.5" height="4.6" fill="#fff"/><text x="117.38" y="365.77" font-family="Liberation Sans" font-weight="bold" font-size="4" fill="#000" textLength="7.5" lengthAdjust="spacingAndGlyphs">ENQ</text><rect x="132.75" y="362.07" width="8.5" height="4.6" fill="#fff"/><text x="133.15" y="365.77" font-family="Liberation Sans" font-weight="bold" font-size="4" fill="#000" textLength="7.5" lengthAdjust="spacingAndGlyphs">ACK</text><rect x="148.53" y="362.07" width="8.5" height="4.6" fill="#fff"/><text x="148.93" y="365.77" font-family="Liberation Sans" font-weight="bold" font-size="4" fill="#000" textLength="7.5" lengthAdjust="spacingAndGlyphs">BEL</text><rect x="164.3" y="362.07" width="6.2" height="4.6" fill="#fff"/><text x="164.7" y="365.77" font-family="Liberation Sans" font-weight="bold" font-size="4" fill="#000" textLength="5.2" lengthAdjust="spacingAndGlyphs">BS</text><rect x="195.85" y="362.07" width="6.2" height="4.6" fill="#fff"/><text x="196.25" y="365.77" font-family="Liberation Sans" font-weight="bold" font-size="4" fill="#000" textLength="5.2" lengthAdjust="spacingAndGlyphs">LF</text><rect x="211.62" y="362.07" width="6.2" height="4.6" fill="#fff"/><text x="212.03" y="365.77" font-family="Liberation Sans" font-weight="bold" font-size="4" fill="#000" textLength="5.2" lengthAdjust="spacingAndGlyphs">VT</text><rect x="227.4" y="362.07" width="6.2" height="4.6" fill="#fff"/><text x="227.8" y="365.77" font-family="Liberation Sans" font-weight="bold" font-size="4" fill="#000" textLength="5.2" lengthAdjust="spacingAndGlyphs">FF</text><rect x="258.95" y="362.07" width="6.2" height="4.6" fill="#fff"/><text x="259.35" y="365.77" font-family="Liberation Sans" font-weight="bold" font-size="4" fill="#000" textLength="5.2" lengthAdjust="spacingAndGlyphs">SO</text><rect x="274.73" y="362.07" width="6.2" height="4.6" fill="#fff"/><text x="275.12" y="365.77" font-family="Liberation Sans" font-weight="bold" font-size="4" fill="#000" textLength="5.2" lengthAdjust="spacingAndGlyphs">SI</text><rect x="38.1" y="377.85" width="8.5" height="4.6" fill="#fff"/><text x="38.5" y="381.55" font-family="Liberation Sans" font-weight="bold" font-size="4" fill="#000" textLength="7.5" lengthAdjust="spacingAndGlyphs">DLE</text><rect x="53.88" y="377.85" width="8.5" height="4.6" fill="#fff"/><text x="54.27" y="381.55" font-family="Liberation Sans" font-weight="bold" font-size="4" fill="#000" textLength="7.5" lengthAdjust="spacingAndGlyphs">DC1</text><rect x="69.65" y="377.85" width="8.5" height="4.6" fill="#fff"/><text x="70.05" y="381.55" font-family="Liberation Sans" font-weight="bold" font-size="4" fill="#000" textLength="7.5" lengthAdjust="spacingAndGlyphs">DC2</text><rect x="85.42" y="377.85" width="8.5" height="4.6" fill="#fff"/><text x="85.83" y="381.55" font-family="Liberation Sans" font-weight="bold" font-size="4" fill="#000" textLength="7.5" lengthAdjust="spacingAndGlyphs">DC3</text><rect x="101.2" y="377.85" width="8.5" height="4.6" fill="#fff"/><text x="101.6" y="381.55" font-family="Liberation Sans" font-weight="bold" font-size="4" fill="#000" textLength="7.5" lengthAdjust="spacingAndGlyphs">DC4</text><rect x="116.97" y="377.85" width="8.5" height="4.6" fill="#fff"/><text x="117.38" y="381.55" font-family="Liberation Sans" font-weight="bold" font-size="4" fill="#000" textLength="7.5" lengthAdjust="spacingAndGlyphs">NAK</text><rect x="132.75" y="377.85" width="8.5" height="4.6" fill="#fff"/><text x="133.15" y="381.55" font-family="Liberation Sans" font-weight="bold" font-size="4" fill="#000" textLength="7.5" lengthAdjust="spacingAndGlyphs">SYN</text><rect x="148.53" y="377.85" width="8.5" height="4.6" fill="#fff"/><text x="148.93" y="381.55" font-family="Liberation Sans" font-weight="bold" font-size="4" fill="#000" textLength="7.5" lengthAdjust="spacingAndGlyphs">ETB</text><rect x="164.3" y="377.85" width="8.5" height="4.6" fill="#fff"/><text x="164.7" y="381.55" font-family="Liberation Sans" font-weight="bold" font-size="4" fill="#000" textLength="7.5" lengthAdjust="spacingAndGlyphs">CAN</text><rect x="180.07" y="377.85" width="6.2" height="4.6" fill="#fff"/><text x="180.47" y="381.55" font-family="Liberation Sans" font-weight="bold" font-size="4" fill="#000" textLength="5.2" lengthAdjust="spacingAndGlyphs">EM</text><rect x="195.85" y="377.85" width="8.5" height="4.6" fill="#fff"/><text x="196.25" y="381.55" font-family="Liberation Sans" font-weight="bold" font-size="4" fill="#000" textLength="7.5" lengthAdjust="spacingAndGlyphs">SUB</text><rect x="211.62" y="377.85" width="8.5" height="4.6" fill="#fff"/><text x="212.03" y="381.55" font-family="Liberation Sans" font-weight="bold" font-size="4" fill="#000" textLength="7.5" lengthAdjust="spacingAndGlyphs">ESC</text><rect x="227.4" y="377.85" width="6.2" height="4.6" fill="#fff"/><text x="227.8" y="381.55" font-family="Liberation Sans" font-weight="bold" font-size="4" fill="#000" textLength="5.2" lengthAdjust="spacingAndGlyphs">FS</text><rect x="243.18" y="377.85" width="6.2" height="4.6" fill="#fff"/><text x="243.58" y="381.55" font-family="Liberation Sans" font-weight="bold" font-size="4" fill="#000" textLength="5.2" lengthAdjust="spacingAndGlyphs">GS</text><rect x="258.95" y="377.85" width="6.2" height="4.6" fill="#fff"/><text x="259.35" y="381.55" font-family="Liberation Sans" font-weight="bold" font-size="4" fill="#000" textLength="5.2" lengthAdjust="spacingAndGlyphs">RS</text><rect x="274.73" y="377.85" width="6.2" height="4.6" fill="#fff"/><text x="275.12" y="381.55" font-family="Liberation Sans" font-weight="bold" font-size="4" fill="#000" textLength="5.2" lengthAdjust="spacingAndGlyphs">US</text><path d="M60.8 389.25 64.71 389.25 64.71 393.55M76.46 389.25 78.34 389.25 78.34 393.55M78.85 389.25 80.73 389.25 80.73 393.55M92.68 388.75 92.68 393.05 96.63 393.05M112.27 389.25 108.45 389.25 108.45 393.05 112.41 393.05M125.77 389.25 123.94 389.25 123.94 393.05 125.84 393.05M128.16 389.25 126.33 389.25 126.33 393.05 128.23 393.05M139.68 389.15 143.5 389.15 143.5 391.15 140 391.15 140 393.15 143.96 393.15M155.78 389.25H159.27V393.05H155.78ZM171.55 388.75 171.55 393.05 175.05 393.05 175.05 388.75M171.55 390.9 175.05 390.9M187.04 388.75 187.04 393.05 188.72 393.05 188.72 388.75M187.04 390.9 188.72 390.9M189.43 388.75 189.43 393.05 191.11 393.05 191.11 388.75M189.43 390.9 191.11 390.9M202.64 393.55 204.85 389.15 207.06 393.55M218.37 393.55 219.43 389.15 220.49 393.55M220.76 393.55 221.82 389.15 222.88 393.55M234.56 391.15a1.84 2 0 1 0 3.68 0a1.84 2 0 1 0 -3.68 0M249.97 389.25 254.38 389.25M250.11 393.55 252.18 390.15 254.25 393.55M265.69 389.25 267.81 389.25M265.76 393.55 266.75 390.15 267.75 393.55M268.09 389.25 270.21 389.25M268.15 393.55 269.15 390.15 270.14 393.55M283.73 388.4 283.73 389.25M281.52 390.05 285.93 390.05M281.66 393.55 283.73 390.9 285.8 393.55M45.03 405.03 48.85 405.03 48.85 409.32M45.26 407.03 48.85 407.03M64.94 405.03 61.13 405.03 61.13 408.82 65.08 408.82M61.13 406.93 64.71 406.93M76.44 405.03 80.86 405.03M77.82 405.03 77.82 408.82M79.48 405.03 79.48 408.82M76.44 408.82 80.86 408.82M94.42 404.32 94.42 405.03M92.36 405.62 96.5 405.62M93.05 407.73a1.38 1.5 0 1 0 2.76 0a1.38 1.5 0 1 0 -2.76 0M108.36 405.12 108.36 413.12M108.36 409.12 110.34 409.12M123.26 405.12 123.26 413.12M123.26 409.12 124.94 409.12M126.06 405.12 126.06 413.12M139.91 405.12 139.91 413.12M139.91 407.93 141.89 407.93M139.91 410.32 141.89 410.32M154.81 405.12 154.81 413.12M154.81 407.93 156.49 407.93M154.81 410.32 156.49 410.32M157.6 405.12 157.6 413.12M172.34 405.12 172.34 413.12M170.36 409.12 172.34 409.12M187.47 405.12 187.47 413.12M185.51 409.12 187.47 409.12M189.43 405.12 189.43 413.12M203.89 405.12 203.89 413.12M201.91 407.93 203.89 407.93M201.91 410.32 203.89 410.32M219.03 405.12 219.03 413.12M217.06 407.93 219.03 407.93M217.06 410.32 219.03 410.32M220.98 405.12 220.98 413.12M235 405.12 235 413.12M265.88 405.03 269.79 405.03 269.79 409.32M281.54 405.03 283.41 405.03 283.41 409.32M283.93 405.03 285.8 405.03 285.8 409.32M45.35 420.3 45.35 424.6 49.31 424.6M64.94 420.8 61.13 420.8 61.13 424.6 65.08 424.6M78.45 420.8 76.61 420.8 76.61 424.6 78.51 424.6M80.84 420.8 79.01 420.8 79.01 424.6 80.91 424.6M92.36 420.7 96.17 420.7 96.17 422.7 92.68 422.7 92.68 424.7 96.63 424.7M108.45 420.8H111.95V424.6H108.45ZM124.23 420.3 124.23 424.6 127.72 424.6 127.72 420.3M124.23 422.45 127.72 422.45M139.71 420.3 139.71 424.6 141.39 424.6 141.39 420.3M139.71 422.45 141.39 422.45M142.11 420.3 142.11 424.6 143.79 424.6 143.79 420.3M142.11 422.45 143.79 422.45M155.32 425.1 157.53 420.7 159.73 425.1M171.04 425.1 172.1 420.7 173.16 425.1M173.44 425.1 174.5 420.7 175.56 425.1M187.24 422.7a1.84 2 0 1 0 3.68 0a1.84 2 0 1 0 -3.68 0M202.64 420.8 207.06 420.8M202.78 425.1 204.85 421.7 206.92 425.1M218.37 420.8 220.49 420.8M218.44 425.1 219.43 421.7 220.42 425.1M220.76 420.8 222.88 420.8M220.83 425.1 221.82 421.7 222.81 425.1M236.4 419.95 236.4 420.8M234.19 421.6 238.61 421.6M234.33 425.1 236.4 422.45 238.47 425.1M250.11 420.8 253.92 420.8 253.92 425.1M250.34 422.8 253.92 422.8M270.02 420.8 266.2 420.8 266.2 424.6 270.16 424.6M266.2 422.7 269.79 422.7M281.52 420.8 285.93 420.8M282.9 420.8 282.9 424.6M284.55 420.8 284.55 424.6M281.52 424.6 285.93 424.6M47.1 435.88 47.1 436.58M45.03 437.18 49.17 437.18M45.72 439.28a1.38 1.5 0 1 0 2.76 0a1.38 1.5 0 1 0 -2.76 0M57.98 440.57 57.98 442.98M55.27 442.98 60.67 442.98M72.93 440.51 72.93 443.09M70.65 443.09 75.21 443.09M75.74 435.78 75.74 444.38M75.74 440.08 77.62 440.08M88.7 440.51 88.7 443.09M86.42 443.09 90.98 443.09M91.1 435.78 91.1 444.38M91.1 440.08 92.35 440.08M93.19 435.78 93.19 444.38M104.48 440.51 104.48 443.09M102.2 443.09 106.76 443.09M107.71 435.78 107.71 444.38M120 440.57 120 442.98M122.16 440.57 122.16 442.98M118.38 442.98 123.78 442.98M134.15 442.18 139.55 442.18M149.53 442.23 154.09 442.23M155.03 435.78 155.03 444.38M187 436.58 190.91 436.58 190.91 440.88M202.66 436.58 204.54 436.58 204.54 440.88M205.05 436.58 206.93 436.58 206.93 440.88M218.88 436.08 218.88 440.38 222.83 440.38M238.47 436.58 234.65 436.58 234.65 440.38 238.61 440.38M251.97 436.58 250.14 436.58 250.14 440.38 252.04 440.38M254.36 436.58 252.53 436.58 252.53 440.38 254.43 440.38M265.88 436.48 269.7 436.48 269.7 438.48 266.2 438.48 266.2 440.48 270.16 440.48M281.98 436.58H285.47V440.38H281.98ZM45.35 451.85 45.35 456.15 48.85 456.15 48.85 451.85M45.35 454 48.85 454M60.84 451.85 60.84 456.15 62.52 456.15 62.52 451.85M60.84 454 62.52 454M63.23 451.85 63.23 456.15 64.91 456.15 64.91 451.85M63.23 454 64.91 454M76.44 456.65 78.65 452.25 80.86 456.65M92.17 456.65 93.23 452.25 94.29 456.65M94.56 456.65 95.62 452.25 96.68 456.65M108.36 454.25a1.84 2 0 1 0 3.68 0a1.84 2 0 1 0 -3.68 0M123.77 452.35 128.18 452.35M123.91 456.65 125.97 453.25 128.04 456.65M139.49 452.35 141.61 452.35M139.56 456.65 140.55 453.25 141.55 456.65M141.89 452.35 144.01 452.35M141.95 456.65 142.95 453.25 143.94 456.65M157.53 451.5 157.53 452.35M155.32 453.15 159.73 453.15M155.46 456.65 157.53 454 159.6 456.65M171.23 452.35 175.05 452.35 175.05 456.65M171.46 454.35 175.05 454.35M191.15 452.35 187.33 452.35 187.33 456.15 191.28 456.15M187.33 454.25 190.91 454.25M202.64 452.35 207.06 452.35M204.02 452.35 204.02 456.15M205.68 452.35 205.68 456.15M202.64 456.15 207.06 456.15M220.63 451.65 220.63 452.35M218.56 452.95 222.7 452.95M219.25 455.05a1.38 1.5 0 1 0 2.76 0a1.38 1.5 0 1 0 -2.76 0M228.8 456.35 234.2 456.35M231.5 456.35 231.5 459.55M244.18 456.28 248.74 456.28M246.46 456.28 246.46 459.72M250.1 451.55 250.1 460.15M248.22 455.85 250.1 455.85M259.95 456.28 264.51 456.28M262.23 456.28 262.23 459.72M265.46 451.55 265.46 460.15M264 455.85 265.46 455.85M266.92 451.55 266.92 460.15M275.73 456.28 280.29 456.28M278 456.28 278 459.72M281.24 451.55 281.24 460.15M39.5 472.12 44.9 472.12M41.12 472.12 41.12 475.33M43.28 472.12 43.28 475.33M76.58 468.13 80.49 468.13 80.49 472.43M92.24 468.13 94.11 468.13 94.11 472.43M94.63 468.13 96.5 468.13 96.5 472.43M108.45 467.63 108.45 471.93 112.41 471.93M128.04 468.13 124.23 468.13 124.23 471.93 128.18 471.93M141.55 468.13 139.71 468.13 139.71 471.93 141.61 471.93M143.94 468.13 142.11 468.13 142.11 471.93 144.01 471.93M155.46 468.03 159.27 468.03 159.27 470.03 155.78 470.03 155.78 472.03 159.73 472.03M171.55 468.13H175.05V471.93H171.55ZM187.33 467.63 187.33 471.93 190.82 471.93 190.82 467.63M187.33 469.78 190.82 469.78M202.81 467.63 202.81 471.93 204.49 471.93 204.49 467.63M202.81 469.78 204.49 469.78M205.21 467.63 205.21 471.93 206.89 471.93 206.89 467.63M205.21 469.78 206.89 469.78M218.42 472.43 220.63 468.03 222.83 472.43M234.14 472.43 235.2 468.03 236.26 472.43M236.54 472.43 237.6 468.03 238.66 472.43M250.34 470.03a1.84 2 0 1 0 3.68 0a1.84 2 0 1 0 -3.68 0M265.74 468.13 270.16 468.13M265.88 472.43 267.95 469.03 270.02 472.43M281.47 468.13 283.59 468.13M281.54 472.43 282.53 469.03 283.52 472.43M283.86 468.13 285.98 468.13M283.93 472.43 284.92 469.03 285.91 472.43M47.1 483.05 47.1 483.9M44.89 484.7 49.31 484.7M45.03 488.2 47.1 485.55 49.17 488.2M60.8 483.9 64.62 483.9 64.62 488.2M61.03 485.9 64.62 485.9M80.72 483.9 76.9 483.9 76.9 487.7 80.86 487.7M76.9 485.8 80.49 485.8M92.22 483.9 96.63 483.9M93.6 483.9 93.6 487.7M95.25 483.9 95.25 487.7M92.22 487.7 96.63 487.7M110.2 483.2 110.2 483.9M108.13 484.5 112.27 484.5M108.82 486.6a1.38 1.5 0 1 0 2.76 0a1.38 1.5 0 1 0 -2.76 0M124.14 484 124.14 492M124.14 488 126.11 488M139.03 484 139.03 492M139.03 488 140.71 488M141.83 484 141.83 492M155.69 484 155.69 492M155.69 486.8 157.67 486.8M155.69 489.2 157.67 489.2M170.58 484 170.58 492M170.58 486.8 172.26 486.8M170.58 489.2 172.26 489.2M173.38 484 173.38 492M188.11 484 188.11 492M186.13 488 188.11 488M203.25 484 203.25 492M201.29 488 203.25 488M205.21 484 205.21 492M219.66 484 219.66 492M217.69 486.8 219.66 486.8M217.69 489.2 219.66 489.2M234.8 484 234.8 492M232.84 486.8 234.8 486.8M232.84 489.2 234.8 489.2M236.76 484 236.76 492M250.78 484 250.78 492M260.91 488.23 265.33 488.23 265.33 492.01M276.55 488.23 278.67 488.23 278.67 492.01M279.25 488.23 281.38 488.23 281.38 492.01M39.92 504 42.05 504 42.05 507.79M42.55 507.79 43.75 503.91 44.95 507.79M56.2 503.56 56.2 507.35 60.67 507.35M71.65 503.56 71.65 507.35 73.8 507.35M74.1 504 76.5 504M74.18 507.79 75.3 504.79 76.43 507.79M87.42 503.56 87.42 507.35 89.57 507.35M91.08 503.39 91.08 504M89.95 504.53 92.2 504.53M90.33 506.38a0.75 1.32 0 1 0 1.5 0a0.75 1.32 0 1 0 -1.5 0M107.84 504 103.52 504 103.52 507.35 108 507.35M118.94 503.91 123.25 503.91 123.25 505.67 119.3 505.67 119.3 507.43 123.77 507.43M134.57 503.91 136.65 503.91 136.65 505.67 134.75 505.67 134.75 507.43 136.9 507.43M137.28 504 139.4 504 139.4 507.79M150.35 503.91 152.42 503.91 152.42 505.67 150.52 505.67 150.52 507.43 152.67 507.43M153.23 504H155.13V507.35H153.23ZM166.12 503.91 168.2 503.91 168.2 505.67 166.3 505.67 166.3 507.43 168.45 507.43M169 503.56 169 507.35 170.9 507.35 170.9 503.56M169 505.45 170.9 505.45M181.9 503.91 183.97 503.91 183.97 505.67 182.07 505.67 182.07 507.43 184.22 507.43M184.53 507.79 185.73 503.91 186.93 507.79M197.67 503.91 199.75 503.91 199.75 505.67 197.85 505.67 197.85 507.43 200 507.43M202.63 504 200.55 504 200.55 507.35 202.7 507.35M200.55 505.67 202.5 505.67M213.45 503.91 215.52 503.91 215.52 505.67 213.62 505.67 213.62 507.43 215.77 507.43M216.08 504 218.48 504M216.83 504 216.83 507.35M217.73 504 217.73 507.35M216.08 507.35 218.48 507.35M229.22 503.91 231.3 503.91 231.3 505.67 229.4 505.67 229.4 507.43 231.55 507.43M233.05 503.39 233.05 504M231.93 504.53 234.18 504.53M232.3 506.38a0.75 1.32 0 1 0 1.5 0a0.75 1.32 0 1 0 -1.5 0M245.5 504H249.45V507.35H245.5ZM261.27 503.56 261.27 507.35 265.23 507.35 265.23 503.56M261.27 505.45 265.23 505.45M276.72 503.56 276.72 507.35 278.62 507.35 278.62 503.56M276.72 505.45 278.62 505.45M279.18 507.79 280.38 503.91 281.58 507.79M39.9 523.56 42.4 519.69 44.9 523.56M55.62 523.56 56.82 519.69 58.02 523.56M58.33 523.56 59.53 519.69 60.73 523.56M71.87 521.45a2.08 1.76 0 1 0 4.16 0a2.08 1.76 0 1 0 -4.16 0M87.23 519.78 92.22 519.78M87.39 523.56 89.72 520.57 92.06 523.56M105.5 519.03 105.5 519.78M103 520.48 108 520.48M103.16 523.56 105.5 521.23 107.84 523.56M118.94 519.78 123.25 519.78 123.25 523.56M119.19 521.54 123.25 521.54M139.39 519.78 135.07 519.78 135.07 523.12 139.55 523.12M135.07 521.45 139.13 521.45M150.33 519.78 155.32 519.78M151.89 519.78 151.89 523.12M153.76 519.78 153.76 523.12M150.33 523.12 155.32 523.12M168.6 519.16 168.6 519.78M166.26 520.31 170.94 520.31M167.04 522.15a1.56 1.32 0 1 0 3.12 0a1.56 1.32 0 1 0 -3.12 0M199.95 519.45 199.95 521.85M197.25 521.85 202.65 521.85M214.91 519.38 214.91 521.96M212.62 521.96 217.19 521.96M217.72 514.65 217.72 523.25M217.72 518.95 219.6 518.95M230.68 519.38 230.68 521.96M228.4 521.96 232.96 521.96M233.07 514.65 233.07 523.25M233.07 518.95 234.33 518.95M235.16 514.65 235.16 523.25M246.46 519.38 246.46 521.96M244.18 521.96 248.74 521.96M249.69 514.65 249.69 523.25M261.97 519.45 261.97 521.85M264.13 519.45 264.13 521.85M260.35 521.85 265.75 521.85M276.12 521.05 281.52 521.05M39.1 536.88 43.66 536.88M44.61 530.43 44.61 539.03M55.83 535.55 60.25 535.55 60.25 539.34M71.47 535.55 73.6 535.55 73.6 539.34M74.18 535.55 76.3 535.55 76.3 539.34M87.25 535.55 89.37 535.55 89.37 539.34M89.88 539.34 91.08 535.47 92.28 539.34M103.52 535.11 103.52 538.9 108 538.9M118.97 535.11 118.97 538.9 121.12 538.9M121.43 535.55 123.83 535.55M121.5 539.34 122.63 536.35 123.75 539.34M134.75 535.11 134.75 538.9 136.9 538.9M138.4 534.94 138.4 535.55M137.28 536.08 139.53 536.08M137.65 537.93a0.75 1.32 0 1 0 1.5 0a0.75 1.32 0 1 0 -1.5 0M155.17 535.55 150.85 535.55 150.85 538.9 155.32 538.9M166.26 535.47 170.58 535.47 170.58 537.23 166.62 537.23 166.62 538.99 171.1 538.99M181.9 535.47 183.97 535.47 183.97 537.23 182.07 537.23 182.07 538.99 184.22 538.99M184.6 535.55 186.73 535.55 186.73 539.34M197.67 535.47 199.75 535.47 199.75 537.23 197.85 537.23 197.85 538.99 200 538.99M200.55 535.55H202.45V538.9H200.55ZM213.45 535.47 215.52 535.47 215.52 537.23 213.62 537.23 213.62 538.99 215.77 538.99M216.33 535.11 216.33 538.9 218.23 538.9 218.23 535.11M216.33 537.01 218.23 537.01M229.22 535.47 231.3 535.47 231.3 537.23 229.4 537.23 229.4 538.99 231.55 538.99M231.85 539.34 233.05 535.47 234.25 539.34M245 535.47 247.07 535.47 247.07 537.23 245.17 537.23 245.17 538.99 247.32 538.99M249.95 535.55 247.88 535.55 247.88 538.9 250.03 538.9M247.88 537.23 249.83 537.23M260.77 535.47 262.85 535.47 262.85 537.23 260.95 537.23 260.95 538.99 263.1 538.99M263.4 535.55 265.8 535.55M264.15 535.55 264.15 538.9M265.05 535.55 265.05 538.9M263.4 538.9 265.8 538.9M276.55 535.47 278.62 535.47 278.62 537.23 276.72 537.23 276.72 538.99 278.87 538.99M280.38 534.94 280.38 535.55M279.25 536.08 281.5 536.08M279.63 537.93a0.75 1.32 0 1 0 1.5 0a0.75 1.32 0 1 0 -1.5 0M40.42 551.33H44.38V554.67H40.42ZM56.2 550.89 56.2 554.67 60.15 554.67 60.15 550.89M56.2 552.78 60.15 552.78M71.65 550.89 71.65 554.67 73.55 554.67 73.55 550.89M71.65 552.78 73.55 552.78M74.1 555.11 75.3 551.24 76.5 555.11M87.23 555.11 89.72 551.24 92.22 555.11M102.95 555.11 104.15 551.24 105.35 555.11M105.65 555.11 106.85 551.24 108.05 555.11M119.19 553a2.08 1.76 0 1 0 4.16 0a2.08 1.76 0 1 0 -4.16 0M134.55 551.33 139.55 551.33M134.71 555.11 137.05 552.12 139.39 555.11M152.83 550.58 152.83 551.33M150.33 552.03 155.32 552.03M150.49 555.11 152.83 552.78 155.17 555.11M166.26 551.33 170.58 551.33 170.58 555.11M166.52 553.09 170.58 553.09M186.72 551.33 182.4 551.33 182.4 554.67 186.87 554.67M182.4 553 186.46 553M197.65 551.33 202.65 551.33M199.21 551.33 199.21 554.67M201.09 551.33 201.09 554.67M197.65 554.67 202.65 554.67M215.93 550.71 215.93 551.33M213.59 551.86 218.27 551.86M214.37 553.7a1.56 1.32 0 1 0 3.12 0a1.56 1.32 0 1 0 -3.12 0M250.11 547 254.02 547 254.02 551.3M265.76 547 267.64 547 267.64 551.3M268.15 547 270.03 547 270.03 551.3M281.98 546.5 281.98 550.8 285.93 550.8M49.17 562.77 45.35 562.77 45.35 566.57 49.31 566.57M62.67 562.77 60.84 562.77 60.84 566.57 62.74 566.57M65.06 562.77 63.23 562.77 63.23 566.57 65.13 566.57M76.58 562.67 80.4 562.67 80.4 564.67 76.9 564.67 76.9 566.67 80.86 566.67M92.68 562.77H96.17V566.57H92.68ZM108.45 562.27 108.45 566.57 111.95 566.57 111.95 562.27M108.45 564.42 111.95 564.42M123.94 562.27 123.94 566.57 125.62 566.57 125.62 562.27M123.94 564.42 125.62 564.42M126.33 562.27 126.33 566.57 128.01 566.57 128.01 562.27M126.33 564.42 128.01 564.42M139.54 567.07 141.75 562.67 143.96 567.07M155.27 567.07 156.33 562.67 157.39 567.07M157.66 567.07 158.72 562.67 159.78 567.07M171.46 564.67a1.84 2 0 1 0 3.68 0a1.84 2 0 1 0 -3.68 0M186.87 562.77 191.28 562.77M187 567.07 189.08 563.67 191.15 567.07M202.59 562.77 204.71 562.77M202.66 567.07 203.65 563.67 204.65 567.07M204.99 562.77 207.11 562.77M205.05 567.07 206.05 563.67 207.04 567.07M220.63 561.92 220.63 562.77M218.42 563.57 222.83 563.57M218.56 567.07 220.63 564.42 222.7 567.07M234.33 562.77 238.15 562.77 238.15 567.07M234.56 564.77 238.15 564.77M254.25 562.77 250.43 562.77 250.43 566.57 254.38 566.57M250.43 564.67 254.02 564.67M265.74 562.77 270.16 562.77M267.12 562.77 267.12 566.57M268.78 562.77 268.78 566.57M265.74 566.57 270.16 566.57M283.73 562.07 283.73 562.77M281.66 563.38 285.8 563.38M282.35 565.47a1.38 1.5 0 1 0 2.76 0a1.38 1.5 0 1 0 -2.76 0M42.2 582.55 42.2 584.95M39.5 584.95 44.9 584.95M56.89 582.55 56.89 584.95M59.05 582.55 59.05 584.95M55.27 584.95 60.67 584.95M71.05 582.55 76.45 582.55M73.75 582.55 73.75 585.75M86.83 582.55 92.23 582.55M88.45 582.55 88.45 585.75M90.61 582.55 90.61 585.75M102.6 584.15 108 584.15M118.94 582.88 123.36 582.88 123.36 586.66M134.57 582.88 136.7 582.88 136.7 586.66M137.28 582.88 139.4 582.88 139.4 586.66M150.35 582.88 152.47 582.88 152.47 586.66M152.98 586.66 154.18 582.79 155.38 586.66M166.62 582.44 166.62 586.22 171.1 586.22M182.07 582.44 182.07 586.22 184.22 586.22M184.53 582.88 186.93 582.88M184.6 586.66 185.73 583.67 186.85 586.66M197.85 582.44 197.85 586.22 200 586.22M201.5 582.26 201.5 582.88M200.38 583.41 202.63 583.41M200.75 585.25a0.75 1.32 0 1 0 1.5 0a0.75 1.32 0 1 0 -1.5 0M218.27 582.88 213.95 582.88 213.95 586.22 218.42 586.22M229.36 582.79 233.68 582.79 233.68 584.55 229.72 584.55 229.72 586.31 234.2 586.31M245 582.79 247.07 582.79 247.07 584.55 245.17 584.55 245.17 586.31 247.32 586.31M247.7 582.88 249.83 582.88 249.83 586.66M260.77 582.79 262.85 582.79 262.85 584.55 260.95 584.55 260.95 586.31 263.1 586.31M263.65 582.88H265.55V586.22H263.65ZM276.55 582.79 278.62 582.79 278.62 584.55 276.72 584.55 276.72 586.31 278.87 586.31M279.43 582.44 279.43 586.22 281.33 586.22 281.33 582.44M279.43 584.33 281.33 584.33M39.92 598.57 42 598.57 42 600.33 40.1 600.33 40.1 602.09 42.25 602.09M42.55 602.44 43.75 598.57 44.95 602.44M55.7 598.57 57.77 598.57 57.77 600.33 55.87 600.33 55.87 602.09 58.02 602.09M60.65 598.65 58.58 598.65 58.58 602 60.73 602M58.58 600.33 60.53 600.33M71.47 598.57 73.55 598.57 73.55 600.33 71.65 600.33 71.65 602.09 73.8 602.09M74.1 598.65 76.5 598.65M74.85 598.65 74.85 602M75.75 598.65 75.75 602M74.1 602 76.5 602M87.25 598.57 89.32 598.57 89.32 600.33 87.42 600.33 87.42 602.09 89.57 602.09M91.08 598.04 91.08 598.65M89.95 599.18 92.2 599.18M90.33 601.03a0.75 1.32 0 1 0 1.5 0a0.75 1.32 0 1 0 -1.5 0M103.52 598.65H107.48V602H103.52ZM119.3 598.21 119.3 602 123.25 602 123.25 598.21M119.3 600.11 123.25 600.11M134.75 598.21 134.75 602 136.65 602 136.65 598.21M134.75 600.11 136.65 600.11M137.2 602.44 138.4 598.57 139.6 602.44M150.33 602.44 152.83 598.57 155.32 602.44M166.05 602.44 167.25 598.57 168.45 602.44M168.75 602.44 169.95 598.57 171.15 602.44M182.29 600.33a2.08 1.76 0 1 0 4.16 0a2.08 1.76 0 1 0 -4.16 0M197.65 598.65 202.65 598.65M197.81 602.44 200.15 599.45 202.49 602.44M215.93 597.9 215.93 598.65M213.43 599.36 218.42 599.36M213.59 602.44 215.93 600.11 218.27 602.44M229.36 598.65 233.68 598.65 233.68 602.44M229.62 600.41 233.68 600.41M249.82 598.65 245.5 598.65 245.5 602 249.97 602M245.5 600.33 249.56 600.33M260.75 598.65 265.75 598.65M262.31 598.65 262.31 602M264.19 598.65 264.19 602M260.75 602 265.75 602M279.03 598.04 279.03 598.65M276.69 599.18 281.37 599.18M277.47 601.03a1.56 1.32 0 1 0 3.12 0a1.56 1.32 0 1 0 -3.12 0" fill="none" stroke="#000" stroke-width="1.55" stroke-linecap="square"/><path d="M37.5 353.3V605.7M37.5 353.5H289.9M53.5 353.3V605.7M37.5 369.5H289.9M69.5 353.3V605.7M37.5 384.5H289.9M84.5 353.3V605.7M37.5 400.5H289.9M100.5 353.3V605.7M37.5 416.5H289.9M116.5 353.3V605.7M37.5 432.5H289.9M132.5 353.3V605.7M37.5 447.5H289.9M147.5 353.3V605.7M37.5 463.5H289.9M163.5 353.3V605.7M37.5 479.5H289.9M179.5 353.3V605.7M37.5 495.5H289.9M195.5 353.3V605.7M37.5 511.5H289.9M211.5 353.3V605.7M37.5 526.5H289.9M226.5 353.3V605.7M37.5 542.5H289.9M242.5 353.3V605.7M37.5 558.5H289.9M258.5 353.3V605.7M37.5 574.5H289.9M274.5 353.3V605.7M37.5 589.5H289.9M289.5 353.3V605.7M37.5 605.5H289.9" stroke="#111" stroke-width="1.1" fill="none"/><path d="M37.5 344.9V613.8M29.2 353.3H297.7" stroke="#111" stroke-width="1" fill="none"/><path d="M37.5 384.85L289.9 384.85L289.9 400.62L100.6 400.62L100.6 416.4L37.5 416.4L37.5 400.62L37.5 400.62Z" stroke="#e0321e" stroke-width="1.8" fill="none" stroke-linejoin="miter"/><path d="M100.6 400.62L242.58 400.62L242.58 416.4L100.6 416.4Z" stroke="#44b03a" stroke-width="1.8" fill="none" stroke-linejoin="miter"/><path d="M258.35 400.62L289.9 400.62L289.9 432.18L53.27 432.18L53.27 447.95L37.5 447.95L37.5 416.4L258.35 416.4Z" stroke="#e0321e" stroke-width="1.8" fill="none" stroke-linejoin="miter"/><path d="M53.27 432.18L163.7 432.18L163.7 447.95L53.27 447.95Z" stroke="#44b03a" stroke-width="1.8" fill="none" stroke-linejoin="miter"/><path d="M179.47 432.18L289.9 432.18L289.9 447.95L226.8 447.95L226.8 463.73L37.5 463.73L37.5 447.95L179.47 447.95Z" stroke="#e0321e" stroke-width="1.8" fill="none" stroke-linejoin="miter"/><path d="M226.8 447.95L289.9 447.95L289.9 463.73L226.8 463.73ZM37.5 463.73L53.27 463.73L53.27 479.5L37.5 479.5Z" stroke="#44b03a" stroke-width="1.8" fill="none" stroke-linejoin="miter"/><path d="M69.05 463.73L289.9 463.73L289.9 479.5L116.38 479.5L116.38 495.27L37.5 495.27L37.5 479.5L69.05 479.5Z" stroke="#e0321e" stroke-width="1.8" fill="none" stroke-linejoin="miter"/><path d="M116.38 479.5L258.35 479.5L258.35 495.27L116.38 495.27Z" stroke="#44b03a" stroke-width="1.8" fill="none" stroke-linejoin="miter"/><path d="M258.35 479.5L289.9 479.5L289.9 511.05L179.47 511.05L179.47 526.83L37.5 526.83L37.5 495.27L258.35 495.27Z" stroke="#1c3cd4" stroke-width="1.8" fill="none" stroke-linejoin="miter"/><path d="M195.25 511.05L289.9 511.05L289.9 526.83L195.25 526.83ZM37.5 526.83L53.27 526.83L53.27 542.6L37.5 542.6Z" stroke="#44b03a" stroke-width="1.8" fill="none" stroke-linejoin="miter"/><path d="M53.27 526.83L289.9 526.83L289.9 542.6L226.8 542.6L226.8 558.38L37.5 558.38L37.5 542.6L53.27 542.6Z" stroke="#1c3cd4" stroke-width="1.8" fill="none" stroke-linejoin="miter"/><path d="M242.58 542.6L289.9 542.6L289.9 558.38L289.9 558.38L289.9 574.15L37.5 574.15L37.5 558.38L242.58 558.38Z" stroke="#e0321e" stroke-width="1.8" fill="none" stroke-linejoin="miter"/><path d="M37.5 574.15L116.38 574.15L116.38 589.92L37.5 589.92Z" stroke="#44b03a" stroke-width="1.8" fill="none" stroke-linejoin="miter"/><path d="M116.38 574.15L289.9 574.15L289.9 589.92L289.9 589.92L289.9 605.7L37.5 605.7L37.5 589.92L116.38 589.92Z" stroke="#1c3cd4" stroke-width="1.8" fill="none" stroke-linejoin="miter"/><rect x="311" y="333.9" width="272.5" height="282.9" rx="3" fill="#e6e6e6" stroke="#b0b0b0" stroke-width="0.8"/><path d="M584.1 336.9V616.8H314" fill="none" stroke="#111" stroke-width="1.8"/><rect x="319.5" y="335.4" width="255.4" height="7.3" fill="#c8c8c8"/><line x1="319.5" y1="336.15" x2="574.9" y2="336.15" stroke="#9c9c9c" stroke-width="0.8"/><line x1="319.5" y1="337.65" x2="574.9" y2="337.65" stroke="#9c9c9c" stroke-width="0.8"/><line x1="319.5" y1="339.15" x2="574.9" y2="339.15" stroke="#9c9c9c" stroke-width="0.8"/><line x1="319.5" y1="340.65" x2="574.9" y2="340.65" stroke="#9c9c9c" stroke-width="0.8"/><line x1="315" y1="334.2" x2="579.5" y2="334.2" stroke="#555" stroke-width="1"/><rect x="409.15" y="335.4" width="76.7" height="7.3" fill="#dedede"/><text x="447.5" y="341.7" font-family="Liberation Sans" font-size="7.2" text-anchor="middle" fill="#000" stroke="#000" stroke-width="0.15" textLength="72.7" lengthAdjust="spacingAndGlyphs">MoonTwo Family:Extended</text><rect x="313.7" y="336.9" width="4.9" height="5" fill="#e8e8e8" stroke="#111" stroke-width="0.9"/><rect x="568.2" y="336.9" width="4.9" height="5" fill="#e8e8e8" stroke="#111" stroke-width="0.9"/><rect x="576" y="336.9" width="4.9" height="5" fill="#e8e8e8" stroke="#111" stroke-width="0.9"/><path d="M568.7 340.5h3v-3M576.6 338.7h3.4M576.6 340.3h3.4" fill="none" stroke="#111" stroke-width="0.7"/><rect x="313" y="344.9" width="268.5" height="268.9" fill="#fff" stroke="#111" stroke-width="1"/><rect x="573.7" y="353.3" width="7.8" height="252.4" fill="#e4e4e4"/><rect x="321.3" y="605.7" width="252.4" height="8.1" fill="#e4e4e4"/><path d="M573.7 361.3h7.8M573.7 597.7h7.8M329.3 605.7v8M565.7 605.7v8" stroke="#777" stroke-width="0.7" fill="none"/><rect x="573.9" y="353.6" width="7.8" height="7.6" fill="#fafafa"/><path d="M575.6 358.3l2 -2l2 2z" fill="#222"/><rect x="573.9" y="597.9" width="7.8" height="7.6" fill="#fafafa"/><path d="M575.6 600.7l2 2l2 -2z" fill="#222"/><path d="M326.3 607.7l-2 2l2 2z" fill="#222"/><path d="M568.7 607.7l2 2l-2 2z" fill="#222"/><text x="329.19" y="351.4" font-family="Liberation Sans" font-size="6.1" text-anchor="middle" fill="#000" stroke="#000" stroke-width="0.2">0</text><text x="317.2" y="363.49" font-family="Liberation Sans" font-size="6.4" text-anchor="middle" fill="#000" stroke="#000" stroke-width="0.2">0</text><text x="344.96" y="351.4" font-family="Liberation Sans" font-size="6.1" text-anchor="middle" fill="#000" stroke="#000" stroke-width="0.2">1</text><text x="317.2" y="379.26" font-family="Liberation Sans" font-size="6.4" text-anchor="middle" fill="#000" stroke="#000" stroke-width="0.2">1</text><text x="360.74" y="351.4" font-family="Liberation Sans" font-size="6.1" text-anchor="middle" fill="#000" stroke="#000" stroke-width="0.2">2</text><text x="317.2" y="395.04" font-family="Liberation Sans" font-size="6.4" text-anchor="middle" fill="#000" stroke="#000" stroke-width="0.2">2</text><text x="376.51" y="351.4" font-family="Liberation Sans" font-size="6.1" text-anchor="middle" fill="#000" stroke="#000" stroke-width="0.2">3</text><text x="317.2" y="410.81" font-family="Liberation Sans" font-size="6.4" text-anchor="middle" fill="#000" stroke="#000" stroke-width="0.2">3</text><text x="392.29" y="351.4" font-family="Liberation Sans" font-size="6.1" text-anchor="middle" fill="#000" stroke="#000" stroke-width="0.2">4</text><text x="317.2" y="426.59" font-family="Liberation Sans" font-size="6.4" text-anchor="middle" fill="#000" stroke="#000" stroke-width="0.2">4</text><text x="408.06" y="351.4" font-family="Liberation Sans" font-size="6.1" text-anchor="middle" fill="#000" stroke="#000" stroke-width="0.2">5</text><text x="317.2" y="442.36" font-family="Liberation Sans" font-size="6.4" text-anchor="middle" fill="#000" stroke="#000" stroke-width="0.2">5</text><text x="423.84" y="351.4" font-family="Liberation Sans" font-size="6.1" text-anchor="middle" fill="#000" stroke="#000" stroke-width="0.2">6</text><text x="317.2" y="458.14" font-family="Liberation Sans" font-size="6.4" text-anchor="middle" fill="#000" stroke="#000" stroke-width="0.2">6</text><text x="439.61" y="351.4" font-family="Liberation Sans" font-size="6.1" text-anchor="middle" fill="#000" stroke="#000" stroke-width="0.2">7</text><text x="317.2" y="473.91" font-family="Liberation Sans" font-size="6.4" text-anchor="middle" fill="#000" stroke="#000" stroke-width="0.2">7</text><text x="455.39" y="351.4" font-family="Liberation Sans" font-size="6.1" text-anchor="middle" fill="#000" stroke="#000" stroke-width="0.2">8</text><text x="317.2" y="489.69" font-family="Liberation Sans" font-size="6.4" text-anchor="middle" fill="#000" stroke="#000" stroke-width="0.2">8</text><text x="471.16" y="351.4" font-family="Liberation Sans" font-size="6.1" text-anchor="middle" fill="#000" stroke="#000" stroke-width="0.2">9</text><text x="317.2" y="505.46" font-family="Liberation Sans" font-size="6.4" text-anchor="middle" fill="#000" stroke="#000" stroke-width="0.2">9</text><text x="486.94" y="351.4" font-family="Liberation Sans" font-size="6.1" text-anchor="middle" fill="#000" stroke="#000" stroke-width="0.2">A</text><text x="317.2" y="521.24" font-family="Liberation Sans" font-size="6.4" text-anchor="middle" fill="#000" stroke="#000" stroke-width="0.2">A</text><text x="502.71" y="351.4" font-family="Liberation Sans" font-size="6.1" text-anchor="middle" fill="#000" stroke="#000" stroke-width="0.2">B</text><text x="317.2" y="537.01" font-family="Liberation Sans" font-size="6.4" text-anchor="middle" fill="#000" stroke="#000" stroke-width="0.2">B</text><text x="518.49" y="351.4" font-family="Liberation Sans" font-size="6.1" text-anchor="middle" fill="#000" stroke="#000" stroke-width="0.2">C</text><text x="317.2" y="552.79" font-family="Liberation Sans" font-size="6.4" text-anchor="middle" fill="#000" stroke="#000" stroke-width="0.2">C</text><text x="534.26" y="351.4" font-family="Liberation Sans" font-size="6.1" text-anchor="middle" fill="#000" stroke="#000" stroke-width="0.2">D</text><text x="317.2" y="568.56" font-family="Liberation Sans" font-size="6.4" text-anchor="middle" fill="#000" stroke="#000" stroke-width="0.2">D</text><text x="550.04" y="351.4" font-family="Liberation Sans" font-size="6.1" text-anchor="middle" fill="#000" stroke="#000" stroke-width="0.2">E</text><text x="317.2" y="584.34" font-family="Liberation Sans" font-size="6.4" text-anchor="middle" fill="#000" stroke="#000" stroke-width="0.2">E</text><text x="565.81" y="351.4" font-family="Liberation Sans" font-size="6.1" text-anchor="middle" fill="#000" stroke="#000" stroke-width="0.2">F</text><text x="317.2" y="600.11" font-family="Liberation Sans" font-size="6.4" text-anchor="middle" fill="#000" stroke="#000" stroke-width="0.2">F</text><rect x="321.3" y="384.85" width="15.83" height="15.83" fill="#fbe4e0"/><rect x="337.07" y="384.85" width="15.83" height="15.83" fill="#fbe4e0"/><rect x="352.85" y="384.85" width="15.83" height="15.83" fill="#fbe4e0"/><rect x="368.62" y="384.85" width="15.83" height="15.83" fill="#fbe4e0"/><rect x="384.4" y="384.85" width="15.83" height="15.83" fill="#fbe4e0"/><rect x="400.18" y="384.85" width="15.83" height="15.83" fill="#fbe4e0"/><rect x="415.95" y="384.85" width="15.83" height="15.83" fill="#fbe4e0"/><rect x="431.73" y="384.85" width="15.83" height="15.83" fill="#fbe4e0"/><rect x="447.5" y="384.85" width="15.83" height="15.83" fill="#fbe4e0"/><rect x="463.27" y="384.85" width="15.83" height="15.83" fill="#fbe4e0"/><rect x="479.05" y="384.85" width="15.83" height="15.83" fill="#fbe4e0"/><rect x="494.83" y="384.85" width="15.83" height="15.83" fill="#fbe4e0"/><rect x="510.6" y="384.85" width="15.83" height="15.83" fill="#fbe4e0"/><rect x="526.38" y="384.85" width="15.83" height="15.83" fill="#fbe4e0"/><rect x="542.15" y="384.85" width="15.83" height="15.83" fill="#fbe4e0"/><rect x="557.92" y="384.85" width="15.83" height="15.83" fill="#fbe4e0"/><rect x="321.3" y="400.62" width="15.83" height="15.83" fill="#fbe4e0"/><rect x="337.07" y="400.62" width="15.83" height="15.83" fill="#fbe4e0"/><rect x="352.85" y="400.62" width="15.83" height="15.83" fill="#fbe4e0"/><rect x="368.62" y="400.62" width="15.83" height="15.83" fill="#fbe4e0"/><rect x="384.4" y="400.62" width="15.83" height="15.83" fill="#dcf6d3"/><rect x="400.18" y="400.62" width="15.83" height="15.83" fill="#dcf6d3"/><rect x="415.95" y="400.62" width="15.83" height="15.83" fill="#dcf6d3"/><rect x="431.73" y="400.62" width="15.83" height="15.83" fill="#dcf6d3"/><rect x="447.5" y="400.62" width="15.83" height="15.83" fill="#dcf6d3"/><rect x="463.27" y="400.62" width="15.83" height="15.83" fill="#dcf6d3"/><rect x="479.05" y="400.62" width="15.83" height="15.83" fill="#dcf6d3"/><rect x="494.83" y="400.62" width="15.83" height="15.83" fill="#dcf6d3"/><rect x="510.6" y="400.62" width="15.83" height="15.83" fill="#dcf6d3"/><rect x="542.15" y="400.62" width="15.83" height="15.83" fill="#f6cac2"/><rect x="557.92" y="400.62" width="15.83" height="15.83" fill="#f6cac2"/><rect x="321.3" y="416.4" width="15.83" height="15.83" fill="#f6cac2"/><rect x="337.07" y="416.4" width="15.83" height="15.83" fill="#f6cac2"/><rect x="352.85" y="416.4" width="15.83" height="15.83" fill="#f6cac2"/><rect x="368.62" y="416.4" width="15.83" height="15.83" fill="#f6cac2"/><rect x="384.4" y="416.4" width="15.83" height="15.83" fill="#f6cac2"/><rect x="400.18" y="416.4" width="15.83" height="15.83" fill="#f6cac2"/><rect x="415.95" y="416.4" width="15.83" height="15.83" fill="#f6cac2"/><rect x="431.73" y="416.4" width="15.83" height="15.83" fill="#f6cac2"/><rect x="447.5" y="416.4" width="15.83" height="15.83" fill="#f6cac2"/><rect x="463.27" y="416.4" width="15.83" height="15.83" fill="#f6cac2"/><rect x="479.05" y="416.4" width="15.83" height="15.83" fill="#f6cac2"/><rect x="494.83" y="416.4" width="15.83" height="15.83" fill="#f6cac2"/><rect x="510.6" y="416.4" width="15.83" height="15.83" fill="#f6cac2"/><rect x="526.38" y="416.4" width="15.83" height="15.83" fill="#f6cac2"/><rect x="542.15" y="416.4" width="15.83" height="15.83" fill="#f6cac2"/><rect x="557.92" y="416.4" width="15.83" height="15.83" fill="#f6cac2"/><rect x="321.3" y="432.18" width="15.83" height="15.83" fill="#f6cac2"/><rect x="337.07" y="432.18" width="15.83" height="15.83" fill="#c8f1bc"/><rect x="352.85" y="432.18" width="15.83" height="15.83" fill="#c8f1bc"/><rect x="368.62" y="432.18" width="15.83" height="15.83" fill="#c8f1bc"/><rect x="384.4" y="432.18" width="15.83" height="15.83" fill="#c8f1bc"/><rect x="400.18" y="432.18" width="15.83" height="15.83" fill="#c8f1bc"/><rect x="415.95" y="432.18" width="15.83" height="15.83" fill="#c8f1bc"/><rect x="431.73" y="432.18" width="15.83" height="15.83" fill="#c8f1bc"/><rect x="463.27" y="432.18" width="15.83" height="15.83" fill="#f1aea2"/><rect x="479.05" y="432.18" width="15.83" height="15.83" fill="#f1aea2"/><rect x="494.83" y="432.18" width="15.83" height="15.83" fill="#f1aea2"/><rect x="510.6" y="432.18" width="15.83" height="15.83" fill="#f1aea2"/><rect x="526.38" y="432.18" width="15.83" height="15.83" fill="#f1aea2"/><rect x="542.15" y="432.18" width="15.83" height="15.83" fill="#f1aea2"/><rect x="557.92" y="432.18" width="15.83" height="15.83" fill="#f1aea2"/><rect x="321.3" y="447.95" width="15.83" height="15.83" fill="#f1aea2"/><rect x="337.07" y="447.95" width="15.83" height="15.83" fill="#f1aea2"/><rect x="352.85" y="447.95" width="15.83" height="15.83" fill="#f1aea2"/><rect x="368.62" y="447.95" width="15.83" height="15.83" fill="#f1aea2"/><rect x="384.4" y="447.95" width="15.83" height="15.83" fill="#f1aea2"/><rect x="400.18" y="447.95" width="15.83" height="15.83" fill="#f1aea2"/><rect x="415.95" y="447.95" width="15.83" height="15.83" fill="#f1aea2"/><rect x="431.73" y="447.95" width="15.83" height="15.83" fill="#f1aea2"/><rect x="447.5" y="447.95" width="15.83" height="15.83" fill="#f1aea2"/><rect x="463.27" y="447.95" width="15.83" height="15.83" fill="#f1aea2"/><rect x="479.05" y="447.95" width="15.83" height="15.83" fill="#f1aea2"/><rect x="494.83" y="447.95" width="15.83" height="15.83" fill="#f1aea2"/><rect x="510.6" y="447.95" width="15.83" height="15.83" fill="#b4eba6"/><rect x="526.38" y="447.95" width="15.83" height="15.83" fill="#b4eba6"/><rect x="542.15" y="447.95" width="15.83" height="15.83" fill="#b4eba6"/><rect x="557.92" y="447.95" width="15.83" height="15.83" fill="#b4eba6"/><rect x="321.3" y="463.73" width="15.83" height="15.83" fill="#b4eba6"/><rect x="352.85" y="463.73" width="15.83" height="15.83" fill="#ea8f7d"/><rect x="368.62" y="463.73" width="15.83" height="15.83" fill="#ea8f7d"/><rect x="384.4" y="463.73" width="15.83" height="15.83" fill="#ea8f7d"/><rect x="400.18" y="463.73" width="15.83" height="15.83" fill="#ea8f7d"/><rect x="415.95" y="463.73" width="15.83" height="15.83" fill="#ea8f7d"/><rect x="431.73" y="463.73" width="15.83" height="15.83" fill="#ea8f7d"/><rect x="447.5" y="463.73" width="15.83" height="15.83" fill="#ea8f7d"/><rect x="463.27" y="463.73" width="15.83" height="15.83" fill="#ea8f7d"/><rect x="479.05" y="463.73" width="15.83" height="15.83" fill="#ea8f7d"/><rect x="494.83" y="463.73" width="15.83" height="15.83" fill="#ea8f7d"/><rect x="510.6" y="463.73" width="15.83" height="15.83" fill="#ea8f7d"/><rect x="526.38" y="463.73" width="15.83" height="15.83" fill="#ea8f7d"/><rect x="542.15" y="463.73" width="15.83" height="15.83" fill="#ea8f7d"/><rect x="557.92" y="463.73" width="15.83" height="15.83" fill="#ea8f7d"/><rect x="321.3" y="479.5" width="15.83" height="15.83" fill="#ea8f7d"/><rect x="337.07" y="479.5" width="15.83" height="15.83" fill="#ea8f7d"/><rect x="352.85" y="479.5" width="15.83" height="15.83" fill="#ea8f7d"/><rect x="368.62" y="479.5" width="15.83" height="15.83" fill="#ea8f7d"/><rect x="384.4" y="479.5" width="15.83" height="15.83" fill="#ea8f7d"/><rect x="400.18" y="479.5" width="15.83" height="15.83" fill="#9fe38f"/><rect x="415.95" y="479.5" width="15.83" height="15.83" fill="#9fe38f"/><rect x="431.73" y="479.5" width="15.83" height="15.83" fill="#9fe38f"/><rect x="447.5" y="479.5" width="15.83" height="15.83" fill="#9fe38f"/><rect x="463.27" y="479.5" width="15.83" height="15.83" fill="#9fe38f"/><rect x="479.05" y="479.5" width="15.83" height="15.83" fill="#9fe38f"/><rect x="494.83" y="479.5" width="15.83" height="15.83" fill="#9fe38f"/><rect x="510.6" y="479.5" width="15.83" height="15.83" fill="#9fe38f"/><rect x="526.38" y="479.5" width="15.83" height="15.83" fill="#9fe38f"/><rect x="542.15" y="479.5" width="15.83" height="15.83" fill="#d2daf8"/><rect x="557.92" y="479.5" width="15.83" height="15.83" fill="#d2daf8"/><rect x="321.3" y="495.27" width="15.83" height="15.83" fill="#d2daf8"/><rect x="337.07" y="495.27" width="15.83" height="15.83" fill="#d2daf8"/><rect x="352.85" y="495.27" width="15.83" height="15.83" fill="#d2daf8"/><rect x="368.62" y="495.27" width="15.83" height="15.83" fill="#d2daf8"/><rect x="384.4" y="495.27" width="15.83" height="15.83" fill="#d2daf8"/><rect x="400.18" y="495.27" width="15.83" height="15.83" fill="#d2daf8"/><rect x="415.95" y="495.27" width="15.83" height="15.83" fill="#d2daf8"/><rect x="431.73" y="495.27" width="15.83" height="15.83" fill="#d2daf8"/><rect x="447.5" y="495.27" width="15.83" height="15.83" fill="#d2daf8"/><rect x="463.27" y="495.27" width="15.83" height="15.83" fill="#d2daf8"/><rect x="479.05" y="495.27" width="15.83" height="15.83" fill="#d2daf8"/><rect x="494.83" y="495.27" width="15.83" height="15.83" fill="#d2daf8"/><rect x="510.6" y="495.27" width="15.83" height="15.83" fill="#d2daf8"/><rect x="526.38" y="495.27" width="15.83" height="15.83" fill="#d2daf8"/><rect x="542.15" y="495.27" width="15.83" height="15.83" fill="#d2daf8"/><rect x="557.92" y="495.27" width="15.83" height="15.83" fill="#d2daf8"/><rect x="321.3" y="511.05" width="15.83" height="15.83" fill="#d2daf8"/><rect x="337.07" y="511.05" width="15.83" height="15.83" fill="#d2daf8"/><rect x="352.85" y="511.05" width="15.83" height="15.83" fill="#d2daf8"/><rect x="368.62" y="511.05" width="15.83" height="15.83" fill="#d2daf8"/><rect x="384.4" y="511.05" width="15.83" height="15.83" fill="#d2daf8"/><rect x="400.18" y="511.05" width="15.83" height="15.83" fill="#d2daf8"/><rect x="415.95" y="511.05" width="15.83" height="15.83" fill="#d2daf8"/><rect x="431.73" y="511.05" width="15.83" height="15.83" fill="#d2daf8"/><rect x="447.5" y="511.05" width="15.83" height="15.83" fill="#d2daf8"/><rect x="479.05" y="511.05" width="15.83" height="15.83" fill="#93df82"/><rect x="494.83" y="511.05" width="15.83" height="15.83" fill="#93df82"/><rect x="510.6" y="511.05" width="15.83" height="15.83" fill="#93df82"/><rect x="526.38" y="511.05" width="15.83" height="15.83" fill="#93df82"/><rect x="542.15" y="511.05" width="15.83" height="15.83" fill="#93df82"/><rect x="557.92" y="511.05" width="15.83" height="15.83" fill="#93df82"/><rect x="321.3" y="526.83" width="15.83" height="15.83" fill="#93df82"/><rect x="337.07" y="526.83" width="15.83" height="15.83" fill="#b3c2f4"/><rect x="352.85" y="526.83" width="15.83" height="15.83" fill="#b3c2f4"/><rect x="368.62" y="526.83" width="15.83" height="15.83" fill="#b3c2f4"/><rect x="384.4" y="526.83" width="15.83" height="15.83" fill="#b3c2f4"/><rect x="400.18" y="526.83" width="15.83" height="15.83" fill="#b3c2f4"/><rect x="415.95" y="526.83" width="15.83" height="15.83" fill="#b3c2f4"/><rect x="431.73" y="526.83" width="15.83" height="15.83" fill="#b3c2f4"/><rect x="447.5" y="526.83" width="15.83" height="15.83" fill="#b3c2f4"/><rect x="463.27" y="526.83" width="15.83" height="15.83" fill="#b3c2f4"/><rect x="479.05" y="526.83" width="15.83" height="15.83" fill="#b3c2f4"/><rect x="494.83" y="526.83" width="15.83" height="15.83" fill="#b3c2f4"/><rect x="510.6" y="526.83" width="15.83" height="15.83" fill="#b3c2f4"/><rect x="526.38" y="526.83" width="15.83" height="15.83" fill="#b3c2f4"/><rect x="542.15" y="526.83" width="15.83" height="15.83" fill="#b3c2f4"/><rect x="557.92" y="526.83" width="15.83" height="15.83" fill="#b3c2f4"/><rect x="321.3" y="542.6" width="15.83" height="15.83" fill="#b3c2f4"/><rect x="337.07" y="542.6" width="15.83" height="15.83" fill="#b3c2f4"/><rect x="352.85" y="542.6" width="15.83" height="15.83" fill="#b3c2f4"/><rect x="368.62" y="542.6" width="15.83" height="15.83" fill="#b3c2f4"/><rect x="384.4" y="542.6" width="15.83" height="15.83" fill="#b3c2f4"/><rect x="400.18" y="542.6" width="15.83" height="15.83" fill="#b3c2f4"/><rect x="415.95" y="542.6" width="15.83" height="15.83" fill="#b3c2f4"/><rect x="431.73" y="542.6" width="15.83" height="15.83" fill="#b3c2f4"/><rect x="447.5" y="542.6" width="15.83" height="15.83" fill="#b3c2f4"/><rect x="463.27" y="542.6" width="15.83" height="15.83" fill="#b3c2f4"/><rect x="479.05" y="542.6" width="15.83" height="15.83" fill="#b3c2f4"/><rect x="494.83" y="542.6" width="15.83" height="15.83" fill="#b3c2f4"/><rect x="526.38" y="542.6" width="15.83" height="15.83" fill="#e8826e"/><rect x="542.15" y="542.6" width="15.83" height="15.83" fill="#e8826e"/><rect x="557.92" y="542.6" width="15.83" height="15.83" fill="#e8826e"/><rect x="321.3" y="558.38" width="15.83" height="15.83" fill="#e8826e"/><rect x="337.07" y="558.38" width="15.83" height="15.83" fill="#e8826e"/><rect x="352.85" y="558.38" width="15.83" height="15.83" fill="#e8826e"/><rect x="368.62" y="558.38" width="15.83" height="15.83" fill="#e8826e"/><rect x="384.4" y="558.38" width="15.83" height="15.83" fill="#e8826e"/><rect x="400.18" y="558.38" width="15.83" height="15.83" fill="#e8826e"/><rect x="415.95" y="558.38" width="15.83" height="15.83" fill="#e8826e"/><rect x="431.73" y="558.38" width="15.83" height="15.83" fill="#e8826e"/><rect x="447.5" y="558.38" width="15.83" height="15.83" fill="#e8826e"/><rect x="463.27" y="558.38" width="15.83" height="15.83" fill="#e8826e"/><rect x="479.05" y="558.38" width="15.83" height="15.83" fill="#e8826e"/><rect x="494.83" y="558.38" width="15.83" height="15.83" fill="#e8826e"/><rect x="510.6" y="558.38" width="15.83" height="15.83" fill="#e8826e"/><rect x="526.38" y="558.38" width="15.83" height="15.83" fill="#e8826e"/><rect x="542.15" y="558.38" width="15.83" height="15.83" fill="#e8826e"/><rect x="557.92" y="558.38" width="15.83" height="15.83" fill="#e8826e"/><rect x="321.3" y="574.15" width="15.83" height="15.83" fill="#88da76"/><rect x="337.07" y="574.15" width="15.83" height="15.83" fill="#88da76"/><rect x="352.85" y="574.15" width="15.83" height="15.83" fill="#88da76"/><rect x="368.62" y="574.15" width="15.83" height="15.83" fill="#88da76"/><rect x="384.4" y="574.15" width="15.83" height="15.83" fill="#88da76"/><rect x="400.18" y="574.15" width="15.83" height="15.83" fill="#93a9ef"/><rect x="415.95" y="574.15" width="15.83" height="15.83" fill="#93a9ef"/><rect x="431.73" y="574.15" width="15.83" height="15.83" fill="#93a9ef"/><rect x="447.5" y="574.15" width="15.83" height="15.83" fill="#93a9ef"/><rect x="463.27" y="574.15" width="15.83" height="15.83" fill="#93a9ef"/><rect x="479.05" y="574.15" width="15.83" height="15.83" fill="#93a9ef"/><rect x="494.83" y="574.15" width="15.83" height="15.83" fill="#93a9ef"/><rect x="510.6" y="574.15" width="15.83" height="15.83" fill="#93a9ef"/><rect x="526.38" y="574.15" width="15.83" height="15.83" fill="#93a9ef"/><rect x="542.15" y="574.15" width="15.83" height="15.83" fill="#93a9ef"/><rect x="557.92" y="574.15" width="15.83" height="15.83" fill="#93a9ef"/><rect x="321.3" y="589.92" width="15.83" height="15.83" fill="#93a9ef"/><rect x="337.07" y="589.92" width="15.83" height="15.83" fill="#93a9ef"/><rect x="352.85" y="589.92" width="15.83" height="15.83" fill="#93a9ef"/><rect x="368.62" y="589.92" width="15.83" height="15.83" fill="#93a9ef"/><rect x="384.4" y="589.92" width="15.83" height="15.83" fill="#93a9ef"/><rect x="400.18" y="589.92" width="15.83" height="15.83" fill="#93a9ef"/><rect x="415.95" y="589.92" width="15.83" height="15.83" fill="#93a9ef"/><rect x="431.73" y="589.92" width="15.83" height="15.83" fill="#93a9ef"/><rect x="447.5" y="589.92" width="15.83" height="15.83" fill="#93a9ef"/><rect x="463.27" y="589.92" width="15.83" height="15.83" fill="#93a9ef"/><rect x="479.05" y="589.92" width="15.83" height="15.83" fill="#93a9ef"/><rect x="494.83" y="589.92" width="15.83" height="15.83" fill="#93a9ef"/><rect x="510.6" y="589.92" width="15.83" height="15.83" fill="#93a9ef"/><rect x="526.38" y="589.92" width="15.83" height="15.83" fill="#93a9ef"/><rect x="542.15" y="589.92" width="15.83" height="15.83" fill="#93a9ef"/><rect x="557.92" y="589.92" width="15.83" height="15.83" fill="#93a9ef"/><rect x="321.3" y="353.3" width="15.78" height="15.78" fill="url(#hatch)"/><rect x="321.3" y="367.57" width="15.78" height="0.9" fill="#fff" opacity="0.8"/><rect x="337.07" y="353.3" width="15.78" height="15.78" fill="url(#hatch)"/><rect x="337.07" y="367.57" width="15.78" height="0.9" fill="#fff" opacity="0.8"/><rect x="352.85" y="353.3" width="15.78" height="15.78" fill="url(#hatch)"/><rect x="352.85" y="367.57" width="15.78" height="0.9" fill="#fff" opacity="0.8"/><rect x="368.62" y="353.3" width="15.78" height="15.78" fill="url(#hatch)"/><rect x="368.62" y="367.57" width="15.78" height="0.9" fill="#fff" opacity="0.8"/><rect x="384.4" y="353.3" width="15.78" height="15.78" fill="url(#hatch)"/><rect x="384.4" y="367.57" width="15.78" height="0.9" fill="#fff" opacity="0.8"/><rect x="400.18" y="353.3" width="15.78" height="15.78" fill="url(#hatch)"/><rect x="400.18" y="367.57" width="15.78" height="0.9" fill="#fff" opacity="0.8"/><rect x="415.95" y="353.3" width="15.78" height="15.78" fill="url(#hatch)"/><rect x="415.95" y="367.57" width="15.78" height="0.9" fill="#fff" opacity="0.8"/><rect x="431.73" y="353.3" width="15.78" height="15.78" fill="url(#hatch)"/><rect x="431.73" y="367.57" width="15.78" height="0.9" fill="#fff" opacity="0.8"/><rect x="447.5" y="353.3" width="15.78" height="15.78" fill="url(#hatch)"/><rect x="447.5" y="367.57" width="15.78" height="0.9" fill="#fff" opacity="0.8"/><rect x="479.05" y="353.3" width="15.78" height="15.78" fill="url(#hatch)"/><rect x="479.05" y="367.57" width="15.78" height="0.9" fill="#fff" opacity="0.8"/><rect x="494.83" y="353.3" width="15.78" height="15.78" fill="url(#hatch)"/><rect x="494.83" y="367.57" width="15.78" height="0.9" fill="#fff" opacity="0.8"/><rect x="510.6" y="353.3" width="15.78" height="15.78" fill="url(#hatch)"/><rect x="510.6" y="367.57" width="15.78" height="0.9" fill="#fff" opacity="0.8"/><rect x="542.15" y="353.3" width="15.78" height="15.78" fill="url(#hatch)"/><rect x="542.15" y="367.57" width="15.78" height="0.9" fill="#fff" opacity="0.8"/><rect x="557.92" y="353.3" width="15.78" height="15.78" fill="url(#hatch)"/><rect x="557.92" y="367.57" width="15.78" height="0.9" fill="#fff" opacity="0.8"/><rect x="321.3" y="369.07" width="15.78" height="15.78" fill="url(#hatch)"/><rect x="321.3" y="383.35" width="15.78" height="0.9" fill="#fff" opacity="0.8"/><rect x="337.07" y="369.07" width="15.78" height="15.78" fill="url(#hatch)"/><rect x="337.07" y="383.35" width="15.78" height="0.9" fill="#fff" opacity="0.8"/><rect x="352.85" y="369.07" width="15.78" height="15.78" fill="url(#hatch)"/><rect x="352.85" y="383.35" width="15.78" height="0.9" fill="#fff" opacity="0.8"/><rect x="368.62" y="369.07" width="15.78" height="15.78" fill="url(#hatch)"/><rect x="368.62" y="383.35" width="15.78" height="0.9" fill="#fff" opacity="0.8"/><rect x="384.4" y="369.07" width="15.78" height="15.78" fill="url(#hatch)"/><rect x="384.4" y="383.35" width="15.78" height="0.9" fill="#fff" opacity="0.8"/><rect x="400.18" y="369.07" width="15.78" height="15.78" fill="url(#hatch)"/><rect x="400.18" y="383.35" width="15.78" height="0.9" fill="#fff" opacity="0.8"/><rect x="415.95" y="369.07" width="15.78" height="15.78" fill="url(#hatch)"/><rect x="415.95" y="383.35" width="15.78" height="0.9" fill="#fff" opacity="0.8"/><rect x="431.73" y="369.07" width="15.78" height="15.78" fill="url(#hatch)"/><rect x="431.73" y="383.35" width="15.78" height="0.9" fill="#fff" opacity="0.8"/><rect x="447.5" y="369.07" width="15.78" height="15.78" fill="url(#hatch)"/><rect x="447.5" y="383.35" width="15.78" height="0.9" fill="#fff" opacity="0.8"/><rect x="463.27" y="369.07" width="15.78" height="15.78" fill="url(#hatch)"/><rect x="463.27" y="383.35" width="15.78" height="0.9" fill="#fff" opacity="0.8"/><rect x="479.05" y="369.07" width="15.78" height="15.78" fill="url(#hatch)"/><rect x="479.05" y="383.35" width="15.78" height="0.9" fill="#fff" opacity="0.8"/><rect x="494.83" y="369.07" width="15.78" height="15.78" fill="url(#hatch)"/><rect x="494.83" y="383.35" width="15.78" height="0.9" fill="#fff" opacity="0.8"/><rect x="510.6" y="369.07" width="15.78" height="15.78" fill="url(#hatch)"/><rect x="510.6" y="383.35" width="15.78" height="0.9" fill="#fff" opacity="0.8"/><rect x="526.38" y="369.07" width="15.78" height="15.78" fill="url(#hatch)"/><rect x="526.38" y="383.35" width="15.78" height="0.9" fill="#fff" opacity="0.8"/><rect x="542.15" y="369.07" width="15.78" height="15.78" fill="url(#hatch)"/><rect x="542.15" y="383.35" width="15.78" height="0.9" fill="#fff" opacity="0.8"/><rect x="557.92" y="369.07" width="15.78" height="15.78" fill="url(#hatch)"/><rect x="557.92" y="383.35" width="15.78" height="0.9" fill="#fff" opacity="0.8"/><rect x="526.38" y="400.62" width="15.78" height="15.78" fill="url(#hatch)"/><rect x="526.38" y="414.9" width="15.78" height="0.9" fill="#fff" opacity="0.8"/><rect x="447.5" y="432.18" width="15.78" height="15.78" fill="url(#hatch)"/><rect x="447.5" y="446.45" width="15.78" height="0.9" fill="#fff" opacity="0.8"/><rect x="337.07" y="463.73" width="15.78" height="15.78" fill="url(#hatch)"/><rect x="337.07" y="478" width="15.78" height="0.9" fill="#fff" opacity="0.8"/><rect x="463.27" y="511.05" width="15.78" height="15.78" fill="url(#hatch)"/><rect x="463.27" y="525.33" width="15.78" height="0.9" fill="#fff" opacity="0.8"/><rect x="510.6" y="542.6" width="15.78" height="15.78" fill="url(#hatch)"/><rect x="510.6" y="556.88" width="15.78" height="0.9" fill="#fff" opacity="0.8"/><rect x="321.9" y="362.07" width="8.5" height="4.6" fill="#fff"/><text x="322.3" y="365.77" font-family="Liberation Sans" font-weight="bold" font-size="4" fill="#000" textLength="7.5" lengthAdjust="spacingAndGlyphs">NUL</text><rect x="337.68" y="362.07" width="8.5" height="4.6" fill="#fff"/><text x="338.07" y="365.77" font-family="Liberation Sans" font-weight="bold" font-size="4" fill="#000" textLength="7.5" lengthAdjust="spacingAndGlyphs">SOH</text><rect x="353.45" y="362.07" width="8.5" height="4.6" fill="#fff"/><text x="353.85" y="365.77" font-family="Liberation Sans" font-weight="bold" font-size="4" fill="#000" textLength="7.5" lengthAdjust="spacingAndGlyphs">STX</text><rect x="369.23" y="362.07" width="8.5" height="4.6" fill="#fff"/><text x="369.62" y="365.77" font-family="Liberation Sans" font-weight="bold" font-size="4" fill="#000" textLength="7.5" lengthAdjust="spacingAndGlyphs">ETX</text><rect x="385" y="362.07" width="8.5" height="4.6" fill="#fff"/><text x="385.4" y="365.77" font-family="Liberation Sans" font-weight="bold" font-size="4" fill="#000" textLength="7.5" lengthAdjust="spacingAndGlyphs">EOT</text><rect x="400.78" y="362.07" width="8.5" height="4.6" fill="#fff"/><text x="401.18" y="365.77" font-family="Liberation Sans" font-weight="bold" font-size="4" fill="#000" textLength="7.5" lengthAdjust="spacingAndGlyphs">ENQ</text><rect x="416.55" y="362.07" width="8.5" height="4.6" fill="#fff"/><text x="416.95" y="365.77" font-family="Liberation Sans" font-weight="bold" font-size="4" fill="#000" textLength="7.5" lengthAdjust="spacingAndGlyphs">ACK</text><rect x="432.33" y="362.07" width="8.5" height="4.6" fill="#fff"/><text x="432.73" y="365.77" font-family="Liberation Sans" font-weight="bold" font-size="4" fill="#000" textLength="7.5" lengthAdjust="spacingAndGlyphs">BEL</text><rect x="448.1" y="362.07" width="6.2" height="4.6" fill="#fff"/><text x="448.5" y="365.77" font-family="Liberation Sans" font-weight="bold" font-size="4" fill="#000" textLength="5.2" lengthAdjust="spacingAndGlyphs">BS</text><rect x="479.65" y="362.07" width="6.2" height="4.6" fill="#fff"/><text x="480.05" y="365.77" font-family="Liberation Sans" font-weight="bold" font-size="4" fill="#000" textLength="5.2" lengthAdjust="spacingAndGlyphs">LF</text><rect x="495.43" y="362.07" width="6.2" height="4.6" fill="#fff"/><text x="495.83" y="365.77" font-family="Liberation Sans" font-weight="bold" font-size="4" fill="#000" textLength="5.2" lengthAdjust="spacingAndGlyphs">VT</text><rect x="511.2" y="362.07" width="6.2" height="4.6" fill="#fff"/><text x="511.6" y="365.77" font-family="Liberation Sans" font-weight="bold" font-size="4" fill="#000" textLength="5.2" lengthAdjust="spacingAndGlyphs">FF</text><rect x="542.75" y="362.07" width="6.2" height="4.6" fill="#fff"/><text x="543.15" y="365.77" font-family="Liberation Sans" font-weight="bold" font-size="4" fill="#000" textLength="5.2" lengthAdjust="spacingAndGlyphs">SO</text><rect x="558.52" y="362.07" width="6.2" height="4.6" fill="#fff"/><text x="558.92" y="365.77" font-family="Liberation Sans" font-weight="bold" font-size="4" fill="#000" textLength="5.2" lengthAdjust="spacingAndGlyphs">SI</text><rect x="321.9" y="377.85" width="8.5" height="4.6" fill="#fff"/><text x="322.3" y="381.55" font-family="Liberation Sans" font-weight="bold" font-size="4" fill="#000" textLength="7.5" lengthAdjust="spacingAndGlyphs">DLE</text><rect x="337.68" y="377.85" width="8.5" height="4.6" fill="#fff"/><text x="338.07" y="381.55" font-family="Liberation Sans" font-weight="bold" font-size="4" fill="#000" textLength="7.5" lengthAdjust="spacingAndGlyphs">DC1</text><rect x="353.45" y="377.85" width="8.5" height="4.6" fill="#fff"/><text x="353.85" y="381.55" font-family="Liberation Sans" font-weight="bold" font-size="4" fill="#000" textLength="7.5" lengthAdjust="spacingAndGlyphs">DC2</text><rect x="369.23" y="377.85" width="8.5" height="4.6" fill="#fff"/><text x="369.62" y="381.55" font-family="Liberation Sans" font-weight="bold" font-size="4" fill="#000" textLength="7.5" lengthAdjust="spacingAndGlyphs">DC3</text><rect x="385" y="377.85" width="8.5" height="4.6" fill="#fff"/><text x="385.4" y="381.55" font-family="Liberation Sans" font-weight="bold" font-size="4" fill="#000" textLength="7.5" lengthAdjust="spacingAndGlyphs">DC4</text><rect x="400.78" y="377.85" width="8.5" height="4.6" fill="#fff"/><text x="401.18" y="381.55" font-family="Liberation Sans" font-weight="bold" font-size="4" fill="#000" textLength="7.5" lengthAdjust="spacingAndGlyphs">NAK</text><rect x="416.55" y="377.85" width="8.5" height="4.6" fill="#fff"/><text x="416.95" y="381.55" font-family="Liberation Sans" font-weight="bold" font-size="4" fill="#000" textLength="7.5" lengthAdjust="spacingAndGlyphs">SYN</text><rect x="432.33" y="377.85" width="8.5" height="4.6" fill="#fff"/><text x="432.73" y="381.55" font-family="Liberation Sans" font-weight="bold" font-size="4" fill="#000" textLength="7.5" lengthAdjust="spacingAndGlyphs">ETB</text><rect x="448.1" y="377.85" width="8.5" height="4.6" fill="#fff"/><text x="448.5" y="381.55" font-family="Liberation Sans" font-weight="bold" font-size="4" fill="#000" textLength="7.5" lengthAdjust="spacingAndGlyphs">CAN</text><rect x="463.88" y="377.85" width="6.2" height="4.6" fill="#fff"/><text x="464.27" y="381.55" font-family="Liberation Sans" font-weight="bold" font-size="4" fill="#000" textLength="5.2" lengthAdjust="spacingAndGlyphs">EM</text><rect x="479.65" y="377.85" width="8.5" height="4.6" fill="#fff"/><text x="480.05" y="381.55" font-family="Liberation Sans" font-weight="bold" font-size="4" fill="#000" textLength="7.5" lengthAdjust="spacingAndGlyphs">SUB</text><rect x="495.43" y="377.85" width="8.5" height="4.6" fill="#fff"/><text x="495.83" y="381.55" font-family="Liberation Sans" font-weight="bold" font-size="4" fill="#000" textLength="7.5" lengthAdjust="spacingAndGlyphs">ESC</text><rect x="511.2" y="377.85" width="6.2" height="4.6" fill="#fff"/><text x="511.6" y="381.55" font-family="Liberation Sans" font-weight="bold" font-size="4" fill="#000" textLength="5.2" lengthAdjust="spacingAndGlyphs">FS</text><rect x="526.98" y="377.85" width="6.2" height="4.6" fill="#fff"/><text x="527.38" y="381.55" font-family="Liberation Sans" font-weight="bold" font-size="4" fill="#000" textLength="5.2" lengthAdjust="spacingAndGlyphs">GS</text><rect x="542.75" y="377.85" width="6.2" height="4.6" fill="#fff"/><text x="543.15" y="381.55" font-family="Liberation Sans" font-weight="bold" font-size="4" fill="#000" textLength="5.2" lengthAdjust="spacingAndGlyphs">RS</text><rect x="558.52" y="377.85" width="6.2" height="4.6" fill="#fff"/><text x="558.92" y="381.55" font-family="Liberation Sans" font-weight="bold" font-size="4" fill="#000" textLength="5.2" lengthAdjust="spacingAndGlyphs">US</text><path d="M344.61 389.25 348.51 389.25 348.51 393.55M360.26 389.25 362.14 389.25 362.14 393.55M362.65 389.25 364.53 389.25 364.53 393.55M376.48 388.75 376.48 393.05 380.43 393.05M396.07 389.25 392.25 389.25 392.25 393.05 396.21 393.05M409.57 389.25 407.74 389.25 407.74 393.05 409.64 393.05M411.96 389.25 410.13 389.25 410.13 393.05 412.03 393.05M423.48 389.15 427.3 389.15 427.3 391.15 423.8 391.15 423.8 393.15 427.76 393.15M439.58 389.25H443.07V393.05H439.58ZM455.35 388.75 455.35 393.05 458.85 393.05 458.85 388.75M455.35 390.9 458.85 390.9M470.84 388.75 470.84 393.05 472.52 393.05 472.52 388.75M470.84 390.9 472.52 390.9M473.23 388.75 473.23 393.05 474.91 393.05 474.91 388.75M473.23 390.9 474.91 390.9M486.44 393.55 488.65 389.15 490.86 393.55M502.17 393.55 503.23 389.15 504.29 393.55M504.56 393.55 505.62 389.15 506.68 393.55M518.36 391.15a1.84 2 0 1 0 3.68 0a1.84 2 0 1 0 -3.68 0M533.77 389.25 538.18 389.25M533.9 393.55 535.97 390.15 538.04 393.55M549.49 389.25 551.61 389.25M549.56 393.55 550.55 390.15 551.55 393.55M551.89 389.25 554.01 389.25M551.95 393.55 552.95 390.15 553.94 393.55M567.52 388.4 567.52 389.25M565.32 390.05 569.73 390.05M565.45 393.55 567.52 390.9 569.59 393.55M328.83 405.03 332.65 405.03 332.65 409.32M329.06 407.03 332.65 407.03M348.75 405.03 344.93 405.03 344.93 408.82 348.88 408.82M344.93 406.93 348.51 406.93M360.24 405.03 364.66 405.03M361.62 405.03 361.62 408.82M363.28 405.03 363.28 408.82M360.24 408.82 364.66 408.82M378.23 404.32 378.23 405.03M376.16 405.62 380.3 405.62M376.85 407.73a1.38 1.5 0 1 0 2.76 0a1.38 1.5 0 1 0 -2.76 0M392.16 405.12 392.16 413.12M392.16 409.12 394.14 409.12M407.06 405.12 407.06 413.12M407.06 409.12 408.74 409.12M409.86 405.12 409.86 413.12M423.71 405.12 423.71 413.12M423.71 407.93 425.69 407.93M423.71 410.32 425.69 410.32M438.61 405.12 438.61 413.12M438.61 407.93 440.29 407.93M438.61 410.32 440.29 410.32M441.41 405.12 441.41 413.12M456.14 405.12 456.14 413.12M454.16 409.12 456.14 409.12M471.27 405.12 471.27 413.12M469.31 409.12 471.27 409.12M473.23 405.12 473.23 413.12M487.69 405.12 487.69 413.12M485.71 407.93 487.69 407.93M485.71 410.32 487.69 410.32M502.83 405.12 502.83 413.12M500.87 407.93 502.83 407.93M500.87 410.32 502.83 410.32M504.79 405.12 504.79 413.12M518.8 405.12 518.8 413.12M549.68 405.03 553.59 405.03 553.59 409.32M565.34 405.03 567.21 405.03 567.21 409.32M567.73 405.03 569.6 405.03 569.6 409.32M329.15 420.3 329.15 424.6 333.11 424.6M348.75 420.8 344.93 420.8 344.93 424.6 348.88 424.6M362.25 420.8 360.41 420.8 360.41 424.6 362.31 424.6M364.64 420.8 362.81 420.8 362.81 424.6 364.71 424.6M376.16 420.7 379.97 420.7 379.97 422.7 376.48 422.7 376.48 424.7 380.43 424.7M392.25 420.8H395.75V424.6H392.25ZM408.03 420.3 408.03 424.6 411.52 424.6 411.52 420.3M408.03 422.45 411.52 422.45M423.51 420.3 423.51 424.6 425.19 424.6 425.19 420.3M423.51 422.45 425.19 422.45M425.91 420.3 425.91 424.6 427.59 424.6 427.59 420.3M425.91 422.45 427.59 422.45M439.12 425.1 441.33 420.7 443.53 425.1M454.84 425.1 455.9 420.7 456.96 425.1M457.24 425.1 458.3 420.7 459.36 425.1M471.04 422.7a1.84 2 0 1 0 3.68 0a1.84 2 0 1 0 -3.68 0M486.44 420.8 490.86 420.8M486.58 425.1 488.65 421.7 490.72 425.1M502.17 420.8 504.29 420.8M502.24 425.1 503.23 421.7 504.22 425.1M504.56 420.8 506.68 420.8M504.63 425.1 505.62 421.7 506.61 425.1M520.2 419.95 520.2 420.8M517.99 421.6 522.41 421.6M518.13 425.1 520.2 422.45 522.27 425.1M533.9 420.8 537.72 420.8 537.72 425.1M534.13 422.8 537.72 422.8M553.82 420.8 550 420.8 550 424.6 553.96 424.6M550 422.7 553.59 422.7M565.32 420.8 569.73 420.8M566.7 420.8 566.7 424.6M568.35 420.8 568.35 424.6M565.32 424.6 569.73 424.6M330.9 435.88 330.9 436.58M328.83 437.18 332.97 437.18M329.52 439.28a1.38 1.5 0 1 0 2.76 0a1.38 1.5 0 1 0 -2.76 0M341.77 440.57 341.77 442.98M339.07 442.98 344.47 442.98M356.73 440.51 356.73 443.09M354.45 443.09 359.01 443.09M359.54 435.78 359.54 444.38M359.54 440.08 361.42 440.08M372.5 440.51 372.5 443.09M370.23 443.09 374.79 443.09M374.9 435.78 374.9 444.38M374.9 440.08 376.15 440.08M376.99 435.78 376.99 444.38M388.28 440.51 388.28 443.09M386 443.09 390.56 443.09M391.51 435.78 391.51 444.38M403.8 440.57 403.8 442.98M405.95 440.57 405.95 442.98M402.18 442.98 407.57 442.98M417.95 442.18 423.35 442.18M433.33 442.23 437.89 442.23M438.84 435.78 438.84 444.38M470.81 436.58 474.71 436.58 474.71 440.88M486.46 436.58 488.34 436.58 488.34 440.88M488.85 436.58 490.73 436.58 490.73 440.88M502.68 436.08 502.68 440.38 506.63 440.38M522.27 436.58 518.45 436.58 518.45 440.38 522.41 440.38M535.77 436.58 533.94 436.58 533.94 440.38 535.84 440.38M538.16 436.58 536.33 436.58 536.33 440.38 538.23 440.38M549.68 436.48 553.5 436.48 553.5 438.48 550 438.48 550 440.48 553.96 440.48M565.78 436.58H569.27V440.38H565.78ZM329.15 451.85 329.15 456.15 332.65 456.15 332.65 451.85M329.15 454 332.65 454M344.64 451.85 344.64 456.15 346.32 456.15 346.32 451.85M344.64 454 346.32 454M347.03 451.85 347.03 456.15 348.71 456.15 348.71 451.85M347.03 454 348.71 454M360.24 456.65 362.45 452.25 364.66 456.65M375.97 456.65 377.03 452.25 378.09 456.65M378.36 456.65 379.42 452.25 380.48 456.65M392.16 454.25a1.84 2 0 1 0 3.68 0a1.84 2 0 1 0 -3.68 0M407.57 452.35 411.98 452.35M407.71 456.65 409.78 453.25 411.85 456.65M423.29 452.35 425.41 452.35M423.36 456.65 424.35 453.25 425.35 456.65M425.69 452.35 427.81 452.35M425.75 456.65 426.75 453.25 427.74 456.65M441.33 451.5 441.33 452.35M439.12 453.15 443.53 453.15M439.26 456.65 441.33 454 443.4 456.65M455.03 452.35 458.85 452.35 458.85 456.65M455.26 454.35 458.85 454.35M474.94 452.35 471.13 452.35 471.13 456.15 475.08 456.15M471.13 454.25 474.71 454.25M486.44 452.35 490.86 452.35M487.82 452.35 487.82 456.15M489.48 452.35 489.48 456.15M486.44 456.15 490.86 456.15M504.43 451.65 504.43 452.35M502.36 452.95 506.5 452.95M503.05 455.05a1.38 1.5 0 1 0 2.76 0a1.38 1.5 0 1 0 -2.76 0M512.6 456.35 518 456.35M515.3 456.35 515.3 459.55M527.98 456.28 532.53 456.28M530.25 456.28 530.25 459.72M533.9 451.55 533.9 460.15M532.02 455.85 533.9 455.85M543.75 456.28 548.31 456.28M546.03 456.28 546.03 459.72M549.26 451.55 549.26 460.15M547.8 455.85 549.26 455.85M550.72 451.55 550.72 460.15M559.52 456.28 564.08 456.28M561.8 456.28 561.8 459.72M565.03 451.55 565.03 460.15M323.3 472.12 328.7 472.12M324.92 472.12 324.92 475.33M327.08 472.12 327.08 475.33M360.38 468.13 364.29 468.13 364.29 472.43M376.04 468.13 377.91 468.13 377.91 472.43M378.43 468.13 380.3 468.13 380.3 472.43M392.25 467.63 392.25 471.93 396.21 471.93M411.85 468.13 408.03 468.13 408.03 471.93 411.98 471.93M425.35 468.13 423.51 468.13 423.51 471.93 425.41 471.93M427.74 468.13 425.91 468.13 425.91 471.93 427.81 471.93M439.26 468.03 443.07 468.03 443.07 470.03 439.58 470.03 439.58 472.03 443.53 472.03M455.35 468.13H458.85V471.93H455.35ZM471.13 467.63 471.13 471.93 474.62 471.93 474.62 467.63M471.13 469.78 474.62 469.78M486.61 467.63 486.61 471.93 488.29 471.93 488.29 467.63M486.61 469.78 488.29 469.78M489.01 467.63 489.01 471.93 490.69 471.93 490.69 467.63M489.01 469.78 490.69 469.78M502.22 472.43 504.43 468.03 506.63 472.43M517.94 472.43 519 468.03 520.06 472.43M520.34 472.43 521.4 468.03 522.46 472.43M534.13 470.03a1.84 2 0 1 0 3.68 0a1.84 2 0 1 0 -3.68 0M549.54 468.13 553.96 468.13M549.68 472.43 551.75 469.03 553.82 472.43M565.27 468.13 567.39 468.13M565.34 472.43 566.33 469.03 567.32 472.43M567.66 468.13 569.78 468.13M567.73 472.43 568.72 469.03 569.71 472.43M330.9 483.05 330.9 483.9M328.69 484.7 333.11 484.7M328.83 488.2 330.9 485.55 332.97 488.2M344.61 483.9 348.42 483.9 348.42 488.2M344.83 485.9 348.42 485.9M364.52 483.9 360.7 483.9 360.7 487.7 364.66 487.7M360.7 485.8 364.29 485.8M376.02 483.9 380.43 483.9M377.4 483.9 377.4 487.7M379.05 483.9 379.05 487.7M376.02 487.7 380.43 487.7M394 483.2 394 483.9M391.93 484.5 396.07 484.5M392.62 486.6a1.38 1.5 0 1 0 2.76 0a1.38 1.5 0 1 0 -2.76 0M407.94 484 407.94 492M407.94 488 409.92 488M422.83 484 422.83 492M422.83 488 424.51 488M425.63 484 425.63 492M439.49 484 439.49 492M439.49 486.8 441.47 486.8M439.49 489.2 441.47 489.2M454.38 484 454.38 492M454.38 486.8 456.06 486.8M454.38 489.2 456.06 489.2M457.18 484 457.18 492M471.91 484 471.91 492M469.94 488 471.91 488M487.05 484 487.05 492M485.09 488 487.05 488M489.01 484 489.01 492M503.47 484 503.47 492M501.49 486.8 503.47 486.8M501.49 489.2 503.47 489.2M518.6 484 518.6 492M516.64 486.8 518.6 486.8M516.64 489.2 518.6 489.2M520.56 484 520.56 492M534.58 484 534.58 492M544.71 488.23 549.13 488.23 549.13 492.01M560.35 488.23 562.47 488.23 562.47 492.01M563.05 488.23 565.18 488.23 565.18 492.01M323.72 504 325.85 504 325.85 507.79M326.35 507.79 327.55 503.91 328.75 507.79M340 503.56 340 507.35 344.47 507.35M355.45 503.56 355.45 507.35 357.6 507.35M357.9 504 360.3 504M357.98 507.79 359.1 504.79 360.23 507.79M371.22 503.56 371.22 507.35 373.37 507.35M374.88 503.39 374.88 504M373.75 504.53 376 504.53M374.13 506.38a0.75 1.32 0 1 0 1.5 0a0.75 1.32 0 1 0 -1.5 0M391.64 504 387.32 504 387.32 507.35 391.8 507.35M402.74 503.91 407.05 503.91 407.05 505.67 403.1 505.67 403.1 507.43 407.57 507.43M418.37 503.91 420.45 503.91 420.45 505.67 418.55 505.67 418.55 507.43 420.7 507.43M421.08 504 423.2 504 423.2 507.79M434.15 503.91 436.22 503.91 436.22 505.67 434.32 505.67 434.32 507.43 436.47 507.43M437.03 504H438.93V507.35H437.03ZM449.92 503.91 452 503.91 452 505.67 450.1 505.67 450.1 507.43 452.25 507.43M452.8 503.56 452.8 507.35 454.7 507.35 454.7 503.56M452.8 505.45 454.7 505.45M465.7 503.91 467.77 503.91 467.77 505.67 465.87 505.67 465.87 507.43 468.02 507.43M468.33 507.79 469.53 503.91 470.73 507.79M481.47 503.91 483.55 503.91 483.55 505.67 481.65 505.67 481.65 507.43 483.8 507.43M486.43 504 484.35 504 484.35 507.35 486.5 507.35M484.35 505.67 486.3 505.67M497.25 503.91 499.32 503.91 499.32 505.67 497.42 505.67 497.42 507.43 499.57 507.43M499.88 504 502.28 504M500.63 504 500.63 507.35M501.53 504 501.53 507.35M499.88 507.35 502.28 507.35M513.02 503.91 515.1 503.91 515.1 505.67 513.2 505.67 513.2 507.43 515.35 507.43M516.85 503.39 516.85 504M515.73 504.53 517.98 504.53M516.1 506.38a0.75 1.32 0 1 0 1.5 0a0.75 1.32 0 1 0 -1.5 0M529.3 504H533.25V507.35H529.3ZM545.07 503.56 545.07 507.35 549.03 507.35 549.03 503.56M545.07 505.45 549.03 505.45M560.52 503.56 560.52 507.35 562.42 507.35 562.42 503.56M560.52 505.45 562.42 505.45M562.98 507.79 564.18 503.91 565.38 507.79M323.7 523.56 326.2 519.69 328.7 523.56M339.42 523.56 340.62 519.69 341.82 523.56M342.13 523.56 343.33 519.69 344.53 523.56M355.67 521.45a2.08 1.76 0 1 0 4.16 0a2.08 1.76 0 1 0 -4.16 0M371.03 519.78 376.02 519.78M371.19 523.56 373.53 520.57 375.87 523.56M389.3 519.03 389.3 519.78M386.8 520.48 391.8 520.48M386.96 523.56 389.3 521.23 391.64 523.56M402.74 519.78 407.05 519.78 407.05 523.56M403 521.54 407.05 521.54M423.19 519.78 418.87 519.78 418.87 523.12 423.35 523.12M418.87 521.45 422.93 521.45M434.13 519.78 439.12 519.78M435.69 519.78 435.69 523.12M437.56 519.78 437.56 523.12M434.13 523.12 439.12 523.12M452.4 519.16 452.4 519.78M450.06 520.31 454.74 520.31M450.84 522.15a1.56 1.32 0 1 0 3.12 0a1.56 1.32 0 1 0 -3.12 0M483.75 519.45 483.75 521.85M481.05 521.85 486.45 521.85M498.71 519.38 498.71 521.96M496.43 521.96 500.99 521.96M501.52 514.65 501.52 523.25M501.52 518.95 503.4 518.95M514.48 519.38 514.48 521.96M512.2 521.96 516.76 521.96M516.87 514.65 516.87 523.25M516.87 518.95 518.13 518.95M518.96 514.65 518.96 523.25M530.25 519.38 530.25 521.96M527.98 521.96 532.53 521.96M533.49 514.65 533.49 523.25M545.77 519.45 545.77 521.85M547.93 519.45 547.93 521.85M544.15 521.85 549.55 521.85M559.92 521.05 565.32 521.05M322.9 536.88 327.46 536.88M328.41 530.43 328.41 539.03M339.63 535.55 344.06 535.55 344.06 539.34M355.27 535.55 357.4 535.55 357.4 539.34M357.98 535.55 360.1 535.55 360.1 539.34M371.05 535.55 373.17 535.55 373.17 539.34M373.68 539.34 374.88 535.47 376.08 539.34M387.32 535.11 387.32 538.9 391.8 538.9M402.77 535.11 402.77 538.9 404.92 538.9M405.23 535.55 407.63 535.55M405.3 539.34 406.43 536.35 407.55 539.34M418.55 535.11 418.55 538.9 420.7 538.9M422.2 534.94 422.2 535.55M421.08 536.08 423.33 536.08M421.45 537.93a0.75 1.32 0 1 0 1.5 0a0.75 1.32 0 1 0 -1.5 0M438.97 535.55 434.65 535.55 434.65 538.9 439.12 538.9M450.06 535.47 454.38 535.47 454.38 537.23 450.42 537.23 450.42 538.99 454.9 538.99M465.7 535.47 467.77 535.47 467.77 537.23 465.87 537.23 465.87 538.99 468.02 538.99M468.4 535.55 470.53 535.55 470.53 539.34M481.47 535.47 483.55 535.47 483.55 537.23 481.65 537.23 481.65 538.99 483.8 538.99M484.35 535.55H486.25V538.9H484.35ZM497.25 535.47 499.32 535.47 499.32 537.23 497.42 537.23 497.42 538.99 499.57 538.99M500.13 535.11 500.13 538.9 502.03 538.9 502.03 535.11M500.13 537.01 502.03 537.01M513.02 535.47 515.1 535.47 515.1 537.23 513.2 537.23 513.2 538.99 515.35 538.99M515.65 539.34 516.85 535.47 518.05 539.34M528.8 535.47 530.87 535.47 530.87 537.23 528.97 537.23 528.97 538.99 531.12 538.99M533.75 535.55 531.68 535.55 531.68 538.9 533.83 538.9M531.68 537.23 533.63 537.23M544.57 535.47 546.65 535.47 546.65 537.23 544.75 537.23 544.75 538.99 546.9 538.99M547.2 535.55 549.6 535.55M547.95 535.55 547.95 538.9M548.85 535.55 548.85 538.9M547.2 538.9 549.6 538.9M560.35 535.47 562.42 535.47 562.42 537.23 560.52 537.23 560.52 538.99 562.67 538.99M564.18 534.94 564.18 535.55M563.05 536.08 565.3 536.08M563.43 537.93a0.75 1.32 0 1 0 1.5 0a0.75 1.32 0 1 0 -1.5 0M324.22 551.33H328.18V554.67H324.22ZM340 550.89 340 554.67 343.95 554.67 343.95 550.89M340 552.78 343.95 552.78M355.45 550.89 355.45 554.67 357.35 554.67 357.35 550.89M355.45 552.78 357.35 552.78M357.9 555.11 359.1 551.24 360.3 555.11M371.03 555.11 373.53 551.24 376.02 555.11M386.75 555.11 387.95 551.24 389.15 555.11M389.45 555.11 390.65 551.24 391.85 555.11M403 553a2.08 1.76 0 1 0 4.16 0a2.08 1.76 0 1 0 -4.16 0M418.35 551.33 423.35 551.33M418.51 555.11 420.85 552.12 423.19 555.11M436.63 550.58 436.63 551.33M434.13 552.03 439.12 552.03M434.29 555.11 436.63 552.78 438.97 555.11M450.06 551.33 454.38 551.33 454.38 555.11M450.32 553.09 454.38 553.09M470.51 551.33 466.2 551.33 466.2 554.67 470.67 554.67M466.2 553 470.25 553M481.45 551.33 486.45 551.33M483.01 551.33 483.01 554.67M484.89 551.33 484.89 554.67M481.45 554.67 486.45 554.67M499.73 550.71 499.73 551.33M497.39 551.86 502.07 551.86M498.17 553.7a1.56 1.32 0 1 0 3.12 0a1.56 1.32 0 1 0 -3.12 0M533.9 547 537.81 547 537.81 551.3M549.56 547 551.44 547 551.44 551.3M551.95 547 553.83 547 553.83 551.3M565.78 546.5 565.78 550.8 569.73 550.8M332.97 562.77 329.15 562.77 329.15 566.57 333.11 566.57M346.47 562.77 344.64 562.77 344.64 566.57 346.54 566.57M348.86 562.77 347.03 562.77 347.03 566.57 348.93 566.57M360.38 562.67 364.2 562.67 364.2 564.67 360.7 564.67 360.7 566.67 364.66 566.67M376.48 562.77H379.97V566.57H376.48ZM392.25 562.27 392.25 566.57 395.75 566.57 395.75 562.27M392.25 564.42 395.75 564.42M407.74 562.27 407.74 566.57 409.42 566.57 409.42 562.27M407.74 564.42 409.42 564.42M410.13 562.27 410.13 566.57 411.81 566.57 411.81 562.27M410.13 564.42 411.81 564.42M423.34 567.07 425.55 562.67 427.76 567.07M439.07 567.07 440.13 562.67 441.19 567.07M441.46 567.07 442.52 562.67 443.58 567.07M455.26 564.67a1.84 2 0 1 0 3.68 0a1.84 2 0 1 0 -3.68 0M470.67 562.77 475.08 562.77M470.81 567.07 472.88 563.67 474.94 567.07M486.39 562.77 488.51 562.77M486.46 567.07 487.45 563.67 488.45 567.07M488.79 562.77 490.91 562.77M488.85 567.07 489.85 563.67 490.84 567.07M504.43 561.92 504.43 562.77M502.22 563.57 506.63 563.57M502.36 567.07 504.43 564.42 506.5 567.07M518.13 562.77 521.95 562.77 521.95 567.07M518.36 564.77 521.95 564.77M538.04 562.77 534.23 562.77 534.23 566.57 538.18 566.57M534.23 564.67 537.81 564.67M549.54 562.77 553.96 562.77M550.92 562.77 550.92 566.57M552.58 562.77 552.58 566.57M549.54 566.57 553.96 566.57M567.52 562.07 567.52 562.77M565.45 563.38 569.59 563.38M566.14 565.47a1.38 1.5 0 1 0 2.76 0a1.38 1.5 0 1 0 -2.76 0M326 582.55 326 584.95M323.3 584.95 328.7 584.95M340.69 582.55 340.69 584.95M342.85 582.55 342.85 584.95M339.07 584.95 344.47 584.95M354.85 582.55 360.25 582.55M357.55 582.55 357.55 585.75M370.62 582.55 376.02 582.55M372.25 582.55 372.25 585.75M374.4 582.55 374.4 585.75M386.4 584.15 391.8 584.15M402.74 582.88 407.16 582.88 407.16 586.66M418.37 582.88 420.5 582.88 420.5 586.66M421.08 582.88 423.2 582.88 423.2 586.66M434.15 582.88 436.27 582.88 436.27 586.66M436.78 586.66 437.98 582.79 439.18 586.66M450.42 582.44 450.42 586.22 454.9 586.22M465.87 582.44 465.87 586.22 468.02 586.22M468.33 582.88 470.73 582.88M468.4 586.66 469.53 583.67 470.65 586.66M481.65 582.44 481.65 586.22 483.8 586.22M485.3 582.26 485.3 582.88M484.18 583.41 486.43 583.41M484.55 585.25a0.75 1.32 0 1 0 1.5 0a0.75 1.32 0 1 0 -1.5 0M502.07 582.88 497.75 582.88 497.75 586.22 502.22 586.22M513.16 582.79 517.48 582.79 517.48 584.55 513.52 584.55 513.52 586.31 518 586.31M528.8 582.79 530.87 582.79 530.87 584.55 528.97 584.55 528.97 586.31 531.12 586.31M531.5 582.88 533.63 582.88 533.63 586.66M544.57 582.79 546.65 582.79 546.65 584.55 544.75 584.55 544.75 586.31 546.9 586.31M547.45 582.88H549.35V586.22H547.45ZM560.35 582.79 562.42 582.79 562.42 584.55 560.52 584.55 560.52 586.31 562.67 586.31M563.23 582.44 563.23 586.22 565.13 586.22 565.13 582.44M563.23 584.33 565.13 584.33M323.72 598.57 325.8 598.57 325.8 600.33 323.9 600.33 323.9 602.09 326.05 602.09M326.35 602.44 327.55 598.57 328.75 602.44M339.5 598.57 341.57 598.57 341.57 600.33 339.67 600.33 339.67 602.09 341.82 602.09M344.45 598.65 342.38 598.65 342.38 602 344.53 602M342.38 600.33 344.33 600.33M355.27 598.57 357.35 598.57 357.35 600.33 355.45 600.33 355.45 602.09 357.6 602.09M357.9 598.65 360.3 598.65M358.65 598.65 358.65 602M359.55 598.65 359.55 602M357.9 602 360.3 602M371.05 598.57 373.12 598.57 373.12 600.33 371.22 600.33 371.22 602.09 373.37 602.09M374.88 598.04 374.88 598.65M373.75 599.18 376 599.18M374.13 601.03a0.75 1.32 0 1 0 1.5 0a0.75 1.32 0 1 0 -1.5 0M387.32 598.65H391.28V602H387.32ZM403.1 598.21 403.1 602 407.05 602 407.05 598.21M403.1 600.11 407.05 600.11M418.55 598.21 418.55 602 420.45 602 420.45 598.21M418.55 600.11 420.45 600.11M421 602.44 422.2 598.57 423.4 602.44M434.13 602.44 436.63 598.57 439.12 602.44M449.85 602.44 451.05 598.57 452.25 602.44M452.55 602.44 453.75 598.57 454.95 602.44M466.1 600.33a2.08 1.76 0 1 0 4.16 0a2.08 1.76 0 1 0 -4.16 0M481.45 598.65 486.45 598.65M481.61 602.44 483.95 599.45 486.29 602.44M499.73 597.9 499.73 598.65M497.23 599.36 502.22 599.36M497.39 602.44 499.73 600.11 502.07 602.44M513.16 598.65 517.48 598.65 517.48 602.44M513.42 600.41 517.48 600.41M533.62 598.65 529.3 598.65 529.3 602 533.77 602M529.3 600.33 533.35 600.33M544.55 598.65 549.55 598.65M546.11 598.65 546.11 602M547.99 598.65 547.99 602M544.55 602 549.55 602M562.82 598.04 562.82 598.65M560.48 599.18 565.16 599.18M561.26 601.03a1.56 1.32 0 1 0 3.12 0a1.56 1.32 0 1 0 -3.12 0" fill="none" stroke="#000" stroke-width="1.55" stroke-linecap="square"/><path d="M321.5 353.3V605.7M321.3 353.5H573.7M337.5 353.3V605.7M321.3 369.5H573.7M352.5 353.3V605.7M321.3 384.5H573.7M368.5 353.3V605.7M321.3 400.5H573.7M384.5 353.3V605.7M321.3 416.5H573.7M400.5 353.3V605.7M321.3 432.5H573.7M415.5 353.3V605.7M321.3 447.5H573.7M431.5 353.3V605.7M321.3 463.5H573.7M447.5 353.3V605.7M321.3 479.5H573.7M463.5 353.3V605.7M321.3 495.5H573.7M479.5 353.3V605.7M321.3 511.5H573.7M494.5 353.3V605.7M321.3 526.5H573.7M510.5 353.3V605.7M321.3 542.5H573.7M526.5 353.3V605.7M321.3 558.5H573.7M542.5 353.3V605.7M321.3 574.5H573.7M557.5 353.3V605.7M321.3 589.5H573.7M573.5 353.3V605.7M321.3 605.5H573.7" stroke="#111" stroke-width="1.1" fill="none"/><path d="M321.3 344.9V613.8M313 353.3H581.5" stroke="#111" stroke-width="1" fill="none"/><rect x="316" y="294" width="133" height="28" fill="#fff"/><text x="330.52" y="302.7" font-family="Liberation Mono" font-size="6.8" font-weight="bold" fill="#111" textLength="19.99" lengthAdjust="spacing" xml:space="preserve">: 542</text><path d="M321.96 297.54 321.96 297.99M320.42 298.41 323.49 298.41M320.52 300.27 321.96 298.86 323.4 300.27M321.96 300.82 321.96 302.26M319.67 302.26 324.24 302.26M325.43 300.01 326.64 297.91 327.85 300.01M329.04 297.67 329.04 300.85M328.01 299.26 329.04 299.26M326.18 301.96a1.37 0.81 0 1 0 2.74 0a1.37 0.81 0 1 0 -2.74 0" fill="none" stroke="#111" stroke-width="1"/><text x="330.52" y="311.2" font-family="Liberation Mono" font-size="6.8" font-weight="bold" fill="#111" textLength="24.07" lengthAdjust="spacing" xml:space="preserve">: 378(</text><text x="361.86" y="311.2" font-family="Liberation Mono" font-size="6.8" font-weight="bold" fill="#111" textLength="28.15" lengthAdjust="spacing" xml:space="preserve">); 420(</text><text x="397.27" y="311.2" font-family="Liberation Mono" font-size="6.8" font-weight="bold" fill="#111" textLength="19.99" lengthAdjust="spacing" xml:space="preserve">), 0(</text><text x="424.53" y="311.2" font-family="Liberation Mono" font-size="6.8" font-weight="bold" fill="#111" textLength="24.07" lengthAdjust="spacing" xml:space="preserve">), ...</text><path d="M320.64 306.39 323.27 306.39M320.72 307.99 321.96 306.72 323.19 307.99M319.67 307.89 324.24 307.89M321.96 307.89 321.96 308.95M320.68 310.41a1.28 0.85 0 1 0 2.56 0a1.28 0.85 0 1 0 -2.56 0M325.43 308.51 326.64 306.41 327.85 308.51M329.04 306.17 329.04 309.35M328.01 307.76 329.04 307.76M326.18 310.46a1.37 0.81 0 1 0 2.74 0a1.37 0.81 0 1 0 -2.74 0M357.95 305.87 357.95 311.77M357.95 308.82 360.11 308.82M392.89 305.87 392.89 311.77M392.89 307.93 394.33 307.93M392.89 309.71 394.33 309.71M395.29 305.87 395.29 311.77M421.1 309.09 421.1 310.68M418.02 310.68 424.18 310.68" fill="none" stroke="#111" stroke-width="1"/><path d="M355 312.9L356.2 312.3L357.4 313.5L358.6 312.3L359.8 313.5L361 312.3L361.86 313.5" fill="none" stroke="#e02010" stroke-width="0.9"/><path d="M390.42 312.9L391.62 312.3L392.82 313.5L394.02 312.3L395.22 313.5L396.42 312.3L397.27 313.5" fill="none" stroke="#e02010" stroke-width="0.9"/><path d="M417.67 312.9L418.87 312.3L420.07 313.5L421.27 312.3L422.47 313.5L423.67 312.3L424.53 313.5" fill="none" stroke="#e02010" stroke-width="0.9"/><text x="330.52" y="319.6" font-family="Liberation Mono" font-size="6.8" font-weight="bold" fill="#111" textLength="11.83" lengthAdjust="spacing" xml:space="preserve">: 0</text><path d="M320.64 314.79 323.27 314.79M320.72 316.39 321.96 315.12 323.19 316.39M321.96 316.29 321.96 317.09M319.67 317.09 324.24 317.09M320.68 318.81a1.28 0.85 0 1 0 2.56 0a1.28 0.85 0 1 0 -2.56 0M325.43 316.91 326.64 314.81 327.85 316.91M329.04 314.57 329.04 317.75M328.01 316.16 329.04 316.16M326.18 318.86a1.37 0.81 0 1 0 2.74 0a1.37 0.81 0 1 0 -2.74 0" fill="none" stroke="#111" stroke-width="1"/><path d="M892.4 346.7C884.82 340.73 861.25 320.58 846.9 310.9C832.55 301.22 819.85 295.03 806.3 288.6C792.75 282.17 779.15 276.7 765.6 272.3C752.05 267.9 738.53 264.53 725 262.2C711.47 259.87 698.57 258.45 684.4 258.3C670.23 258.15 651.85 259.9 640 261.3C628.15 262.7 622.18 264.25 613.3 266.7C604.42 269.15 595.58 272.23 586.7 276C577.82 279.77 568.9 284.18 560 289.3C551.1 294.42 542.18 300.25 533.3 306.7C524.42 313.15 515.58 320.45 506.7 328C497.82 335.55 488.9 343.55 480 352C471.1 360.45 461.3 370.25 453.3 378.7C445.3 387.15 438.21 395.2 432 402.7C425.79 410.2 418.69 420.2 416.03 423.7" fill="none" stroke="#3da336" stroke-width="1.8" stroke-linecap="round"/><path d="M410.7 430.7L413.54 419.04L421.18 424.85Z" fill="#3da336"/><path d="M887.5 346.7C880.73 342.42 860.43 329 846.9 321C833.37 313 819.85 304.78 806.3 298.7C792.75 292.62 779.15 287.53 765.6 284.5C752.05 281.47 741.48 280.9 725 280.5C708.52 280.1 680.87 281.07 666.7 282.1C652.53 283.13 648.9 284.6 640 286.7C631.1 288.8 622.18 291.15 613.3 294.7C604.42 298.25 595.58 302.9 586.7 308C577.82 313.1 568.9 318.42 560 325.3C551.1 332.18 539.97 342.63 533.3 349.3C526.63 355.97 524.25 358.39 520 365.3C515.75 372.21 509.83 386.52 507.8 390.76" fill="none" stroke="#3da336" stroke-width="1.8" stroke-linecap="round"/><path d="M504 398.7L504.42 386.71L513.08 390.85Z" fill="#3da336"/><path d="M873.3 346.7C868.9 345.13 858.07 341.23 846.9 337.3C835.73 333.37 819.85 327.48 806.3 323.1C792.75 318.72 779.15 314.05 765.6 311C752.05 307.95 737.6 305.72 725 304.8C712.4 303.88 699.72 305.18 690 305.5C680.28 305.82 675.03 305.4 666.7 306.7C658.37 308 648.9 310.2 640 313.3C631.1 316.4 621.3 320.18 613.3 325.3C605.3 330.42 598.22 337.33 592 344C585.78 350.67 580.88 357.75 576 365.3C571.12 372.85 566.48 381.3 562.7 389.3C558.92 397.3 555.84 405.11 553.3 413.3C550.76 421.49 548.45 434.24 547.48 438.43" fill="none" stroke="#3da336" stroke-width="1.8" stroke-linecap="round"/><path d="M545.5 447L543.3 435.2L552.66 437.37Z" fill="#3da336"/><path d="M910 416C906.12 425.95 897.03 459.3 886.7 475.7C876.37 492.1 862.18 504.08 848 514.4C833.82 524.72 818.35 531.93 801.6 537.6C784.85 543.27 765.55 547.43 747.5 548.4C729.45 549.37 708.77 545.85 693.3 543.4C677.83 540.95 666.92 537.6 654.7 533.7C642.48 529.8 637.34 526.86 620 520C602.66 513.14 562.23 497.12 550.68 492.54" fill="none" stroke="#3da336" stroke-width="1.8" stroke-linecap="round"/><path d="M542.5 489.3L554.49 488.89L550.96 497.81Z" fill="#3da336"/><path d="M910 416C908.7 424.67 908.67 448.38 902.2 468C895.73 487.62 881.52 516.95 871.2 533.7C860.88 550.45 851.9 559.47 840.3 568.5C828.7 577.53 821.65 581.32 801.6 587.9C781.55 594.48 749 608 720 608C691 608 650.93 596.32 627.6 587.9C604.27 579.48 596.12 567.11 580 557.5C563.88 547.89 539.08 534.81 530.9 530.27" fill="none" stroke="#3da336" stroke-width="1.8" stroke-linecap="round"/><path d="M523.2 526L535.15 527.14L530.49 535.53Z" fill="#3da336"/><path d="M910 416C895 600 770 683 650 683C520 683 420 640 376.2 595.94" fill="none" stroke="#3da336" stroke-width="1.8" stroke-linecap="round"/><path d="M370 589.7L381.16 594.12L374.35 600.89Z" fill="#3da336"/><path d="M620 363.7C616.17 365.92 603.39 373.04 597 377C590.61 380.96 584.2 385.72 581.64 387.47" fill="none" stroke="#cc3420" stroke-width="1.8" stroke-linecap="round"/><path d="M574.7 392.2L580.79 382.49L585.97 390.09Z" fill="#cc3420"/><path d="M620 400.3C616.17 400.67 603.16 401.81 597 402.5C590.84 403.19 585.35 404.12 583.02 404.44" fill="none" stroke="#cc3420" stroke-width="1.8" stroke-linecap="round"/><path d="M574.7 405.6L584.47 399.6L585.73 408.71Z" fill="#cc3420"/><path d="M620 436.9C616.17 437.05 603.15 437.53 597 437.8C590.85 438.07 585.41 438.42 583.09 438.55" fill="none" stroke="#cc3420" stroke-width="1.8" stroke-linecap="round"/><path d="M574.7 439L584.94 433.84L585.43 443.03Z" fill="#cc3420"/><path d="M620 482.8C616.17 481.67 603.2 477.77 597 476C590.8 474.23 585.18 472.82 582.81 472.18" fill="none" stroke="#cc3420" stroke-width="1.8" stroke-linecap="round"/><path d="M574.7 470L586.03 468.29L583.64 477.17Z" fill="#cc3420"/><path d="M620 520.6C616.17 523.33 603.5 531.92 597 537C590.5 542.08 583.67 548.71 581.01 551.05" fill="none" stroke="#cc3420" stroke-width="1.8" stroke-linecap="round"/><path d="M574.7 556.6L579.55 546.21L585.62 553.12Z" fill="#cc3420"/><path d="M620 564.4C616.17 559 603.71 541.58 597 532C590.29 522.42 582.63 511.1 579.76 506.92" fill="none" stroke="#1f3fd6" stroke-width="1.8" stroke-linecap="round"/><path d="M575 500L584.74 506.05L577.16 511.26Z" fill="#1f3fd6"/><path d="M620 599C616.17 593.67 603.68 576.25 597 567C590.32 557.75 582.78 547.41 579.94 543.5" fill="none" stroke="#1f3fd6" stroke-width="1.8" stroke-linecap="round"/><path d="M575 536.7L584.89 542.49L577.45 547.9Z" fill="#1f3fd6"/><path d="M620 638C616.17 634 603.51 620.68 597 614C590.49 607.32 583.62 600.62 580.94 597.94" fill="none" stroke="#1f3fd6" stroke-width="1.8" stroke-linecap="round"/><path d="M575 592L585.68 596.17L579.17 602.68Z" fill="#1f3fd6"/><rect x="620.45" y="347.45" width="183.1" height="32.1" fill="#d84f3a" stroke="#c52c17" stroke-width="0.9"/><text x="628.6" y="357.75" font-family="Liberation Mono" font-size="7" fill="#fff" stroke="#fff" stroke-width="0.15" textLength="12.18" lengthAdjust="spacing" xml:space="preserve">L1:</text><text x="679" y="357.75" font-family="Liberation Mono" font-size="7" fill="#fff" stroke="#fff" stroke-width="0.15" textLength="3.78" lengthAdjust="spacing" xml:space="preserve">,</text><path d="M646.99 352.8 649.69 352.8M647.07 354.44 648.34 353.14 649.61 354.44M648.34 354.34 648.34 355.16M645.99 355.16 650.69 355.16M647.02 356.94a1.32 0.87 0 1 0 2.63 0a1.32 0.87 0 1 0 -2.63 0M651.92 354.98 653.16 352.82 654.4 354.98M655.63 352.57 655.63 355.85M654.57 354.21 655.63 354.21M652.69 356.99a1.41 0.83 0 1 0 2.82 0a1.41 0.83 0 1 0 -2.82 0M658.01 355.16a1.03 1.42 0 1 0 2.07 0a1.03 1.42 0 1 0 -2.07 0M661.28 352.57 661.28 358.03M668.09 353.8a1.03 0.98 0 1 0 2.07 0a1.03 0.98 0 1 0 -2.07 0M671.59 352.57 671.59 355.85M670.53 354.21 671.59 354.21M668.5 356 668.5 357.78 669.79 357.78 669.79 356M668.5 356.89 669.79 356.89M670.17 357.99 670.98 356.16 671.79 357.99M674.58 352.9 677.38 352.9 677.38 355.25M676.06 355.82 676.06 357.29M673.71 357.29 678.41 357.29M688.99 352.8 691.69 352.8M689.07 354.44 690.34 353.14 691.61 354.44M687.99 354.34 692.69 354.34M690.34 354.34 690.34 355.44M689.02 356.94a1.32 0.87 0 1 0 2.63 0a1.32 0.87 0 1 0 -2.63 0M693.92 354.98 695.16 352.82 696.4 354.98M697.63 352.57 697.63 355.85M696.57 354.21 697.63 354.21M694.69 356.99a1.41 0.83 0 1 0 2.82 0a1.41 0.83 0 1 0 -2.82 0M705.89 352.27 705.89 358.33M705.89 355.3 707.74 355.3M711.36 352.27 711.36 358.33M711.36 355.3 712.59 355.3M713.41 352.27 713.41 358.33M717.65 352.27 717.65 358.33M717.65 354.39 719.5 354.39M717.65 356.21 719.5 356.21M723.12 352.27 723.12 358.33M723.12 354.39 724.35 354.39M723.12 356.21 724.35 356.21M725.17 352.27 725.17 358.33M730.23 352.27 730.23 358.33M728.38 355.3 730.23 355.3M735.7 352.27 735.7 358.33M734.26 355.3 735.7 355.3M737.14 352.27 737.14 358.33M741.99 352.27 741.99 358.33M740.14 354.39 741.99 354.39M740.14 356.21 741.99 356.21M747.46 352.27 747.46 358.33M746.02 354.39 747.46 354.39M746.02 356.21 747.46 356.21M748.9 352.27 748.9 358.33M753.34 352.27 753.34 358.33" fill="none" stroke="#fff" stroke-width="0.75"/><text x="628.6" y="373.95" font-family="Liberation Mono" font-size="7" fill="#fff" stroke="#fff" stroke-width="0.15" textLength="37.38" lengthAdjust="spacing" xml:space="preserve">0x21-0x33</text><rect x="620.45" y="383.85" width="183.1" height="32.1" fill="#d84f3a" stroke="#c52c17" stroke-width="0.9"/><text x="628.6" y="398.2" font-family="Liberation Mono" font-size="7" fill="#fff" stroke="#fff" stroke-width="0.15" textLength="12.18" lengthAdjust="spacing" xml:space="preserve">L2:</text><text x="679" y="398.2" font-family="Liberation Mono" font-size="7" fill="#fff" stroke="#fff" stroke-width="0.15" textLength="3.78" lengthAdjust="spacing" xml:space="preserve">,</text><path d="M646.99 393.25 649.69 393.25M647.07 394.89 648.34 393.59 649.61 394.89M648.34 394.79 648.34 395.61M645.99 395.61 650.69 395.61M647.02 397.39a1.32 0.87 0 1 0 2.63 0a1.32 0.87 0 1 0 -2.63 0M651.92 395.43 653.16 393.27 654.4 395.43M655.63 393.02 655.63 396.3M654.57 394.66 655.63 394.66M652.69 397.44a1.41 0.83 0 1 0 2.82 0a1.41 0.83 0 1 0 -2.82 0M658.01 395.61a1.03 1.42 0 1 0 2.07 0a1.03 1.42 0 1 0 -2.07 0M661.28 393.02 661.28 398.48M668.09 394.25a1.03 0.98 0 1 0 2.07 0a1.03 0.98 0 1 0 -2.07 0M671.59 393.02 671.59 396.3M670.53 394.66 671.59 394.66M668.5 396.45 668.5 398.23 669.79 398.23 669.79 396.45M668.5 397.34 669.79 397.34M670.17 398.44 670.98 396.61 671.79 398.44M674.58 393.35 677.38 393.35 677.38 395.7M676.06 396.27 676.06 397.74M673.71 397.74 678.41 397.74M688.99 393.25 691.69 393.25M689.07 394.89 690.34 393.59 691.61 394.89M687.99 394.79 692.69 394.79M690.34 394.79 690.34 395.89M689.02 397.39a1.32 0.87 0 1 0 2.63 0a1.32 0.87 0 1 0 -2.63 0M693.92 395.43 695.16 393.27 696.4 395.43M697.63 393.02 697.63 396.3M696.57 394.66 697.63 394.66M694.69 397.44a1.41 0.83 0 1 0 2.82 0a1.41 0.83 0 1 0 -2.82 0M706.3 396.02 706.3 397.66M703.65 397.66 708.95 397.66M711.12 396.02 711.12 397.66M709.53 397.66 712.71 397.66M713.08 393.02 713.08 398.48M713.08 395.75 714.39 395.75M717 396.02 717 397.66M715.41 397.66 718.59 397.66M718.67 393.02 718.67 398.48M718.67 395.75 719.54 395.75M720.12 393.02 720.12 398.48M722.88 396.02 722.88 397.66M721.29 397.66 724.47 397.66M725.13 393.02 725.13 398.48M728.76 396.02 728.76 397.66M730.88 396.02 730.88 397.66M727.17 397.66 732.47 397.66M733.05 397.11 738.35 397.11M738.93 397.11 742.11 397.11M742.77 393.02 742.77 398.48" fill="none" stroke="#fff" stroke-width="0.75"/><text x="628.6" y="406.3" font-family="Liberation Mono" font-size="7" fill="#fff" stroke="#fff" stroke-width="0.15" textLength="37.38" lengthAdjust="spacing" xml:space="preserve">0x3e-0x50</text><rect x="620.45" y="420.65" width="183.1" height="31.6" fill="#d84f3a" stroke="#c52c17" stroke-width="0.9"/><text x="628.6" y="434.75" font-family="Liberation Mono" font-size="7" fill="#fff" stroke="#fff" stroke-width="0.15" textLength="12.18" lengthAdjust="spacing" xml:space="preserve">L3:</text><text x="679" y="434.75" font-family="Liberation Mono" font-size="7" fill="#fff" stroke="#fff" stroke-width="0.15" textLength="3.78" lengthAdjust="spacing" xml:space="preserve">,</text><path d="M646.99 429.8 649.69 429.8M647.07 431.44 648.34 430.14 649.61 431.44M648.34 431.34 648.34 432.16M645.99 432.16 650.69 432.16M647.02 433.94a1.32 0.87 0 1 0 2.63 0a1.32 0.87 0 1 0 -2.63 0M651.92 431.98 653.16 429.82 654.4 431.98M655.63 429.57 655.63 432.85M654.57 431.21 655.63 431.21M652.69 433.99a1.41 0.83 0 1 0 2.82 0a1.41 0.83 0 1 0 -2.82 0M658.01 432.16a1.03 1.42 0 1 0 2.07 0a1.03 1.42 0 1 0 -2.07 0M661.28 429.57 661.28 435.03M668.09 430.8a1.03 0.98 0 1 0 2.07 0a1.03 0.98 0 1 0 -2.07 0M671.59 429.57 671.59 432.85M670.53 431.21 671.59 431.21M668.5 433 668.5 434.78 669.79 434.78 669.79 433M668.5 433.89 669.79 433.89M670.17 434.99 670.98 433.16 671.79 434.99M674.58 429.9 677.38 429.9 677.38 432.25M676.06 432.82 676.06 434.29M673.71 434.29 678.41 434.29M688.99 429.8 691.69 429.8M689.07 431.44 690.34 430.14 691.61 431.44M687.99 431.34 692.69 431.34M690.34 431.34 690.34 432.44M689.02 433.94a1.32 0.87 0 1 0 2.63 0a1.32 0.87 0 1 0 -2.63 0M693.92 431.98 695.16 429.82 696.4 431.98M697.63 429.57 697.63 432.85M696.57 431.21 697.63 431.21M694.69 433.99a1.41 0.83 0 1 0 2.82 0a1.41 0.83 0 1 0 -2.82 0M703.65 432.57 708.95 432.57M706.3 432.57 706.3 434.76M709.53 432.57 712.71 432.57M711.12 432.57 711.12 434.76M713.66 429.57 713.66 435.03M712.35 432.3 713.66 432.3M715.41 432.57 718.59 432.57M717 432.57 717 434.76M719.25 429.57 719.25 435.03M718.23 432.3 719.25 432.3M720.27 429.57 720.27 435.03M721.29 432.57 724.47 432.57M722.88 432.57 722.88 434.76M725.13 429.57 725.13 435.03M727.17 432.57 732.47 432.57M728.76 432.57 728.76 434.76M730.88 432.57 730.88 434.76" fill="none" stroke="#fff" stroke-width="0.75"/><text x="628.6" y="442.85" font-family="Liberation Mono" font-size="7" fill="#fff" stroke="#fff" stroke-width="0.15" textLength="37.38" lengthAdjust="spacing" xml:space="preserve">0x59-0x6b</text><rect x="620.45" y="467.45" width="183.1" height="31.3" fill="#d84f3a" stroke="#c52c17" stroke-width="0.9"/><text x="628.6" y="481.4" font-family="Liberation Mono" font-size="7" fill="#fff" stroke="#fff" stroke-width="0.15" textLength="12.18" lengthAdjust="spacing" xml:space="preserve">L4:</text><text x="679" y="481.4" font-family="Liberation Mono" font-size="7" fill="#fff" stroke="#fff" stroke-width="0.15" textLength="3.78" lengthAdjust="spacing" xml:space="preserve">,</text><text x="756.28" y="481.4" font-family="Liberation Mono" font-size="7" fill="#fff" stroke="#fff" stroke-width="0.15" textLength="3.78" lengthAdjust="spacing" xml:space="preserve">,</text><path d="M646.99 476.45 649.69 476.45M647.07 478.09 648.34 476.79 649.61 478.09M648.34 477.99 648.34 478.81M645.99 478.81 650.69 478.81M647.02 480.59a1.32 0.87 0 1 0 2.63 0a1.32 0.87 0 1 0 -2.63 0M651.92 478.63 653.16 476.47 654.4 478.63M655.63 476.22 655.63 479.5M654.57 477.86 655.63 477.86M652.69 480.64a1.41 0.83 0 1 0 2.82 0a1.41 0.83 0 1 0 -2.82 0M658.01 478.81a1.03 1.42 0 1 0 2.07 0a1.03 1.42 0 1 0 -2.07 0M661.28 476.22 661.28 481.68M668.09 477.45a1.03 0.98 0 1 0 2.07 0a1.03 0.98 0 1 0 -2.07 0M671.36 476.22 671.36 479.5M668.33 481.64 669.15 479.81 669.96 481.64M670.17 481.64 670.98 479.81 671.79 481.64M674.58 476.55 677.38 476.55 677.38 478.9M676.06 479.47 676.06 480.94M673.71 480.94 678.41 480.94M688.99 476.45 691.69 476.45M689.07 478.09 690.34 476.79 691.61 478.09M687.99 477.99 692.69 477.99M690.34 477.99 690.34 479.09M689.02 480.59a1.32 0.87 0 1 0 2.63 0a1.32 0.87 0 1 0 -2.63 0M693.92 478.63 695.16 476.47 696.4 478.63M697.63 476.22 697.63 479.5M696.57 477.86 697.63 477.86M694.69 480.64a1.41 0.83 0 1 0 2.82 0a1.41 0.83 0 1 0 -2.82 0M705.89 475.92 705.89 481.98M705.89 478.95 707.74 478.95M711.36 475.92 711.36 481.98M711.36 478.95 712.59 478.95M713.41 475.92 713.41 481.98M717.65 475.92 717.65 481.98M717.65 478.04 719.5 478.04M717.65 479.86 719.5 479.86M723.12 475.92 723.12 481.98M723.12 478.04 724.35 478.04M723.12 479.86 724.35 479.86M725.17 475.92 725.17 481.98M730.23 475.92 730.23 481.98M728.38 478.95 730.23 478.95M735.7 475.92 735.7 481.98M734.26 478.95 735.7 478.95M737.14 475.92 737.14 481.98M741.99 475.92 741.99 481.98M740.14 478.04 741.99 478.04M740.14 479.86 741.99 479.86M747.46 475.92 747.46 481.98M746.02 478.04 747.46 478.04M746.02 479.86 747.46 479.86M748.9 475.92 748.9 481.98M753.34 475.92 753.34 481.98M762.36 479.22 762.36 480.86M760.77 480.86 763.95 480.86M764.32 476.22 764.32 481.68M764.32 478.95 765.63 478.95M768.24 479.22 768.24 480.86M766.65 480.86 769.83 480.86M769.91 476.22 769.91 481.68M769.91 478.95 770.78 478.95M771.36 476.22 771.36 481.68M774.12 479.22 774.12 480.86M772.53 480.86 775.71 480.86M776.37 476.22 776.37 481.68M778.41 479.22 781.59 479.22M780 479.22 780 481.41M782.54 476.22 782.54 481.68M781.23 478.95 782.54 478.95M784.29 479.22 787.47 479.22M785.88 479.22 785.88 481.41M788.13 476.22 788.13 481.68M787.11 478.95 788.13 478.95M789.15 476.22 789.15 481.68M790.17 479.22 793.35 479.22M791.76 479.22 791.76 481.41M794.01 476.22 794.01 481.68" fill="none" stroke="#fff" stroke-width="0.75"/><text x="638.68" y="489.5" font-family="Liberation Mono" font-size="7" fill="#fff" stroke="#fff" stroke-width="0.15" textLength="37.38" lengthAdjust="spacing" xml:space="preserve">0x72-0x84</text><path d="M628.89 488.42 632.07 488.42M632.73 484.32 632.73 489.78" fill="none" stroke="#fff" stroke-width="0.75"/><rect x="620.45" y="503.05" width="183.1" height="31.8" fill="#d84f3a" stroke="#c52c17" stroke-width="0.9"/><text x="628.6" y="517.25" font-family="Liberation Mono" font-size="7" fill="#fff" stroke="#fff" stroke-width="0.15" textLength="12.18" lengthAdjust="spacing" xml:space="preserve">L5:</text><text x="679" y="517.25" font-family="Liberation Mono" font-size="7" fill="#fff" stroke="#fff" stroke-width="0.15" textLength="3.78" lengthAdjust="spacing" xml:space="preserve">,</text><path d="M646.99 512.3 649.69 512.3M647.07 513.94 648.34 512.64 649.61 513.94M648.34 513.84 648.34 514.66M645.99 514.66 650.69 514.66M647.02 516.44a1.32 0.87 0 1 0 2.63 0a1.32 0.87 0 1 0 -2.63 0M651.92 514.48 653.16 512.32 654.4 514.48M655.63 512.07 655.63 515.35M654.57 513.71 655.63 513.71M652.69 516.49a1.41 0.83 0 1 0 2.82 0a1.41 0.83 0 1 0 -2.82 0M658.01 514.66a1.03 1.42 0 1 0 2.07 0a1.03 1.42 0 1 0 -2.07 0M661.28 512.07 661.28 517.53M668.09 513.3a1.03 0.98 0 1 0 2.07 0a1.03 0.98 0 1 0 -2.07 0M671.36 512.07 671.36 515.35M668.33 517.49 669.15 515.66 669.96 517.49M670.17 517.49 670.98 515.66 671.79 517.49M674.58 512.4 677.38 512.4 677.38 514.75M676.06 515.32 676.06 516.79M673.71 516.79 678.41 516.79M688.99 512.3 691.69 512.3M689.07 513.94 690.34 512.64 691.61 513.94M687.99 513.84 692.69 513.84M690.34 513.84 690.34 514.94M689.02 516.44a1.32 0.87 0 1 0 2.63 0a1.32 0.87 0 1 0 -2.63 0M693.92 514.48 695.16 512.32 696.4 514.48M697.63 512.07 697.63 515.35M696.57 513.71 697.63 513.71M694.69 516.49a1.41 0.83 0 1 0 2.82 0a1.41 0.83 0 1 0 -2.82 0M706.3 515.07 706.3 516.71M703.65 516.71 708.95 516.71M711.12 515.07 711.12 516.71M713.24 515.07 713.24 516.71M709.53 516.71 714.83 516.71M715.41 515.07 720.71 515.07M718.06 515.07 718.06 517.26M721.29 515.07 726.59 515.07M722.88 515.07 722.88 517.26M725 515.07 725 517.26M727.17 516.17 732.47 516.17" fill="none" stroke="#fff" stroke-width="0.75"/><text x="628.6" y="525.35" font-family="Liberation Mono" font-size="7" fill="#fff" stroke="#fff" stroke-width="0.15" textLength="37.38" lengthAdjust="spacing" xml:space="preserve">0xcd-0xdf</text><rect x="620.45" y="551.45" width="183.1" height="31.8" fill="#2b5ce6" stroke="#0c30d8" stroke-width="0.9"/><text x="628.6" y="565.65" font-family="Liberation Mono" font-size="7" fill="#fff" stroke="#fff" stroke-width="0.15" textLength="12.18" lengthAdjust="spacing" xml:space="preserve">T1:</text><path d="M646.99 560.7 649.69 560.7M647.07 562.34 648.34 561.04 649.61 562.34M645.99 562.24 650.69 562.24M648.34 562.24 648.34 563.34M647.02 564.84a1.32 0.87 0 1 0 2.63 0a1.32 0.87 0 1 0 -2.63 0M651.92 562.88 653.16 560.72 654.4 562.88M655.63 560.47 655.63 563.75M654.57 562.11 655.63 562.11M652.69 564.89a1.41 0.83 0 1 0 2.82 0a1.41 0.83 0 1 0 -2.82 0M663.89 560.17 663.89 566.23M663.89 563.2 665.74 563.2M669.36 560.17 669.36 566.23M669.36 563.2 670.59 563.2M671.41 560.17 671.41 566.23M675.65 560.17 675.65 566.23M675.65 562.29 677.5 562.29M675.65 564.11 677.5 564.11M681.12 560.17 681.12 566.23M681.12 562.29 682.35 562.29M681.12 564.11 682.35 564.11M683.17 560.17 683.17 566.23M688.23 560.17 688.23 566.23M686.38 563.2 688.23 563.2M693.7 560.17 693.7 566.23M692.26 563.2 693.7 563.2M695.14 560.17 695.14 566.23M699.99 560.17 699.99 566.23M698.14 562.29 699.99 562.29M698.14 564.11 699.99 564.11M705.46 560.17 705.46 566.23M704.02 562.29 705.46 562.29M704.02 564.11 705.46 564.11M706.9 560.17 706.9 566.23M711.34 560.17 711.34 566.23" fill="none" stroke="#fff" stroke-width="0.75"/><path d="M661.36 567.35L662.56 566.75L663.76 567.95L664.96 566.75L666.16 567.95L667.36 566.75L668.56 567.95L669.76 566.75L670.96 567.95L672.16 566.75L673.36 567.95L674.56 566.75L675.76 567.95L676.96 566.75L678.16 567.95L679.36 566.75L680.56 567.95L681.76 566.75L682.96 567.95L684.16 566.75L685.36 567.95L686.56 566.75L687.76 567.95L688.96 566.75L690.16 567.95L691.36 566.75L692.56 567.95L693.76 566.75L694.96 567.95L696.16 566.75L697.36 567.95L698.56 566.75L699.76 567.95L700.96 566.75L702.16 567.95L703.36 566.75L704.56 567.95L705.76 566.75L706.96 567.95L708.16 566.75L709.36 567.95L710.56 566.75L711.76 567.95L712.96 566.75L714.16 567.95L714.28 566.75" fill="none" stroke="#e03020" stroke-width="0.9"/><text x="628.6" y="573.75" font-family="Liberation Mono" font-size="7" fill="#fff" stroke="#fff" stroke-width="0.15" textLength="37.38" lengthAdjust="spacing" xml:space="preserve">0x8e-0xa8</text><rect x="620.45" y="588.45" width="183.1" height="30.7" fill="#2b5ce6" stroke="#0c30d8" stroke-width="0.9"/><text x="628.6" y="602.1" font-family="Liberation Mono" font-size="7" fill="#fff" stroke="#fff" stroke-width="0.15" textLength="12.18" lengthAdjust="spacing" xml:space="preserve">T2:</text><path d="M646.99 597.15 649.69 597.15M647.07 598.79 648.34 597.49 649.61 598.79M645.99 598.69 650.69 598.69M648.34 598.69 648.34 599.79M647.02 601.29a1.32 0.87 0 1 0 2.63 0a1.32 0.87 0 1 0 -2.63 0M651.92 599.33 653.16 597.17 654.4 599.33M655.63 596.92 655.63 600.2M654.57 598.56 655.63 598.56M652.69 601.34a1.41 0.83 0 1 0 2.82 0a1.41 0.83 0 1 0 -2.82 0M663.24 599.92 663.24 601.56M661.65 601.56 664.83 601.56M665.2 596.92 665.2 602.38M665.2 599.65 666.51 599.65M669.12 599.92 669.12 601.56M667.53 601.56 670.71 601.56M670.79 596.92 670.79 602.38M670.79 599.65 671.66 599.65M672.24 596.92 672.24 602.38M675 599.92 675 601.56M673.41 601.56 676.59 601.56M677.25 596.92 677.25 602.38M679.29 599.92 682.47 599.92M680.88 599.92 680.88 602.11M683.42 596.92 683.42 602.38M682.11 599.65 683.42 599.65M685.17 599.92 688.35 599.92M686.76 599.92 686.76 602.11M689.01 596.92 689.01 602.38M687.99 599.65 689.01 599.65M690.03 596.92 690.03 602.38M691.05 599.92 694.23 599.92M692.64 599.92 692.64 602.11M694.89 596.92 694.89 602.38M696.93 601.02 700.11 601.02M700.77 596.92 700.77 602.38" fill="none" stroke="#fff" stroke-width="0.75"/><path d="M661.36 603.8L662.56 603.2L663.76 604.4L664.96 603.2L666.16 604.4L667.36 603.2L668.56 604.4L669.76 603.2L670.96 604.4L672.16 603.2L673.36 604.4L674.56 603.2L675.76 604.4L676.96 603.2L678.16 604.4L679.36 603.2L680.56 604.4L681.76 603.2L682.96 604.4L684.16 603.2L685.36 604.4L686.56 603.2L687.76 604.4L688.96 603.2L690.16 604.4L691.36 603.2L692.56 604.4L693.76 603.2L694.96 604.4L696.16 603.2L697.36 604.4L698.56 603.2L699.76 604.4L700.96 603.2L702.16 604.4L702.52 603.2" fill="none" stroke="#e03020" stroke-width="0.9"/><text x="628.6" y="610.2" font-family="Liberation Mono" font-size="7" fill="#fff" stroke="#fff" stroke-width="0.15" textLength="37.38" lengthAdjust="spacing" xml:space="preserve">0xb1-0xcb</text><rect x="620.45" y="624.45" width="183.1" height="31.6" fill="#2b5ce6" stroke="#0c30d8" stroke-width="0.9"/><text x="628.6" y="638.55" font-family="Liberation Mono" font-size="7" fill="#fff" stroke="#fff" stroke-width="0.15" textLength="12.18" lengthAdjust="spacing" xml:space="preserve">T3:</text><path d="M646.99 633.6 649.69 633.6M647.07 635.24 648.34 633.94 649.61 635.24M645.99 635.14 650.69 635.14M648.34 635.14 648.34 636.24M647.02 637.74a1.32 0.87 0 1 0 2.63 0a1.32 0.87 0 1 0 -2.63 0M651.92 635.78 653.16 633.62 654.4 635.78M655.63 633.37 655.63 636.65M654.57 635.01 655.63 635.01M652.69 637.79a1.41 0.83 0 1 0 2.82 0a1.41 0.83 0 1 0 -2.82 0M664.3 636.37 664.3 638.01M661.65 638.01 666.95 638.01M669.12 636.37 669.12 638.01M671.24 636.37 671.24 638.01M667.53 638.01 672.83 638.01M673.41 636.37 678.71 636.37M676.06 636.37 676.06 638.56M679.29 636.37 684.59 636.37M680.88 636.37 680.88 638.56M683 636.37 683 638.56M685.17 637.47 690.47 637.47" fill="none" stroke="#fff" stroke-width="0.75"/><path d="M661.36 640.25L662.56 639.65L663.76 640.85L664.96 639.65L666.16 640.85L667.36 639.65L668.56 640.85L669.76 639.65L670.96 640.85L672.16 639.65L673.36 640.85L674.56 639.65L675.76 640.85L676.96 639.65L678.16 640.85L679.36 639.65L680.56 640.85L681.76 639.65L682.96 640.85L684.16 639.65L685.36 640.85L686.56 639.65L687.76 640.85L688.96 639.65L690.16 640.85L690.76 639.65" fill="none" stroke="#e03020" stroke-width="0.9"/><text x="628.6" y="646.65" font-family="Liberation Mono" font-size="7" fill="#fff" stroke="#fff" stroke-width="0.15" textLength="37.38" lengthAdjust="spacing" xml:space="preserve">0xe5-0xff</text><rect x="822.45" y="347.45" width="182.7" height="31.7" fill="#6cb562" stroke="#5aa84f" stroke-width="0.9"/><text x="829.9" y="361.6" font-family="Liberation Mono" font-size="7" fill="#fff" stroke="#fff" stroke-width="0.15" textLength="12.18" lengthAdjust="spacing" xml:space="preserve">V1:</text><text x="880.3" y="361.6" font-family="Liberation Mono" font-size="7" fill="#fff" stroke="#fff" stroke-width="0.15" textLength="3.78" lengthAdjust="spacing" xml:space="preserve">,</text><path d="M848.29 356.65 850.99 356.65M848.37 358.29 849.64 356.99 850.91 358.29M849.64 358.19 849.64 359.01M847.29 359.01 851.99 359.01M848.32 360.79a1.32 0.87 0 1 0 2.63 0a1.32 0.87 0 1 0 -2.63 0M853.22 358.83 854.46 356.67 855.7 358.83M856.93 356.42 856.93 359.7M855.87 358.06 856.93 358.06M853.99 360.84a1.41 0.83 0 1 0 2.82 0a1.41 0.83 0 1 0 -2.82 0M859.31 359.01a1.03 1.42 0 1 0 2.07 0a1.03 1.42 0 1 0 -2.07 0M862.58 356.42 862.58 361.88M869.39 357.65a1.03 0.98 0 1 0 2.07 0a1.03 0.98 0 1 0 -2.07 0M872.89 356.42 872.89 359.7M871.83 358.06 872.89 358.06M869.8 359.85 869.8 361.63 871.09 361.63 871.09 359.85M869.8 360.74 871.09 360.74M871.47 361.84 872.28 360.01 873.09 361.84M875.88 356.75 878.68 356.75 878.68 359.1M877.36 359.67 877.36 361.14M875.01 361.14 879.71 361.14" fill="none" stroke="#fff" stroke-width="0.75"/><text x="829.9" y="369.7" font-family="Liberation Mono" font-size="7" fill="#fff" stroke="#fff" stroke-width="0.15" textLength="129.78" lengthAdjust="spacing" xml:space="preserve">0x34-0x3c, 0x51-0x57, 0x6c-0x70</text><rect x="822.45" y="383.85" width="182.7" height="31.9" fill="#6cb562" stroke="#5aa84f" stroke-width="0.9"/><text x="829.9" y="398.1" font-family="Liberation Mono" font-size="7" fill="#fff" stroke="#fff" stroke-width="0.15" textLength="12.18" lengthAdjust="spacing" xml:space="preserve">V2:</text><text x="880.3" y="398.1" font-family="Liberation Mono" font-size="7" fill="#fff" stroke="#fff" stroke-width="0.15" textLength="3.78" lengthAdjust="spacing" xml:space="preserve">,</text><path d="M848.29 393.15 850.99 393.15M848.37 394.79 849.64 393.49 850.91 394.79M849.64 394.69 849.64 395.51M847.29 395.51 851.99 395.51M848.32 397.29a1.32 0.87 0 1 0 2.63 0a1.32 0.87 0 1 0 -2.63 0M853.22 395.33 854.46 393.17 855.7 395.33M856.93 392.92 856.93 396.2M855.87 394.56 856.93 394.56M853.99 397.34a1.41 0.83 0 1 0 2.82 0a1.41 0.83 0 1 0 -2.82 0M859.31 395.51a1.03 1.42 0 1 0 2.07 0a1.03 1.42 0 1 0 -2.07 0M862.58 392.92 862.58 398.38M869.39 394.15a1.03 0.98 0 1 0 2.07 0a1.03 0.98 0 1 0 -2.07 0M872.66 392.92 872.66 396.2M869.63 398.34 870.45 396.51 871.26 398.34M871.47 398.34 872.28 396.51 873.09 398.34M875.88 393.25 878.68 393.25 878.68 395.6M877.36 396.17 877.36 397.64M875.01 397.64 879.71 397.64" fill="none" stroke="#fff" stroke-width="0.75"/><text x="829.9" y="406.2" font-family="Liberation Mono" font-size="7" fill="#fff" stroke="#fff" stroke-width="0.15" textLength="129.78" lengthAdjust="spacing" xml:space="preserve">0x85-0x8d, 0xaa-0xb0, 0xe0-0xe4</text><rect x="1063.5" y="220.5" width="181.5" height="283.5" rx="10" fill="#000" opacity="0.16" filter="url(#sh)"/><rect x="1063.2" y="219.2" width="181.8" height="283.6" rx="10" fill="#fff" stroke="#dcdcdc" stroke-width="0.7"/><g fill="#000"><path d="M1108.5 282.7L1113.3 276.8L1110.7 272L1119.2 266.7L1148 253.9L1161.9 247.5L1166.1 248L1166.7 250.7L1165.1 252.8L1169.3 253.9L1176.8 255.5L1168.3 260.3L1162.9 262.4L1149.1 270.9L1124.5 282.7L1116 284.3L1109.6 283.7Z"/><path d="M1149.6 268L1164 260L1158.7 320L1158.6 380L1157.5 398L1146 402L1145.8 379.7L1150.1 320Z"/><path d="M1150 291.5L1150 301L1122 318Q1116.5 320 1116 313.5Q1116 309 1119.5 307.5Z"/><path d="M1109.6 370.8L1198.1 323.8L1201 328.5L1194 336.5L1112.8 376L1109 374.5Z"/></g><ellipse cx="1166.3" cy="426.5" rx="21.5" ry="42" transform="rotate(12 1166.3 426.5)" fill="none" stroke="#000" stroke-width="12.5"/><ellipse cx="1165" cy="428" rx="21.5" ry="42" transform="rotate(12 1165 428)" fill="none" stroke="#000" stroke-width="11"/></svg></body></html>
